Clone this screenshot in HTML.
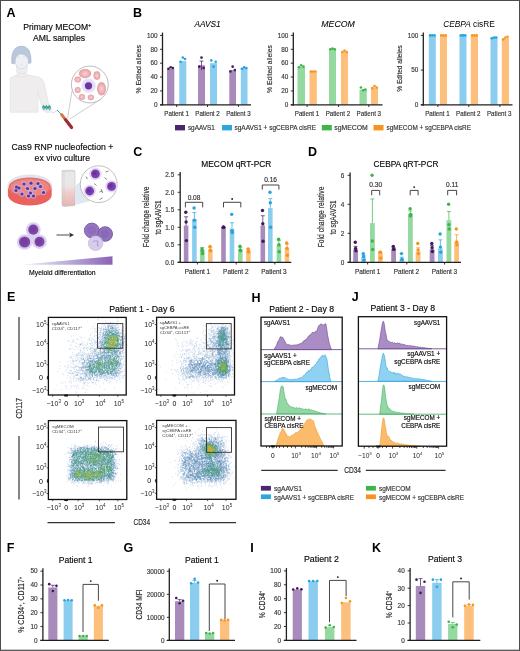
<!DOCTYPE html>
<html><head><meta charset="utf-8"><style>
html,body{margin:0;padding:0;background:#fff;}
body{width:520px;height:651px;overflow:hidden;}
svg{display:block;font-family:"Liberation Sans", sans-serif;will-change:transform;filter:blur(0.3px);}
</style></head><body>
<svg width="520" height="651" viewBox="0 0 520 651">
<rect width="520" height="651" fill="#fff"/>
<text x="6.60" y="16.80" font-size="12.5" font-weight="bold" fill="#000">A</text>
<text x="133.00" y="16.80" font-size="12.5" font-weight="bold" fill="#000">B</text>
<text x="133.30" y="156.40" font-size="12.5" font-weight="bold" fill="#000">C</text>
<text x="307.90" y="156.20" font-size="12.5" font-weight="bold" fill="#000">D</text>
<text x="6.90" y="301.20" font-size="12.5" font-weight="bold" fill="#000">E</text>
<text x="251.50" y="301.50" font-size="12.5" font-weight="bold" fill="#000">H</text>
<text x="351.70" y="301.10" font-size="12.5" font-weight="bold" fill="#000">J</text>
<text x="6.70" y="551.80" font-size="12.5" font-weight="bold" fill="#000">F</text>
<text x="123.60" y="551.70" font-size="12.5" font-weight="bold" fill="#000">G</text>
<text x="250.20" y="551.80" font-size="12.5" font-weight="bold" fill="#000">I</text>
<text x="371.90" y="551.80" font-size="12.5" font-weight="bold" fill="#000">K</text>
<text x="207.60" y="27.00" font-size="8.3" text-anchor="middle" font-style="italic" textLength="26.30" lengthAdjust="spacingAndGlyphs" stroke="#231f20" stroke-width="0.08">AAVS1</text>
<text x="338.10" y="27.00" font-size="8.3" text-anchor="middle" font-style="italic" textLength="33.50" lengthAdjust="spacingAndGlyphs" stroke="#231f20" stroke-width="0.08">MECOM</text>
<text x="443.3" y="27.0" font-size="8.3"><tspan font-style="italic">CEBPA</tspan> cisRE</text>
<rect x="167.00" y="68.71" width="7.30" height="36.09" fill="#a88bbb"/>
<circle cx="168.45" cy="68.71" r="1.30" fill="#3f1b5c"/>
<circle cx="170.65" cy="67.32" r="1.30" fill="#3f1b5c"/>
<circle cx="172.85" cy="68.02" r="1.30" fill="#3f1b5c"/>
<rect x="179.30" y="61.08" width="7.00" height="43.72" fill="#8acdef"/>
<circle cx="180.60" cy="61.77" r="1.30" fill="#27a3dc"/>
<circle cx="182.80" cy="57.61" r="1.30" fill="#27a3dc"/>
<circle cx="185.00" cy="59.00" r="1.30" fill="#27a3dc"/>
<rect x="198.00" y="65.24" width="7.00" height="39.56" fill="#a88bbb"/>
<line x1="201.50" y1="70.10" x2="201.50" y2="61.08" stroke="#3f1b5c" stroke-width="0.7"/>
<line x1="199.50" y1="61.08" x2="203.50" y2="61.08" stroke="#3f1b5c" stroke-width="0.7"/>
<circle cx="199.30" cy="66.63" r="1.30" fill="#3f1b5c"/>
<circle cx="201.50" cy="57.61" r="1.30" fill="#3f1b5c"/>
<circle cx="203.70" cy="68.02" r="1.30" fill="#3f1b5c"/>
<rect x="210.00" y="63.16" width="7.00" height="41.64" fill="#8acdef"/>
<circle cx="211.30" cy="60.38" r="1.30" fill="#27a3dc"/>
<circle cx="213.50" cy="66.63" r="1.30" fill="#27a3dc"/>
<circle cx="215.70" cy="61.77" r="1.30" fill="#27a3dc"/>
<rect x="229.30" y="70.10" width="6.70" height="34.70" fill="#a88bbb"/>
<circle cx="230.45" cy="71.49" r="1.30" fill="#3f1b5c"/>
<circle cx="232.65" cy="66.63" r="1.30" fill="#3f1b5c"/>
<circle cx="234.85" cy="70.10" r="1.30" fill="#3f1b5c"/>
<rect x="240.80" y="68.02" width="6.70" height="36.78" fill="#8acdef"/>
<circle cx="241.95" cy="68.71" r="1.30" fill="#27a3dc"/>
<circle cx="244.15" cy="67.32" r="1.30" fill="#27a3dc"/>
<circle cx="246.35" cy="68.02" r="1.30" fill="#27a3dc"/>
<line x1="162.50" y1="32.60" x2="162.50" y2="105.40" stroke="#231f20" stroke-width="1.3"/>
<line x1="160.00" y1="104.80" x2="251.00" y2="104.80" stroke="#231f20" stroke-width="1.3"/>
<line x1="160.00" y1="104.80" x2="162.50" y2="104.80" stroke="#231f20" stroke-width="0.9"/>
<text x="157.60" y="107.10" font-size="6.4" text-anchor="end" fill="#3a3a3a" stroke="#3a3a3a" stroke-width="0.16">0</text>
<line x1="160.00" y1="90.92" x2="162.50" y2="90.92" stroke="#231f20" stroke-width="0.9"/>
<text x="157.60" y="93.22" font-size="6.4" text-anchor="end" fill="#3a3a3a" stroke="#3a3a3a" stroke-width="0.16">20</text>
<line x1="160.00" y1="77.04" x2="162.50" y2="77.04" stroke="#231f20" stroke-width="0.9"/>
<text x="157.60" y="79.34" font-size="6.4" text-anchor="end" fill="#3a3a3a" stroke="#3a3a3a" stroke-width="0.16">40</text>
<line x1="160.00" y1="63.16" x2="162.50" y2="63.16" stroke="#231f20" stroke-width="0.9"/>
<text x="157.60" y="65.46" font-size="6.4" text-anchor="end" fill="#3a3a3a" stroke="#3a3a3a" stroke-width="0.16">60</text>
<line x1="160.00" y1="49.28" x2="162.50" y2="49.28" stroke="#231f20" stroke-width="0.9"/>
<text x="157.60" y="51.58" font-size="6.4" text-anchor="end" fill="#3a3a3a" stroke="#3a3a3a" stroke-width="0.16">80</text>
<line x1="160.00" y1="35.40" x2="162.50" y2="35.40" stroke="#231f20" stroke-width="0.9"/>
<text x="157.60" y="37.70" font-size="6.4" text-anchor="end" fill="#3a3a3a" stroke="#3a3a3a" stroke-width="0.16">100</text>
<line x1="176.70" y1="104.80" x2="176.70" y2="107.00" stroke="#231f20" stroke-width="0.9"/>
<line x1="207.50" y1="104.80" x2="207.50" y2="107.00" stroke="#231f20" stroke-width="0.9"/>
<line x1="238.40" y1="104.80" x2="238.40" y2="107.00" stroke="#231f20" stroke-width="0.9"/>
<rect x="297.50" y="66.63" width="7.50" height="38.17" fill="#95d8a0"/>
<circle cx="299.05" cy="67.32" r="1.30" fill="#3db54b"/>
<circle cx="301.25" cy="65.24" r="1.30" fill="#3db54b"/>
<circle cx="303.45" cy="66.63" r="1.30" fill="#3db54b"/>
<rect x="309.50" y="71.49" width="7.30" height="33.31" fill="#fcc07c"/>
<circle cx="310.95" cy="71.49" r="1.30" fill="#f7941d"/>
<circle cx="313.15" cy="71.49" r="1.30" fill="#f7941d"/>
<circle cx="315.35" cy="71.49" r="1.30" fill="#f7941d"/>
<rect x="329.00" y="49.28" width="7.00" height="55.52" fill="#95d8a0"/>
<circle cx="330.30" cy="49.28" r="1.30" fill="#3db54b"/>
<circle cx="332.50" cy="48.59" r="1.30" fill="#3db54b"/>
<circle cx="334.70" cy="49.28" r="1.30" fill="#3db54b"/>
<rect x="341.00" y="52.06" width="7.00" height="52.74" fill="#fcc07c"/>
<circle cx="342.30" cy="52.06" r="1.30" fill="#f7941d"/>
<circle cx="344.50" cy="50.67" r="1.30" fill="#f7941d"/>
<circle cx="346.70" cy="52.06" r="1.30" fill="#f7941d"/>
<rect x="359.50" y="89.53" width="7.30" height="15.27" fill="#95d8a0"/>
<circle cx="360.95" cy="87.45" r="1.30" fill="#3db54b"/>
<circle cx="363.15" cy="90.23" r="1.30" fill="#3db54b"/>
<circle cx="365.35" cy="89.53" r="1.30" fill="#3db54b"/>
<rect x="371.00" y="87.45" width="7.00" height="17.35" fill="#fcc07c"/>
<circle cx="372.30" cy="88.14" r="1.30" fill="#f7941d"/>
<circle cx="374.50" cy="86.06" r="1.30" fill="#f7941d"/>
<circle cx="376.70" cy="87.45" r="1.30" fill="#f7941d"/>
<line x1="293.30" y1="32.60" x2="293.30" y2="105.40" stroke="#231f20" stroke-width="1.3"/>
<line x1="290.80" y1="104.80" x2="382.50" y2="104.80" stroke="#231f20" stroke-width="1.3"/>
<line x1="290.80" y1="104.80" x2="293.30" y2="104.80" stroke="#231f20" stroke-width="0.9"/>
<text x="288.40" y="107.10" font-size="6.4" text-anchor="end" fill="#3a3a3a" stroke="#3a3a3a" stroke-width="0.16">0</text>
<line x1="290.80" y1="90.92" x2="293.30" y2="90.92" stroke="#231f20" stroke-width="0.9"/>
<text x="288.40" y="93.22" font-size="6.4" text-anchor="end" fill="#3a3a3a" stroke="#3a3a3a" stroke-width="0.16">20</text>
<line x1="290.80" y1="77.04" x2="293.30" y2="77.04" stroke="#231f20" stroke-width="0.9"/>
<text x="288.40" y="79.34" font-size="6.4" text-anchor="end" fill="#3a3a3a" stroke="#3a3a3a" stroke-width="0.16">40</text>
<line x1="290.80" y1="63.16" x2="293.30" y2="63.16" stroke="#231f20" stroke-width="0.9"/>
<text x="288.40" y="65.46" font-size="6.4" text-anchor="end" fill="#3a3a3a" stroke="#3a3a3a" stroke-width="0.16">60</text>
<line x1="290.80" y1="49.28" x2="293.30" y2="49.28" stroke="#231f20" stroke-width="0.9"/>
<text x="288.40" y="51.58" font-size="6.4" text-anchor="end" fill="#3a3a3a" stroke="#3a3a3a" stroke-width="0.16">80</text>
<line x1="290.80" y1="35.40" x2="293.30" y2="35.40" stroke="#231f20" stroke-width="0.9"/>
<text x="288.40" y="37.70" font-size="6.4" text-anchor="end" fill="#3a3a3a" stroke="#3a3a3a" stroke-width="0.16">100</text>
<line x1="307.10" y1="104.80" x2="307.10" y2="107.00" stroke="#231f20" stroke-width="0.9"/>
<line x1="338.50" y1="104.80" x2="338.50" y2="107.00" stroke="#231f20" stroke-width="0.9"/>
<line x1="368.80" y1="104.80" x2="368.80" y2="107.00" stroke="#231f20" stroke-width="0.9"/>
<rect x="428.80" y="35.40" width="7.00" height="69.40" fill="#8acdef"/>
<circle cx="430.10" cy="35.40" r="1.30" fill="#27a3dc"/>
<circle cx="432.30" cy="35.40" r="1.30" fill="#27a3dc"/>
<circle cx="434.50" cy="35.40" r="1.30" fill="#27a3dc"/>
<rect x="440.00" y="35.40" width="7.00" height="69.40" fill="#fcc07c"/>
<circle cx="441.30" cy="35.40" r="1.30" fill="#f7941d"/>
<circle cx="443.50" cy="35.40" r="1.30" fill="#f7941d"/>
<circle cx="445.70" cy="35.40" r="1.30" fill="#f7941d"/>
<rect x="459.50" y="35.40" width="7.00" height="69.40" fill="#8acdef"/>
<circle cx="460.80" cy="35.40" r="1.30" fill="#27a3dc"/>
<circle cx="463.00" cy="35.40" r="1.30" fill="#27a3dc"/>
<circle cx="465.20" cy="35.40" r="1.30" fill="#27a3dc"/>
<rect x="470.80" y="35.40" width="7.20" height="69.40" fill="#fcc07c"/>
<circle cx="472.20" cy="35.40" r="1.30" fill="#f7941d"/>
<circle cx="474.40" cy="35.40" r="1.30" fill="#f7941d"/>
<circle cx="476.60" cy="35.40" r="1.30" fill="#f7941d"/>
<rect x="490.50" y="37.48" width="7.00" height="67.32" fill="#8acdef"/>
<circle cx="491.80" cy="38.18" r="1.30" fill="#27a3dc"/>
<circle cx="494.00" cy="37.48" r="1.30" fill="#27a3dc"/>
<circle cx="496.20" cy="37.48" r="1.30" fill="#27a3dc"/>
<rect x="501.80" y="38.18" width="7.20" height="66.62" fill="#fcc07c"/>
<circle cx="503.20" cy="39.56" r="1.30" fill="#f7941d"/>
<circle cx="505.40" cy="37.48" r="1.30" fill="#f7941d"/>
<circle cx="507.60" cy="36.79" r="1.30" fill="#f7941d"/>
<line x1="423.30" y1="32.60" x2="423.30" y2="105.40" stroke="#231f20" stroke-width="1.3"/>
<line x1="420.80" y1="104.80" x2="512.50" y2="104.80" stroke="#231f20" stroke-width="1.3"/>
<line x1="420.80" y1="104.80" x2="423.30" y2="104.80" stroke="#231f20" stroke-width="0.9"/>
<text x="418.40" y="107.10" font-size="6.4" text-anchor="end" fill="#3a3a3a" stroke="#3a3a3a" stroke-width="0.16">0</text>
<line x1="420.80" y1="70.10" x2="423.30" y2="70.10" stroke="#231f20" stroke-width="0.9"/>
<text x="418.40" y="72.40" font-size="6.4" text-anchor="end" fill="#3a3a3a" stroke="#3a3a3a" stroke-width="0.16">50</text>
<line x1="420.80" y1="35.40" x2="423.30" y2="35.40" stroke="#231f20" stroke-width="0.9"/>
<text x="418.40" y="37.70" font-size="6.4" text-anchor="end" fill="#3a3a3a" stroke="#3a3a3a" stroke-width="0.16">100</text>
<line x1="437.90" y1="104.80" x2="437.90" y2="107.00" stroke="#231f20" stroke-width="0.9"/>
<line x1="468.80" y1="104.80" x2="468.80" y2="107.00" stroke="#231f20" stroke-width="0.9"/>
<line x1="499.90" y1="104.80" x2="499.90" y2="107.00" stroke="#231f20" stroke-width="0.9"/>
<text x="176.60" y="116.20" font-size="6.6" text-anchor="middle" textLength="24.50" lengthAdjust="spacingAndGlyphs" fill="#333" stroke="#333" stroke-width="0.16">Patient 1</text>
<text x="207.50" y="116.20" font-size="6.6" text-anchor="middle" textLength="24.50" lengthAdjust="spacingAndGlyphs" fill="#333" stroke="#333" stroke-width="0.16">Patient 2</text>
<text x="238.40" y="116.20" font-size="6.6" text-anchor="middle" textLength="24.50" lengthAdjust="spacingAndGlyphs" fill="#333" stroke="#333" stroke-width="0.16">Patient 3</text>
<text x="307.00" y="116.20" font-size="6.6" text-anchor="middle" textLength="24.50" lengthAdjust="spacingAndGlyphs" fill="#333" stroke="#333" stroke-width="0.16">Patient 1</text>
<text x="337.90" y="116.20" font-size="6.6" text-anchor="middle" textLength="24.50" lengthAdjust="spacingAndGlyphs" fill="#333" stroke="#333" stroke-width="0.16">Patient 2</text>
<text x="368.80" y="116.20" font-size="6.6" text-anchor="middle" textLength="24.50" lengthAdjust="spacingAndGlyphs" fill="#333" stroke="#333" stroke-width="0.16">Patient 3</text>
<text x="437.40" y="116.20" font-size="6.6" text-anchor="middle" textLength="24.50" lengthAdjust="spacingAndGlyphs" fill="#333" stroke="#333" stroke-width="0.16">Patient 1</text>
<text x="468.30" y="116.20" font-size="6.6" text-anchor="middle" textLength="24.50" lengthAdjust="spacingAndGlyphs" fill="#333" stroke="#333" stroke-width="0.16">Patient 2</text>
<text x="499.20" y="116.20" font-size="6.6" text-anchor="middle" textLength="24.50" lengthAdjust="spacingAndGlyphs" fill="#333" stroke="#333" stroke-width="0.16">Patient 3</text>
<text x="140.80" y="69.30" font-size="7.6" text-anchor="middle" textLength="48.40" lengthAdjust="spacingAndGlyphs" fill="#2e2e2e" stroke="#2e2e2e" stroke-width="0.16" transform="rotate(-90 140.80 69.30)">% Edited alleles</text>
<text x="271.50" y="69.00" font-size="7.6" text-anchor="middle" textLength="47.90" lengthAdjust="spacingAndGlyphs" fill="#2e2e2e" stroke="#2e2e2e" stroke-width="0.16" transform="rotate(-90 271.50 69.00)">% Edited alleles</text>
<text x="402.10" y="68.40" font-size="7.6" text-anchor="middle" textLength="46.50" lengthAdjust="spacingAndGlyphs" fill="#2e2e2e" stroke="#2e2e2e" stroke-width="0.16" transform="rotate(-90 402.10 68.40)">% Edited alleles</text>
<rect x="175.00" y="125.00" width="10.00" height="5.40" fill="#4b2570"/>
<text x="187.90" y="130.20" font-size="7.0" textLength="27.00" lengthAdjust="spacingAndGlyphs" fill="#333" stroke="#333" stroke-width="0.16">sgAAVS1</text>
<rect x="222.00" y="125.00" width="10.00" height="5.40" fill="#2ba6de"/>
<text x="234.50" y="130.20" font-size="7.0" textLength="81.50" lengthAdjust="spacingAndGlyphs" fill="#333" stroke="#333" stroke-width="0.16">sgAAVS1 + sgCEBPA cisRE</text>
<rect x="321.80" y="125.00" width="10.00" height="5.40" fill="#3db54b"/>
<text x="334.30" y="130.20" font-size="7.0" textLength="33.50" lengthAdjust="spacingAndGlyphs" fill="#333" stroke="#333" stroke-width="0.16">sgMECOM</text>
<rect x="373.50" y="125.00" width="10.00" height="5.40" fill="#f7941d"/>
<text x="386.50" y="130.20" font-size="7.0" textLength="84.50" lengthAdjust="spacingAndGlyphs" fill="#333" stroke="#333" stroke-width="0.16">sgMECOM + sgCEBPA cisRE</text>
<rect x="0.5" y="0.5" width="519" height="649.7" fill="none" stroke="#4b4b4b" stroke-width="1"/>
<rect x="0" y="650.3" width="520" height="0.7" fill="#4b4b4b"/>
<text x="236.30" y="166.60" font-size="8.5" text-anchor="middle" textLength="70.00" lengthAdjust="spacingAndGlyphs" stroke="#231f20" stroke-width="0.16">MECOM qRT-PCR</text>
<rect x="183.80" y="225.55" width="4.60" height="36.75" fill="#a88bbb"/>
<line x1="186.10" y1="225.55" x2="186.10" y2="216.80" stroke="#3f1b5c" stroke-width="0.7"/>
<line x1="184.10" y1="216.80" x2="188.10" y2="216.80" stroke="#3f1b5c" stroke-width="0.7"/>
<circle cx="185.80" cy="212.25" r="1.70" fill="#3f1b5c"/>
<circle cx="186.10" cy="222.05" r="1.70" fill="#3f1b5c"/>
<circle cx="186.40" cy="240.60" r="1.70" fill="#3f1b5c"/>
<rect x="192.10" y="219.25" width="4.60" height="43.05" fill="#8acdef"/>
<line x1="194.40" y1="219.25" x2="194.40" y2="212.60" stroke="#27a3dc" stroke-width="0.7"/>
<line x1="192.40" y1="212.60" x2="196.40" y2="212.60" stroke="#27a3dc" stroke-width="0.7"/>
<circle cx="194.10" cy="208.05" r="1.70" fill="#27a3dc"/>
<circle cx="194.40" cy="220.30" r="1.70" fill="#27a3dc"/>
<circle cx="194.70" cy="227.30" r="1.70" fill="#27a3dc"/>
<rect x="200.00" y="249.70" width="4.60" height="12.60" fill="#95d8a0"/>
<line x1="202.30" y1="249.70" x2="202.30" y2="247.60" stroke="#3db54b" stroke-width="0.7"/>
<line x1="200.30" y1="247.60" x2="204.30" y2="247.60" stroke="#3db54b" stroke-width="0.7"/>
<circle cx="202.00" cy="249.00" r="1.70" fill="#3db54b"/>
<circle cx="202.30" cy="250.75" r="1.70" fill="#3db54b"/>
<circle cx="202.60" cy="253.55" r="1.70" fill="#3db54b"/>
<rect x="208.00" y="249.70" width="4.60" height="12.60" fill="#fcc07c"/>
<line x1="210.30" y1="249.70" x2="210.30" y2="247.25" stroke="#f7941d" stroke-width="0.7"/>
<line x1="208.30" y1="247.25" x2="212.30" y2="247.25" stroke="#f7941d" stroke-width="0.7"/>
<circle cx="210.00" cy="246.55" r="1.70" fill="#f7941d"/>
<circle cx="210.30" cy="250.05" r="1.70" fill="#f7941d"/>
<circle cx="210.60" cy="250.75" r="1.70" fill="#f7941d"/>
<rect x="221.20" y="227.30" width="4.60" height="35.00" fill="#a88bbb"/>
<circle cx="223.20" cy="227.30" r="1.70" fill="#3f1b5c"/>
<circle cx="223.50" cy="227.30" r="1.70" fill="#3f1b5c"/>
<circle cx="223.80" cy="227.30" r="1.70" fill="#3f1b5c"/>
<rect x="229.70" y="228.70" width="4.60" height="33.60" fill="#8acdef"/>
<line x1="232.00" y1="228.70" x2="232.00" y2="222.75" stroke="#27a3dc" stroke-width="0.7"/>
<line x1="230.00" y1="222.75" x2="234.00" y2="222.75" stroke="#27a3dc" stroke-width="0.7"/>
<circle cx="231.70" cy="214.35" r="1.70" fill="#27a3dc"/>
<circle cx="232.00" cy="230.80" r="1.70" fill="#27a3dc"/>
<circle cx="232.30" cy="232.55" r="1.70" fill="#27a3dc"/>
<rect x="238.00" y="249.35" width="4.60" height="12.95" fill="#95d8a0"/>
<line x1="240.30" y1="249.35" x2="240.30" y2="247.25" stroke="#3db54b" stroke-width="0.7"/>
<line x1="238.30" y1="247.25" x2="242.30" y2="247.25" stroke="#3db54b" stroke-width="0.7"/>
<circle cx="240.00" cy="246.20" r="1.70" fill="#3db54b"/>
<circle cx="240.30" cy="250.05" r="1.70" fill="#3db54b"/>
<circle cx="240.60" cy="250.75" r="1.70" fill="#3db54b"/>
<rect x="246.10" y="250.75" width="4.60" height="11.55" fill="#fcc07c"/>
<line x1="248.40" y1="250.75" x2="248.40" y2="249.00" stroke="#f7941d" stroke-width="0.7"/>
<line x1="246.40" y1="249.00" x2="250.40" y2="249.00" stroke="#f7941d" stroke-width="0.7"/>
<circle cx="248.10" cy="249.00" r="1.70" fill="#f7941d"/>
<circle cx="248.40" cy="251.80" r="1.70" fill="#f7941d"/>
<circle cx="248.70" cy="251.80" r="1.70" fill="#f7941d"/>
<rect x="260.50" y="225.55" width="4.60" height="36.75" fill="#a88bbb"/>
<line x1="262.80" y1="225.55" x2="262.80" y2="215.75" stroke="#3f1b5c" stroke-width="0.7"/>
<line x1="260.80" y1="215.75" x2="264.80" y2="215.75" stroke="#3f1b5c" stroke-width="0.7"/>
<circle cx="262.50" cy="210.50" r="1.70" fill="#3f1b5c"/>
<circle cx="262.80" cy="223.80" r="1.70" fill="#3f1b5c"/>
<circle cx="263.10" cy="241.30" r="1.70" fill="#3f1b5c"/>
<rect x="268.00" y="208.05" width="4.60" height="54.25" fill="#8acdef"/>
<line x1="270.30" y1="208.05" x2="270.30" y2="198.60" stroke="#27a3dc" stroke-width="0.7"/>
<line x1="268.30" y1="198.60" x2="272.30" y2="198.60" stroke="#27a3dc" stroke-width="0.7"/>
<circle cx="270.00" cy="192.30" r="1.70" fill="#27a3dc"/>
<circle cx="270.30" cy="202.80" r="1.70" fill="#27a3dc"/>
<circle cx="270.60" cy="227.30" r="1.70" fill="#27a3dc"/>
<rect x="276.60" y="244.80" width="4.60" height="17.50" fill="#95d8a0"/>
<line x1="278.90" y1="244.80" x2="278.90" y2="240.60" stroke="#3db54b" stroke-width="0.7"/>
<line x1="276.90" y1="240.60" x2="280.90" y2="240.60" stroke="#3db54b" stroke-width="0.7"/>
<circle cx="278.60" cy="239.20" r="1.70" fill="#3db54b"/>
<circle cx="278.90" cy="244.80" r="1.70" fill="#3db54b"/>
<circle cx="279.20" cy="251.80" r="1.70" fill="#3db54b"/>
<rect x="284.70" y="248.30" width="4.60" height="14.00" fill="#fcc07c"/>
<line x1="287.00" y1="248.30" x2="287.00" y2="244.10" stroke="#f7941d" stroke-width="0.7"/>
<line x1="285.00" y1="244.10" x2="289.00" y2="244.10" stroke="#f7941d" stroke-width="0.7"/>
<circle cx="286.70" cy="243.05" r="1.70" fill="#f7941d"/>
<circle cx="287.00" cy="248.30" r="1.70" fill="#f7941d"/>
<circle cx="287.30" cy="255.30" r="1.70" fill="#f7941d"/>
<line x1="180.20" y1="172.00" x2="180.20" y2="262.90" stroke="#231f20" stroke-width="1.3"/>
<line x1="177.70" y1="262.30" x2="291.30" y2="262.30" stroke="#231f20" stroke-width="1.3"/>
<line x1="177.70" y1="262.30" x2="180.20" y2="262.30" stroke="#231f20" stroke-width="0.9"/>
<text x="174.20" y="264.60" font-size="6.4" text-anchor="end" fill="#3a3a3a" stroke="#3a3a3a" stroke-width="0.16">0.0</text>
<line x1="177.70" y1="244.80" x2="180.20" y2="244.80" stroke="#231f20" stroke-width="0.9"/>
<text x="174.20" y="247.10" font-size="6.4" text-anchor="end" fill="#3a3a3a" stroke="#3a3a3a" stroke-width="0.16">0.5</text>
<line x1="177.70" y1="227.30" x2="180.20" y2="227.30" stroke="#231f20" stroke-width="0.9"/>
<text x="174.20" y="229.60" font-size="6.4" text-anchor="end" fill="#3a3a3a" stroke="#3a3a3a" stroke-width="0.16">1.0</text>
<line x1="177.70" y1="209.80" x2="180.20" y2="209.80" stroke="#231f20" stroke-width="0.9"/>
<text x="174.20" y="212.10" font-size="6.4" text-anchor="end" fill="#3a3a3a" stroke="#3a3a3a" stroke-width="0.16">1.5</text>
<line x1="177.70" y1="192.30" x2="180.20" y2="192.30" stroke="#231f20" stroke-width="0.9"/>
<text x="174.20" y="194.60" font-size="6.4" text-anchor="end" fill="#3a3a3a" stroke="#3a3a3a" stroke-width="0.16">2.0</text>
<line x1="177.70" y1="174.80" x2="180.20" y2="174.80" stroke="#231f20" stroke-width="0.9"/>
<text x="174.20" y="177.10" font-size="6.4" text-anchor="end" fill="#3a3a3a" stroke="#3a3a3a" stroke-width="0.16">2.5</text>
<line x1="197.40" y1="262.30" x2="197.40" y2="264.50" stroke="#231f20" stroke-width="0.9"/>
<line x1="236.20" y1="262.30" x2="236.20" y2="264.50" stroke="#231f20" stroke-width="0.9"/>
<line x1="274.80" y1="262.30" x2="274.80" y2="264.50" stroke="#231f20" stroke-width="0.9"/>
<polyline points="185.40,207.40 185.40,202.30 202.70,202.30 202.70,207.40" fill="none" stroke="#3d3d3d" stroke-width="0.95"/>
<text x="194.05" y="199.70" font-size="6.6" text-anchor="middle" fill="#333" stroke="#333" stroke-width="0.16">0.08</text>
<polyline points="223.50,207.40 223.50,202.30 240.80,202.30 240.80,207.40" fill="none" stroke="#3d3d3d" stroke-width="0.95"/>
<circle cx="232.15" cy="199.00" r="0.95" fill="#222"/>
<polyline points="262.30,189.60 262.30,185.00 278.90,185.00 278.90,189.60" fill="none" stroke="#3d3d3d" stroke-width="0.95"/>
<text x="270.60" y="182.30" font-size="6.6" text-anchor="middle" fill="#333" stroke="#333" stroke-width="0.16">0.16</text>
<text x="197.50" y="274.00" font-size="6.6" text-anchor="middle" textLength="25.40" lengthAdjust="spacingAndGlyphs" fill="#333" stroke="#333" stroke-width="0.16">Patient 1</text>
<text x="235.80" y="274.00" font-size="6.6" text-anchor="middle" textLength="25.40" lengthAdjust="spacingAndGlyphs" fill="#333" stroke="#333" stroke-width="0.16">Patient 2</text>
<text x="274.00" y="274.00" font-size="6.6" text-anchor="middle" textLength="25.40" lengthAdjust="spacingAndGlyphs" fill="#333" stroke="#333" stroke-width="0.16">Patient 3</text>
<text x="149.30" y="216.80" font-size="8.8" text-anchor="middle" textLength="60.80" lengthAdjust="spacingAndGlyphs" fill="#2a2a2a" stroke="#2a2a2a" stroke-width="0.16" transform="rotate(-90 149.30 216.80)">Fold change relative</text>
<text x="160.90" y="217.50" font-size="8.8" text-anchor="middle" textLength="34.20" lengthAdjust="spacingAndGlyphs" fill="#2a2a2a" stroke="#2a2a2a" stroke-width="0.16" transform="rotate(-90 160.90 217.50)">to sgAAVS1</text>
<text x="406.00" y="166.60" font-size="8.5" text-anchor="middle" textLength="64.80" lengthAdjust="spacingAndGlyphs" stroke="#231f20" stroke-width="0.16">CEBPA qRT-PCR</text>
<rect x="353.20" y="249.54" width="4.80" height="12.76" fill="#a88bbb"/>
<line x1="355.60" y1="249.54" x2="355.60" y2="246.35" stroke="#3f1b5c" stroke-width="0.7"/>
<line x1="353.60" y1="246.35" x2="357.60" y2="246.35" stroke="#3f1b5c" stroke-width="0.7"/>
<circle cx="355.30" cy="242.29" r="1.70" fill="#3f1b5c"/>
<circle cx="355.60" cy="248.53" r="1.70" fill="#3f1b5c"/>
<circle cx="355.90" cy="250.70" r="1.70" fill="#3f1b5c"/>
<rect x="361.20" y="257.23" width="4.80" height="5.07" fill="#8acdef"/>
<line x1="363.60" y1="257.23" x2="363.60" y2="255.05" stroke="#27a3dc" stroke-width="0.7"/>
<line x1="361.60" y1="255.05" x2="365.60" y2="255.05" stroke="#27a3dc" stroke-width="0.7"/>
<circle cx="363.30" cy="253.60" r="1.70" fill="#27a3dc"/>
<circle cx="363.60" cy="256.50" r="1.70" fill="#27a3dc"/>
<circle cx="363.90" cy="260.12" r="1.70" fill="#27a3dc"/>
<rect x="370.00" y="223.15" width="4.80" height="39.15" fill="#95d8a0"/>
<line x1="372.40" y1="223.15" x2="372.40" y2="198.94" stroke="#3db54b" stroke-width="0.7"/>
<line x1="370.40" y1="198.94" x2="374.40" y2="198.94" stroke="#3db54b" stroke-width="0.7"/>
<circle cx="372.10" cy="175.30" r="1.70" fill="#3db54b"/>
<circle cx="372.40" cy="240.99" r="1.70" fill="#3db54b"/>
<circle cx="372.70" cy="249.54" r="1.70" fill="#3db54b"/>
<rect x="378.00" y="252.88" width="4.80" height="9.43" fill="#fcc07c"/>
<line x1="380.40" y1="252.88" x2="380.40" y2="252.15" stroke="#f7941d" stroke-width="0.7"/>
<line x1="378.40" y1="252.15" x2="382.40" y2="252.15" stroke="#f7941d" stroke-width="0.7"/>
<circle cx="380.10" cy="252.15" r="1.70" fill="#f7941d"/>
<circle cx="380.40" cy="252.15" r="1.70" fill="#f7941d"/>
<circle cx="380.70" cy="257.95" r="1.70" fill="#f7941d"/>
<rect x="391.20" y="249.25" width="4.80" height="13.05" fill="#a88bbb"/>
<line x1="393.60" y1="249.25" x2="393.60" y2="247.80" stroke="#3f1b5c" stroke-width="0.7"/>
<line x1="391.60" y1="247.80" x2="395.60" y2="247.80" stroke="#3f1b5c" stroke-width="0.7"/>
<circle cx="393.30" cy="246.35" r="1.70" fill="#3f1b5c"/>
<circle cx="393.60" cy="249.25" r="1.70" fill="#3f1b5c"/>
<circle cx="393.90" cy="249.25" r="1.70" fill="#3f1b5c"/>
<rect x="399.40" y="259.40" width="4.80" height="2.90" fill="#8acdef"/>
<line x1="401.80" y1="259.40" x2="401.80" y2="257.23" stroke="#27a3dc" stroke-width="0.7"/>
<line x1="399.80" y1="257.23" x2="403.80" y2="257.23" stroke="#27a3dc" stroke-width="0.7"/>
<circle cx="401.50" cy="253.60" r="1.70" fill="#27a3dc"/>
<circle cx="401.80" cy="259.40" r="1.70" fill="#27a3dc"/>
<circle cx="402.10" cy="259.40" r="1.70" fill="#27a3dc"/>
<rect x="408.00" y="213.73" width="4.80" height="48.57" fill="#95d8a0"/>
<line x1="410.40" y1="213.73" x2="410.40" y2="210.83" stroke="#3db54b" stroke-width="0.7"/>
<line x1="408.40" y1="210.83" x2="412.40" y2="210.83" stroke="#3db54b" stroke-width="0.7"/>
<circle cx="410.10" cy="208.65" r="1.70" fill="#3db54b"/>
<circle cx="410.40" cy="215.90" r="1.70" fill="#3db54b"/>
<circle cx="410.70" cy="214.45" r="1.70" fill="#3db54b"/>
<rect x="415.70" y="251.43" width="4.80" height="10.88" fill="#fcc07c"/>
<line x1="418.10" y1="251.43" x2="418.10" y2="247.80" stroke="#f7941d" stroke-width="0.7"/>
<line x1="416.10" y1="247.80" x2="420.10" y2="247.80" stroke="#f7941d" stroke-width="0.7"/>
<circle cx="417.80" cy="243.45" r="1.70" fill="#f7941d"/>
<circle cx="418.10" cy="249.98" r="1.70" fill="#f7941d"/>
<circle cx="418.40" cy="253.60" r="1.70" fill="#f7941d"/>
<rect x="429.70" y="249.25" width="4.80" height="13.05" fill="#a88bbb"/>
<line x1="432.10" y1="249.25" x2="432.10" y2="245.62" stroke="#3f1b5c" stroke-width="0.7"/>
<line x1="430.10" y1="245.62" x2="434.10" y2="245.62" stroke="#3f1b5c" stroke-width="0.7"/>
<circle cx="431.80" cy="243.45" r="1.70" fill="#3f1b5c"/>
<circle cx="432.10" cy="247.80" r="1.70" fill="#3f1b5c"/>
<circle cx="432.40" cy="251.43" r="1.70" fill="#3f1b5c"/>
<rect x="438.00" y="248.53" width="4.80" height="13.78" fill="#8acdef"/>
<line x1="440.40" y1="248.53" x2="440.40" y2="239.83" stroke="#27a3dc" stroke-width="0.7"/>
<line x1="438.40" y1="239.83" x2="442.40" y2="239.83" stroke="#27a3dc" stroke-width="0.7"/>
<circle cx="440.10" cy="234.03" r="1.70" fill="#27a3dc"/>
<circle cx="440.40" cy="247.08" r="1.70" fill="#27a3dc"/>
<circle cx="440.70" cy="252.15" r="1.70" fill="#27a3dc"/>
<rect x="446.50" y="220.25" width="4.80" height="42.05" fill="#95d8a0"/>
<line x1="448.90" y1="220.25" x2="448.90" y2="211.55" stroke="#3db54b" stroke-width="0.7"/>
<line x1="446.90" y1="211.55" x2="450.90" y2="211.55" stroke="#3db54b" stroke-width="0.7"/>
<circle cx="448.60" cy="204.30" r="1.70" fill="#3db54b"/>
<circle cx="448.90" cy="224.60" r="1.70" fill="#3db54b"/>
<circle cx="449.20" cy="228.95" r="1.70" fill="#3db54b"/>
<rect x="454.20" y="242.00" width="4.80" height="20.30" fill="#fcc07c"/>
<line x1="456.60" y1="242.00" x2="456.60" y2="234.75" stroke="#f7941d" stroke-width="0.7"/>
<line x1="454.60" y1="234.75" x2="458.60" y2="234.75" stroke="#f7941d" stroke-width="0.7"/>
<circle cx="456.30" cy="228.95" r="1.70" fill="#f7941d"/>
<circle cx="456.60" cy="242.00" r="1.70" fill="#f7941d"/>
<circle cx="456.90" cy="244.90" r="1.70" fill="#f7941d"/>
<line x1="350.10" y1="172.50" x2="350.10" y2="262.90" stroke="#231f20" stroke-width="1.3"/>
<line x1="347.60" y1="262.30" x2="461.00" y2="262.30" stroke="#231f20" stroke-width="1.3"/>
<line x1="347.60" y1="262.30" x2="350.10" y2="262.30" stroke="#231f20" stroke-width="0.9"/>
<text x="344.30" y="264.60" font-size="6.4" text-anchor="end" fill="#3a3a3a" stroke="#3a3a3a" stroke-width="0.16">0</text>
<line x1="347.60" y1="233.30" x2="350.10" y2="233.30" stroke="#231f20" stroke-width="0.9"/>
<text x="344.30" y="235.60" font-size="6.4" text-anchor="end" fill="#3a3a3a" stroke="#3a3a3a" stroke-width="0.16">2</text>
<line x1="347.60" y1="204.30" x2="350.10" y2="204.30" stroke="#231f20" stroke-width="0.9"/>
<text x="344.30" y="206.60" font-size="6.4" text-anchor="end" fill="#3a3a3a" stroke="#3a3a3a" stroke-width="0.16">4</text>
<line x1="347.60" y1="175.30" x2="350.10" y2="175.30" stroke="#231f20" stroke-width="0.9"/>
<text x="344.30" y="177.60" font-size="6.4" text-anchor="end" fill="#3a3a3a" stroke="#3a3a3a" stroke-width="0.16">6</text>
<line x1="367.60" y1="262.30" x2="367.60" y2="264.50" stroke="#231f20" stroke-width="0.9"/>
<line x1="406.80" y1="262.30" x2="406.80" y2="264.50" stroke="#231f20" stroke-width="0.9"/>
<line x1="444.60" y1="262.30" x2="444.60" y2="264.50" stroke="#231f20" stroke-width="0.9"/>
<polyline points="371.70,195.30 371.70,190.40 379.70,190.40 379.70,195.30" fill="none" stroke="#3d3d3d" stroke-width="0.95"/>
<text x="375.70" y="186.90" font-size="6.6" text-anchor="middle" fill="#333" stroke="#333" stroke-width="0.16">0.30</text>
<polyline points="410.20,195.30 410.20,190.40 418.10,190.40 418.10,195.30" fill="none" stroke="#3d3d3d" stroke-width="0.95"/>
<circle cx="414.15" cy="187.10" r="0.95" fill="#222"/>
<polyline points="447.70,195.30 447.70,190.40 456.60,190.40 456.60,195.30" fill="none" stroke="#3d3d3d" stroke-width="0.95"/>
<text x="452.15" y="186.90" font-size="6.6" text-anchor="middle" fill="#333" stroke="#333" stroke-width="0.16">0.11</text>
<text x="367.60" y="274.30" font-size="6.6" text-anchor="middle" textLength="25.40" lengthAdjust="spacingAndGlyphs" fill="#333" stroke="#333" stroke-width="0.16">Patient 1</text>
<text x="406.50" y="274.30" font-size="6.6" text-anchor="middle" textLength="25.40" lengthAdjust="spacingAndGlyphs" fill="#333" stroke="#333" stroke-width="0.16">Patient 2</text>
<text x="444.50" y="274.30" font-size="6.6" text-anchor="middle" textLength="25.40" lengthAdjust="spacingAndGlyphs" fill="#333" stroke="#333" stroke-width="0.16">Patient 3</text>
<text x="324.30" y="216.90" font-size="8.8" text-anchor="middle" textLength="60.80" lengthAdjust="spacingAndGlyphs" fill="#2a2a2a" stroke="#2a2a2a" stroke-width="0.16" transform="rotate(-90 324.30 216.90)">Fold change relative</text>
<text x="335.80" y="217.50" font-size="8.8" text-anchor="middle" textLength="34.00" lengthAdjust="spacingAndGlyphs" fill="#2a2a2a" stroke="#2a2a2a" stroke-width="0.16" transform="rotate(-90 335.80 217.50)">to sgAAVS1</text>
<path transform="translate(48.4 317.4) scale(.1)" d="M685 16h8m-207 4h8m4 5h8m63 8h8m109 1h8m3 4h8m-191 16h8m20-1h8m17-1h8m1 1h8m-1 0h8m10 2h8m7 1h8m-6-4h8m-7 4h8m5-7h8m9 1h8m24-3h8m43 11h8m-279 4h8m65 10h8m10 4h8m-7-13h8m94 2h8m13 2h8m-7 7h8m2-12h8m-8 12h8m19-1h8m19-13h8m-304 34h8m38 5h8m6 0h8m14-5h8m-3 5h8m7-7h8m4-11h8m116 2h8m3 6h8m37-3h8m-4 11h8m-319 19h8m19-4h8m-5 5h8m9-10h8m8 11h8m2-7h8m3 0h8m-2 3h8m-2-3h8m193-5h8m13 0h8m-287 23h8m-4 9h8m7-5h8m-7 1h8m227-4h8m-7-2h8m9 4h8m-4-2h8m-322 22h8m13-12h8m1 14h8m8-5h8m17 2h8m228 6h8m-4-12h8m-338 27h8m37 6h8m21-16h8m-3 4h8m2 13h8m236-9h8m6-1h8m-544 19h8m16-3h8m55 4h8m12 10h8m71 0h8m-1-18h8m29 12h8m-4-6h8m12-5h8m0 7h8m6 1h8m252 1h8m-487 20h8m30-4h8m33-1h8m34 9h8m0 4h8m13-12h8m22 12h8m288-18h8m-5 18h8m-585 15h8m7 4h8m-6-1h8m26-2h8m2-13h8m26-1h8m14 2h8m82 6h8m3-9h8m2 9h8m5 6h8m4-13h8m-1-2h8m6 12h8m14-8h8m-257 26h8m9-9h8m-6 1h8m64 17h8m6-17h8m14 10h8m19 3h8m34-12h8m0 12h8m7-9h8m-1 2h8m-3 9h8m291-10h8m-548 26h8m43-12h8m21 7h8m1-1h8m-6 8h8m-3 0h8m-7-5h8m-6 1h8m-4-2h8m-2-3h8m-7-5h8m0 17h8m2-1h8m25-10h8m-4 3h8m7-8h8m3 3h8m-3-1h8m-3-3h8m-3 18h8m5-11h8m2 6h8m1-11h8m-249 24h8m42 3h8m1 4h8m15 1h8m0-2h8m36 6h8m6-18h8m0 5h8m14 8h8m15-10h8m8-4h8m316 0h8m-565 39h8m0-1h8m-2-5h8m8-5h8m49 6h8m29-10h8m12 11h8m-8-4h8m1-10h8m-3 6h8m8 8h8m-5-14h8m-5 16h8m-5-14h8m7 3h8m8-4h8m-2 4h8m-172 15h8m45 3h8m-5 4h8m-5 2h8m24-7h8m31 8h8m8-10h8m-176 31h8m54-1h8m4 7h8m1-16h8m-8 10h8m8 5h8m-6-9h8m2-3h8m-1 10h8m387 3h8m3-8h8m-527 20h8m24 5h8m-6-8h8m-2 11h8m-1-11h8m0-3h8m-5 1h8m-7-3h8m36 3h8m10 2h8m-1-3h8m2 2h8m357 5h8m-532 19h8m-5 9h8m27-15h8m-5 4h8m9-6h8m-2 6h8m-2-6h8m442 15h8m-4-7h8m-4-1h8m-3 8h8m-551 8h8m-1-4h8m-3 0h8m9 6h8m16 8h8m7-13h8m1 7h8m1-1h8m5-7h8m424 10h8m-537 20h8m18 2h8m-5-9h8m-7 13h8m-2-7h8m3 7h8m1 0h8m0-6h8m-8-1h8m4-5h8m6 12h8m-8-12h8m-4 14h8m426-18h8m5 15h8m-649 8h8m70-3h8m34 6h8m-8 1h8m7-7h8m21-1h8m20 4h8m-8 12h8m432-10h8m-560 28h8m16-8h8m20-5h8m-6 10h8m4 7h8m11-4h8m6-13h8m447 7h8m-8 5h8m-647 8h8m44 12h8m-3-5h8m18 8h8m-4-13h8m18 11h8m0 2h8m23-2h8m-3-3h8m-7-2h8m3 6h8m-2-10h8m-6 0h8m460-3h8m-654 33h8m74-6h8m1-9h8m31 3h8m3 1h8m-6 3h8m3-4h8m-1 1h8m-106 33h8m0-10h8m23 7h8m1-3h8m-3-3h8m-3 8h8m21-15h8m496-1h8m-7 18h8m-684 4h8m98 12h8m-1-3h8m7 7h8m-7 0h8m2-3h8m5-3h8m-2 2h8m9-12h8m453 6h8m4-3h8m10-5h8m-618 23h8m-6 5h8m56-8h8m11 8h8m4-7h8m-8-1h8m-1 0h8m501 18h8m-574 2h8m14 10h8m29-4h8m-5 11h8m-3 0h8m-3-15h8m432 1h8m-4 13h8m7-14h8m13 3h8m-7 3h8m-5 10h8m6-17h8m-581 20h8m24 5h8m-2 6h8m12-2h8m-7 9h8m19-8h8m-1-6h8m2 4h8m371-7h8m19 5h8m4 11h8m-2-1h8m10-16h8m5 12h8m-541 14h8m31 12h8m7-3h8m3-9h8m9 11h8m-4-16h8m143 3h8m-6 7h8m3-5h8m6 2h8m-7-1h8m-5-4h8m-6 2h8m-8-1h8m5 5h8m-4 3h8m-1-1h8m42-9h8m-3 4h8m10 2h8m-8 7h8m-3-6h8m8 1h8m12 8h8m25-17h8m11 1h8m5 7h8m-568 26h8m10-3h8m15-6h8m31-5h8m9 9h8m0-10h8m76 7h8m26 10h8m-3 0h8m-4-8h8m-3 4h8m3-6h8m3 5h8m18-6h8m19 4h8m0 1h8m-4 1h8m9 4h8m-2-9h8m66 11h8m49-2h8m-2-12h8m62 1h8m36 0h8m-649 33h8m134-16h8m55 11h8m61 1h8m-5-12h8m15 5h8m8-8h8m30 2h8m30 11h8m-310 13h8m-7 4h8m48 2h8m-3-6h8m13-1h8m5 1h8m-1 9h8m14-11h8m38 5h8m34-7h8m17 9h8m91-4h8m-338 23h8m36 4h8m48-10h8m14 6h8m33 2h8m-7-8h8m11 5h8m290-6h8m-608 23h8m58-3h8m140 12h8m98-13h8m172-2h8m-294 31h8m82-1h8m-1 2h8" stroke="rgb(108, 150, 200)" stroke-width="8" stroke-opacity="0.45" fill="none"/>
<path transform="translate(48.4 317.4) scale(.1)" d="M583 59h8m8 0h8m-18 16h8m0-1h8m-4 4h8m-5-10h8m4-7h8m-6 7h8m6 7h8m-73 12h8m6 4h8m-1 6h8m-4-6h8m-7-7h8m-2 12h8m-8-5h8m-5 0h8m37-11h8m-1 8h8m-4-7h8m-2 1h8m-4 10h8m6 7h8m6-2h8m-155 12h8m-6 7h8m129-11h8m-183 25h8m-1-4h8m-5 9h8m-3-13h8m1 5h8m159-3h8m-8-1h8m-3 0h8m-204 23h8m-5 8h8m-6-6h8m4 5h8m-8 5h8m6-4h8m155-6h8m6 10h8m-8-2h8m-6-6h8m3 0h8m-235 17h8m3 4h8m-7 8h8m-7-11h8m12 2h8m-8 4h8m174-13h8m-219 31h8m-7 7h8m234-16h8m-8 6h8m-268 20h8m-4-9h8m-8 11h8m3-9h8m6 3h8m213 6h8m-6 8h8m-2-1h8m-4-13h8m-7 2h8m-262 13h8m-7 19h8m-4-16h8m0 9h8m-6-8h8m216-4h8m6 19h8m-295 1h8m-6 12h8m-5 1h8m-4-10h8m2 12h8m-6-13h8m-3 7h8m236 8h8m-7-4h8m-8 4h8m-7 0h8m-5-16h8m-5 18h8m-8-15h8m-8 3h8m-280 25h8m12-2h8m-2-9h8m-6 1h8m228 5h8m-7-5h8m-7 1h8m-8 11h8m-4 5h8m-5-9h8m-322 25h8m14-3h8m14 7h8m-4-15h8m1 5h8m-6 1h8m-3-6h8m-7 5h8m-2 4h8m233-6h8m-342 31h8m-3-4h8m-3 1h8m-1-4h8m-1-5h8m3 3h8m3 9h8m-5-5h8m-7 3h8m2 1h8m-3 0h8m-4-5h8m14-3h8m-8 1h8m214 4h8m4 2h8m0 1h8m-7-12h8m-6 1h8m-3 12h8m-331 14h8m-7-3h8m4 10h8m-6-15h8m4 9h8m-7-13h8m-5 11h8m-5 1h8m-5 7h8m-6-14h8m-5-5h8m-6 2h8m-5 11h8m240-10h8m2 13h8m-2 0h8m-7-7h8m-3 2h8m-359 27h8m13-16h8m0 15h8m0-9h8m-3 5h8m1-11h8m-5 5h8m-6 7h8m-3 3h8m-6-17h8m-3 3h8m-7-3h8m11 8h8m-7-1h8m2 1h8m217 10h8m-5-15h8m0 4h8m-7-5h8m-3 4h8m-3 3h8m-435 30h8m2-8h8m2 6h8m-4 1h8m7-8h8m24 4h8m1-4h8m-1 7h8m-2 1h8m-5-11h8m-1-6h8m8 6h8m-7-4h8m-8 13h8m7 0h8m-4-14h8m-1 5h8m264-7h8m-440 23h8m16 2h8m-5 1h8m-3 13h8m2-18h8m-1 10h8m12-6h8m4-2h8m-4 12h8m-4-9h8m-1-1h8m-2 10h8m-5-7h8m-6 1h8m-1-9h8m-1 7h8m-8-2h8m-2 1h8m-1-4h8m0 13h8m-4 0h8m1-13h8m-7 3h8m2-1h8m250 5h8m-4 0h8m-7-7h8m-5 10h8m-421 16h8m-1 5h8m-6 3h8m-4 2h8m-1-13h8m-3 5h8m-7 6h8m-7-3h8m-7 5h8m9-9h8m-2-8h8m3 2h8m-8-1h8m-2 17h8m-7-4h8m6-10h8m-3-4h8m-1 2h8m-6 4h8m19-6h8m-8 1h8m274 12h8m-5 4h8m-6-6h8m-420 22h8m-6-11h8m10 3h8m-2-3h8m3 2h8m-7 11h8m-8 2h8m-7-5h8m-8 4h8m-4-12h8m-2 1h8m7-2h8m-68 25h8m-1 8h8m-1 0h8m-6-7h8m-3 1h8m-8 7h8m-3-2h8m-3-13h8m-41 23h8m5-3h8m-5 10h8m-7-3h8m-4-9h8m-5 7h8m-8 6h8m370-14h8m-5 14h8m-8-9h8m-5 0h8m-442 30h8m-6-1h8m8 3h8m9 0h8m11-14h8m369 16h8m-6-6h8m0-10h8m-6 15h8m-466 21h8m17-12h8m-7 11h8m-3-16h8m-7-1h8m-4 7h8m2-7h8m-7 4h8m-7 11h8m-7-1h8m-7-1h8m7-2h8m353-4h8m-6 1h8m-3-2h8m-3 1h8m-6 2h8m-5 1h8m-456 19h8m3 3h8m1-5h8m-5-1h8m5 12h8m-6-10h8m-4 2h8m-1-5h8m-1-5h8m-7 5h8m-3 10h8m-6 0h8m-7-4h8m-2 1h8m-8 1h8m349-1h8m-2-4h8m0-9h8m7 5h8m-480 21h8m0-1h8m-4 8h8m2-4h8m-2 3h8m-5-6h8m1 9h8m-6-1h8m9 5h8m12-14h8m0 14h8m-5-13h8m345 12h8m-4-14h8m-2 15h8m-8-14h8m-8 11h8m-1-15h8m2 2h8m-473 32h8m7 1h8m-5-1h8m-7-5h8m-5 9h8m-6-7h8m4-8h8m6 7h8m8-7h8m-7-1h8m-8-3h8m-5 12h8m16-8h8m-5 3h8m-3 11h8m315 1h8m-1-12h8m-7-3h8m1 4h8m-439 13h8m-3-1h8m21 6h8m-3 3h8m26-5h8m-3 12h8m-2-7h8m-1 7h8m-6-4h8m-1-3h8m0 3h8m-8 6h8m0-5h8m-6-10h8m77 12h8m-7-8h8m-3 1h8m-8 6h8m-3 0h8m5-6h8m-5 7h8m-3-10h8m1 6h8m-7-2h8m20 7h8m-6-11h8m1-2h8m-8 1h8m-8 14h8m-7-8h8m9 6h8m-6-3h8m-7 1h8m-8 5h8m6-13h8m0 10h8m-5-10h8m0 10h8m-4 3h8m8-6h8m12-3h8m-7-5h8m-4 0h8m-6 14h8m-4-5h8m5-8h8m-7 4h8m-3 0h8m-6 2h8m4-9h8m-410 31h8m-1-2h8m2-9h8m-7-2h8m-6 12h8m-2-6h8m-8-3h8m-5-4h8m-6 17h8m-8-15h8m-6-2h8m-7 7h8m-6 6h8m-2 5h8m-2-7h8m-5-5h8m-2 7h8m-8 2h8m-8 1h8m5-6h8m-4-7h8m-7 13h8m17-6h8m-7-9h8m-7 17h8m-1-8h8m-6 4h8m-8-8h8m-6 1h8m-6 12h8m-7-8h8m0-7h8m-6 4h8m1 11h8m4-7h8m-5-3h8m26-7h8m-3 9h8m18 0h8m-5-1h8m-6-8h8m4 1h8m1 3h8m8 13h8m2-9h8m0 4h8m2-1h8m3-3h8m-7-1h8m4-4h8m-6 13h8m7-11h8m-5 12h8m-7-16h8m0-3h8m-6 12h8m-4 0h8m6-6h8m-363 15h8m5 14h8m-5-7h8m-8 1h8m6 7h8m-5-9h8m-1 0h8m-7 4h8m0-8h8m-4 12h8m7-5h8m0-7h8m-1 4h8m-6-3h8m5-4h8m9 4h8m-2 1h8m-2 14h8m13-19h8" stroke="rgb(96, 142, 192)" stroke-width="8" stroke-opacity="0.50" fill="none"/>
<path transform="translate(48.4 317.4) scale(.1)" d="M604 82h8m-8 3h8m0 4h8m0 3h8m-7-2h8m-6-6h8m-7 5h8m-5-2h8m-1-2h8m-7-1h8m-7 15h8m-6-2h8m-5 2h8m12 0h8m3-1h8m-130 21h8m-2 0h8m1-15h8m-7 1h8m-2 10h8m-1 3h8m5-14h8m-8 9h8m-7-8h8m-7 5h8m-5-9h8m-6 14h8m6-6h8m-5 3h8m-6-6h8m-6 8h8m-7-12h8m-4 2h8m-8 7h8m-6-3h8m-4 0h8m-6 4h8m-7 2h8m-4-11h8m-8 1h8m-6 4h8m-7 6h8m-6-2h8m-6-10h8m-5 4h8m-5 5h8m-2-4h8m-1 10h8m-6 0h8m-4-7h8m-7 6h8m1-7h8m-141 11h8m-7 8h8m-1 9h8m2-15h8m-5 3h8m-6-5h8m-5 8h8m-6-2h8m-8 4h8m-7 0h8m81 3h8m-8 1h8m-2-14h8m-5 11h8m-8-5h8m-8 2h8m-1 3h8m-7-4h8m-6 3h8m-5 0h8m0 7h8m-7-17h8m-159 24h8m-8 7h8m-1-7h8m2-2h8m-7 5h8m112 7h8m-7-4h8m-3-5h8m-4 7h8m-6-11h8m-7 13h8m-7-8h8m-8 6h8m4 7h8m-180 17h8m1-15h8m-7 0h8m-6 13h8m-6-12h8m-7 6h8m0-2h8m-7 7h8m-5-1h8m131-7h8m-1 7h8m4 4h8m-203 22h8m0-7h8m-4 3h8m-7-3h8m-6-11h8m172 13h8m-8 6h8m-4-8h8m-5 0h8m-8 8h8m-7-5h8m0-1h8m-8 0h8m-219 25h8m1-10h8m-8 7h8m-7-1h8m-5-7h8m179-7h8m-6 18h8m-5-9h8m-7-9h8m-8 4h8m-3 6h8m-233 29h8m1-3h8m-5-11h8m8 8h8m-8-6h8m-5 0h8m170 4h8m-8-6h8m-5-1h8m-6 5h8m-7-9h8m-7 9h8m-230 28h8m-6-2h8m-6-14h8m-5 5h8m-7 5h8m-8-7h8m1 3h8m-8 7h8m197 0h8m-4-9h8m-8 2h8m-5 4h8m-6 2h8m-233 22h8m-4-1h8m-4-14h8m-5 4h8m-8-4h8m190 10h8m-3-10h8m-6 15h8m-6 4h8m-7 0h8m-5-12h8m-235 19h8m0 9h8m-6-15h8m2 19h8m7 0h8m-7-6h8m171-9h8m-7-2h8m-4 15h8m-6-11h8m-230 31h8m-1-5h8m-6-2h8m-8 9h8m-7-3h8m-8 3h8m-7-1h8m-5-15h8m-8 0h8m-7 0h8m-2 6h8m-7-5h8m-3 7h8m-6 7h8m-5-6h8m160 1h8m-5 1h8m1-6h8m-6-5h8m1 1h8m-1-2h8m-7 3h8m-240 27h8m0 6h8m-7-1h8m-6-11h8m-8-1h8m5 13h8m4 1h8m-7-13h8m159-5h8m-7 18h8m-7-11h8m-248 26h8m16 1h8m-3-6h8m-4 5h8m-1-14h8m-7 14h8m-5 5h8m-4-9h8m-7-4h8m-3 8h8m0-2h8m-3 3h8m-8-5h8m-7 9h8m-6-7h8m-7-10h8m151 16h8m-7-11h8m-4 11h8m-8-2h8m-6-2h8m-8 3h8m-6-10h8m-6 1h8m-6 11h8m-7-15h8m-255 16h8m-8 18h8m-6-18h8m-6 16h8m-7-6h8m1 0h8m-5 3h8m-7 5h8m-3-13h8m-6 3h8m-6 8h8m-6-3h8m-7-10h8m10 0h8m-1-2h8m-6 3h8m-3 0h8m161 5h8m-3 6h8m3 1h8m-6-6h8m-8-5h8m-277 26h8m2-2h8m11-8h8m-7 15h8m-6-15h8m-7 0h8m-8 15h8m-3-12h8m-4 4h8m207-5h8m-8 13h8m4-3h8m-337 22h8m-4 4h8m-3-9h8m3 4h8m-5-1h8m-8-2h8m-6 0h8m-2-2h8m-5 10h8m-2-9h8m-5 5h8m-7-3h8m8-4h8m-5 5h8m-2-3h8m-2 5h8m-3-8h8m225 4h8m-2-11h8m-6 5h8m-2 11h8m-344 17h8m-8 0h8m1-10h8m-1 7h8m-7-2h8m-7 11h8m-2 0h8m33-19h8m-2 6h8m-2-1h8m-5-2h8m241 3h8m-8 11h8m-5-16h8m-5 9h8m-8 2h8m-371 26h8m-4-4h8m-7-7h8m-4 4h8m0-6h8m0 10h8m-4 1h8m-7-7h8m-5 9h8m7-14h8m-1-4h8m286 13h8m-7 1h8m-6-4h8m-8 8h8m4-7h8m-7-4h8m-364 25h8m1 6h8m-6-14h8m-4 5h8m-3 7h8m-8-7h8m-1-3h8m-8-6h8m305 5h8m-8-3h8m-3 17h8m-8-8h8m-7 7h8m-7-8h8m-4 3h8m-6-5h8m-6-7h8m-7 4h8m-391 23h8m0 4h8m-4-3h8m-8 6h8m-1 4h8m-5-17h8m-8 12h8m-1 5h8m-5-8h8m-6 7h8m-7-15h8m9-2h8m307 17h8m-7-8h8m0-5h8m-5 1h8m-388 18h8m-7 0h8m-2-1h8m-7-1h8m-1 0h8m1 7h8m-4-7h8m-5 6h8m309 5h8m-3-9h8m-6 13h8m0-6h8m-343 26h8m-7 1h8m-7-17h8m-2 6h8m-5 9h8m-6-9h8m-7-1h8m-8 2h8m-6 1h8m-7-4h8m-5 4h8m-6-1h8m-8 8h8m291-3h8m2-3h8m-4-7h8m-8 7h8m-5 2h8m-8-5h8m-350 23h8m4-1h8m-7 8h8m-4-9h8m2 1h8m-6 2h8m292 2h8m-7-4h8m-8 5h8m-5-8h8m-4 8h8m-5 4h8m-351 2h8m-4 2h8m4 3h8m-8 14h8m-5-5h8m-8-11h8m-7 7h8m-5 7h8m-7-12h8m-2 9h8m8-10h8m-5 13h8m-1-3h8m-7-1h8m-7-2h8m4 7h8m41-1h8m-4-4h8m-7 5h8m-6-15h8m-8 6h8m-6 2h8m-5 5h8m-5-13h8m-8 5h8m3 9h8m-3-5h8m35 4h8m3 1h8m-5-12h8m0 11h8m-7-10h8m2 10h8m-1-6h8m-5-4h8m-4 4h8m-7-5h8m-8 1h8m-5 5h8m-3-3h8m-8-3h8m2-1h8m-5 14h8m-6-10h8m-1 4h8m-6 2h8m-7-5h8m-5 7h8m-3 1h8m-7-13h8m-5 5h8m-6 10h8m-3-7h8m-6 3h8m-7 3h8m-7-15h8m2 0h8m-6 4h8m-5 2h8m-6-4h8m-7 2h8m-3 12h8m-6 0h8m-6-10h8m-7-3h8m-314 14h8m0 0h8m19 1h8m-8 10h8m2 2h8m-1 4h8m2-4h8m-7-4h8m-7 0h8m8 8h8m-6-13h8m1 15h8m10-18h8m11 1h8m16 15h8m-1-10h8m3 9h8m15-16h8m6 0h8m44 0h8m6 2h8m17-1h8m-263 20h8m27-1h8" stroke="rgb(84, 135, 183)" stroke-width="8" stroke-opacity="0.55" fill="none"/>
<path transform="translate(48.4 317.4) scale(.1)" d="M637 117h8m-60 6h8m-4 13h8m-5-11h8m-4 4h8m-8-3h8m-6 2h8m-7-1h8m-7 10h8m-5-1h8m-7-5h8m-7-11h8m-4 6h8m-7 9h8m-1-7h8m1 7h8m-4-11h8m-7 3h8m-8 9h8m-4-4h8m2-7h8m-6 7h8m-5-4h8m-7-2h8m-3 4h8m-7 7h8m14 1h8m-122 12h8m-1 4h8m-7-8h8m-7-4h8m-8 8h8m-5-2h8m-5 6h8m-7-10h8m-6 0h8m-2 11h8m-7-12h8m-8-1h8m-3 2h8m-3 8h8m-7-10h8m33-1h8m-2 5h8m0-3h8m-5 6h8m-4 1h8m-4-10h8m-8 7h8m-7 5h8m-4-1h8m-7 0h8m1 5h8m5 1h8m-154 21h8m2-2h8m-5 2h8m-2-8h8m-7-9h8m-6 7h8m-7-8h8m-2 10h8m98 4h8m-5-14h8m-5 5h8m-5-3h8m2 17h8m-164 6h8m-3 14h8m-5-17h8m-4 17h8m-8-1h8m-5-11h8m-7 2h8m130 6h8m-7-11h8m-7 7h8m-5-11h8m-7 13h8m-7 0h8m0-2h8m-173 22h8m-6-11h8m-8 17h8m-8-18h8m-6 18h8m-7-14h8m-7-4h8m-8 2h8m144 13h8m-6 0h8m-7-12h8m-178 33h8m0-10h8m3-3h8m132 9h8m3-13h8m-5 6h8m-7 6h8m-195 13h8m-5 2h8m-7-1h8m-7 4h8m-6 7h8m-8-4h8m-6-7h8m-5 6h8m-8-10h8m151 7h8m3 5h8m-3 2h8m-6 0h8m-7-15h8m-196 30h8m-5 0h8m-8-5h8m-7 0h8m-8 8h8m-2 5h8m-7-5h8m0-2h8m143-12h8m-6 10h8m-8-10h8m-8 10h8m-4-2h8m-8-7h8m-6 17h8m-7-8h8m-6-4h8m-5 6h8m-4-4h8m-8 3h8m-200 15h8m-6-5h8m-7 6h8m-8 0h8m-8-7h8m-4 8h8m-2 0h8m-2-7h8m-7 15h8m-7-12h8m-4 5h8m-3 5h8m-7 2h8m-7-11h8m-7 13h8m-7-5h8m-5-1h8m110 4h8m6-1h8m-3-8h8m-6 12h8m2-9h8m-7-8h8m-6 7h8m-8-3h8m-6 7h8m-174 26h8m-5-5h8m-8 1h8m-7-12h8m-5 6h8m-6-2h8m122 12h8m-8-8h8m-5-2h8m-6-2h8m-6 5h8m6-10h8m-6 5h8m-5-2h8m-7-5h8m-8 2h8m-181 23h8m-1 0h8m-6 2h8m-8 0h8m-6 7h8m-6 1h8m-6-5h8m-5-9h8m3 11h8m-3 6h8m77-4h8m-3-2h8m-6 5h8m-1 2h8m-4-1h8m-5-4h8m-3-1h8m-7 0h8m-4-6h8m-6 5h8m-7 2h8m-8-7h8m-7 4h8m-7 6h8m-163 14h8m-4-5h8m-4 1h8m-7-3h8m-6 7h8m-8-2h8m-6-8h8m-6 0h8m-4 8h8m-4 5h8m-6 0h8m-7-3h8m-6 2h8m-5 5h8m-3-4h8m-5-4h8m-3 2h8m-3 4h8m-7 1h8m-8-7h8m-4 9h8m-5-9h8m6 0h8m-5 5h8m-5-2h8m-5-1h8m-6 2h8m-3-2h8m-7 2h8m-6 2h8m9-6h8m-6 9h8m-5 0h8m-4-4h8m-8-3h8m-7-8h8m-8 9h8m-5-12h8m-6 10h8m-6-9h8m-8 11h8m-6-1h8m-8-7h8m-3 3h8m-6-2h8m-7 12h8m-5-16h8m-6 5h8m-7 3h8m-7-7h8m-184 30h8m-6-3h8m-3-1h8m8 8h8m2 1h8m-6 1h8m-5-11h8m-5 5h8m-5 6h8m-5-1h8m-8-14h8m-8 15h8m-5-13h8m-6-6h8m-5 0h8m-8 17h8m4-1h8m-7 2h8m-7-17h8m-6 12h8m-4 2h8m-5 0h8m-2 1h8m-6-16h8m-7 16h8m-2 2h8m-7-11h8m0 12h8m-3-1h8m-6-2h8m-6-13h8m-3 6h8m-5-1h8m-6-2h8m-3-1h8m-8 7h8m-8-6h8m-7 13h8m-7-7h8m-7-7h8m-6 11h8m-5 1h8m-4-15h8m-8 16h8m-6-10h8m-6 1h8m-2 6h8m-5-15h8m-2 13h8m-8 0h8m-7-7h8m-6 3h8m-5-9h8m-4 14h8m-5-1h8m-7-3h8m-6-8h8m0 14h8m-8-11h8m-212 29h8m-7-3h8m-2 2h8m5 6h8m-2-17h8m-7 16h8m-2 0h8m-5-11h8m-6 12h8m-6-4h8m-7-13h8m-8 9h8m-5 4h8m-7-10h8m-7 1h8m-8 6h8m-6 5h8m-8 2h8m-7-1h8m-7-17h8m-4 7h8m-8-6h8m-4 2h8m-4 12h8m1 0h8m-6-8h8m-8 10h8m-6-6h8m-5 5h8m-2 2h8m-7-19h8m-7 14h8m-4-6h8m-8 1h8m-8 9h8m-6-10h8m-1 9h8m-7-4h8m-5-5h8m-5-8h8m-7 19h8m-6-14h8m-4 6h8m-7-8h8m-8 5h8m-5 8h8m-7-11h8m-7-4h8m-6 2h8m-5 5h8m-3 2h8m-6 2h8m-6 7h8m-8 0h8m-7-4h8m-8-14h8m-6 2h8m-1 6h8m-5-2h8m-6 6h8m-4 2h8m-8-1h8m-5-3h8m9-7h8m-5 7h8m-7 1h8m-5-10h8m-7 14h8m-5-5h8m-6-6h8m-7 7h8m-4 5h8m-5-6h8m-7-8h8m-6 16h8m-6-12h8m-6-2h8m-8 5h8m-6-4h8m-7-5h8m-8 12h8m-5 3h8m-3-7h8m-7 8h8m-8-6h8m-8-5h8m-228 26h8m-6-2h8m-8 0h8m-1-5h8m-5 1h8m-6 8h8m-8-5h8m-4 9h8m-8-10h8m-7-8h8m-8 2h8m-2 16h8m-6-11h8m-6 3h8m-7 8h8m-7-14h8m-7-1h8m-6 7h8m-7-10h8m-5 2h8m-6 14h8m-7-10h8m-6 3h8m-6 3h8m-4 5h8m-6-5h8m-7 4h8m-8-2h8m-2-6h8m-3-8h8m-1 6h8m-5 11h8m-8-3h8m-5-8h8m-4 3h8m-6 8h8m-8 2h8m-7-18h8m-7 8h8m-4 3h8m-8-11h8m-8 6h8m-1 12h8m-8-19h8m-8 4h8m-6-1h8m-7 15h8m-6-4h8m-5 3h8m-5-7h8m-6 0h8m-8-2h8m-3 7h8m-7-15h8m-3 11h8m-6 7h8m-4-18h8m-3 0h8m-6 7h8m1-6h8m-6-1h8m18 7h8m-7-2h8m-4-3h8m-5-2h8m-6 2h8m-4 4h8m9 1h8m-7-1h8m-7-1h8m2-5h8m-2 15h8m-7-12h8m-295 29h8m-7 1h8m-4 2h8m-4 3h8m-4-9h8m-2 6h8m-8 3h8m-5 0h8m-7-7h8m-4 8h8m-7-11h8m-6 6h8m-4-5h8m1 4h8m-4 4h8m-4 0h8m6 2h8m-7-4h8m-5 0h8m-6 1h8m-7-1h8m0-15h8m-2 4h8m-4-1h8m9 2h8m-5-3h8m-7-1h8m-2 12h8m-8-4h8m-5 8h8m-7-13h8m-6 1h8m-5-2h8m-8 8h8m8-11h8m-8 8h8m-2-3h8m-8 13h8m-6-5h8m-6 2h8m-7-9h8m-6 10h8m-6-1h8m-5-2h8m-6-3h8m-2 5h8m0-12h8m-1 4h8m-6-4h8m81 10h8m-7-4h8m-7 5h8m-1-8h8m-7-2h8m-7 0h8m-7 15h8m-310 17h8m-4-3h8m-6-3h8m-7 2h8m-1-11h8m-4 1h8m-6 14h8m-6-16h8m-6 0h8m-5 11h8m-5-7h8m-8 10h8m-3 0h8m-6-14h8m-6 0h8m-4 4h8m-5 9h8m-7-8h8m-8-2h8m-6 8h8m2-10h8m-2 5h8m-6-3h8m-6-2h8m-6 4h8m-7-3h8m-6 3h8m6-1h8m46-2h8m-8-2h8m2 4h8m4 1h8m10-4h8m-2 1h8m91 1h8m-1-3h8m-7 4h8m-1-3h8m-313 25h8m5 8h8m-8-11h8m-8 0h8m-8 11h8m-2-14h8m-5 2h8m1-2h8m9 4h8m-8-3h8m-4-1h8m232 12h8m-7-4h8m-7-1h8m-8 0h8m-3 2h8m0-3h8m-337 25h8m-4 2h8m-8-3h8m2 8h8m5-14h8m-1-4h8m251 7h8m-6-2h8m-2 2h8m-4 0h8m-5 2h8m-8 4h8m-4-10h8m-5 5h8m-2-2h8m-5 10h8m-4-12h8m-6-1h8m-8 6h8m-337 16h8m-1-5h8m-5 16h8m-4-13h8m269 1h8m-6 10h8m-5-13h8m-7 8h8m-5-6h8m-7 6h8m-7 7h8m-7-9h8m-3 10h8m-7-3h8m-2-14h8m-308 21h8m-5 14h8m-4-4h8m-5-4h8m-8 7h8m-5-8h8m-2 9h8m-8-2h8m235-5h8m-7-1h8m-7-1h8m-5 3h8m-7 3h8m-7 1h8m-4-9h8m-8 12h8m-3-15h8m-7 8h8m-2 6h8m-6-5h8m-7-3h8m-288 26h8m-1 6h8m-5-4h8m-8-9h8m-6-3h8m-7 1h8m-5 9h8m-7 2h8m-4-7h8m-8-1h8m-3-2h8m-6-2h8m-8 7h8m-7 3h8m17-1h8m-3 1h8m-5-1h8m-7 6h8m-8-2h8m-8-5h8m-5-1h8m-7-1h8m-8 10h8m-7-14h8m-8 8h8m-1-7h8m-7 2h8m-5-4h8m-5 4h8m6 1h8m-3-5h8m-4 11h8m-5-7h8m-7 1h8m-7-5h8m-7 15h8m32-15h8m-7 10h8m-7-5h8m-8-2h8m-4 3h8m-3-4h8m-7 3h8m-5-3h8m-5 12h8m-6-4h8m-5 2h8m-2-6h8m-8 1h8m-5 2h8m-3-7h8m-8 6h8m-4-7h8m-8 6h8m-8-2h8m-7 0h8m-7-5h8m-3 9h8m-6 5h8m-6-1h8m-6-7h8m-7-3h8m-7 10h8m-1-3h8m-2 5h8m-5-3h8m-6-5h8m-7-1h8m-6 9h8m-8-14h8m-7 12h8m-6 0h8m-6-13h8m-8 13h8m-7-10h8m-2-2h8m-5 11h8m-7-11h8m-4 5h8m-2-7h8m-5 13h8m-7 2h8m-4-7h8m-7-8h8m2-2h8m-7 12h8m-8 3h8m-7-3h8m-1-6h8m-7-3h8m-7 15h8m-8-2h8m-7-10h8m-295 16h8m16-1h8m-3-1h8m2 18h8m-5-6h8m-8-2h8m-6 1h8m6-1h8m-5-8h8m-4-2h8m-8 3h8m-4 4h8m-5 8h8m-7-5h8m20-11h8m5 10h8m-5 7h8m-1-5h8m-4-5h8m-8 4h8m-6-2h8m-7-1h8m-6 9h8m-8-4h8m-7-6h8m-4 7h8m-6-7h8m-8 11h8m-4-6h8m-2-7h8m-1-4h8m-3-1h8m-6 2h8m3-1h8m9 0h8m-4 0h8m22 0h8m-7-1h8m-2 0h8m13 1h8m9 0h8m-238 20h8m-5 0h8m19 0h8m-5 0h8" stroke="rgb(76, 142, 165)" stroke-width="8" stroke-opacity="0.60" fill="none"/>
<path transform="translate(48.4 317.4) scale(.1)" d="M614 139h8m-3-2h8m-5 1h8m-43 21h8m8-2h8m-6-4h8m-5 1h8m-7-13h8m-7 15h8m-5-2h8m-7-5h8m-4 0h8m-8-1h8m-7 1h8m-7 1h8m-7 7h8m-5-9h8m-7 6h8m-7-7h8m-5 1h8m-7 6h8m0 0h8m-7-14h8m-8 2h8m-7 13h8m20 2h8m-1 1h8m-6-2h8m-118 20h8m-5 0h8m6-7h8m-5-6h8m-8 4h8m-8 9h8m-8-12h8m-6 13h8m-6-11h8m-8 7h8m-4-1h8m-6 1h8m-8-4h8m-6-6h8m-3-2h8m-5 13h8m-7-9h8m-4 1h8m2 3h8m-8-9h8m-4 4h8m-7 1h8m-7 7h8m1-2h8m-7 0h8m-7 3h8m-7-7h8m-8 3h8m-8-6h8m-8 0h8m-8 8h8m-7-4h8m-6 3h8m-7-7h8m-8 0h8m-5 1h8m-7-2h8m-8-1h8m-6 11h8m-7-3h8m-6-8h8m-8 7h8m-7 5h8m-5-4h8m-5 5h8m-6-14h8m-8 8h8m-7 6h8m-8-3h8m-5-2h8m-2 2h8m-7 0h8m-7-11h8m-7 10h8m-1 7h8m0 2h8m-7-2h8m-7-1h8m-6 0h8m-134 23h8m-6-5h8m-6 5h8m-5-19h8m-7 0h8m-8 1h8m-8 1h8m-3 7h8m-7-6h8m-5 2h8m-7 1h8m-7 7h8m-1-7h8m-6-5h8m-7 5h8m-5 0h8m-8-2h8m73 8h8m-7 1h8m-7-12h8m-2 11h8m-6-11h8m-3 2h8m-5-1h8m-143 33h8m-6-6h8m-6-2h8m-7 1h8m-5 8h8m-8-4h8m-6-12h8m-6 5h8m-8 11h8m-6-14h8m-4 10h8m-41 23h8m-1 4h8m-6-5h8m-4 4h8m-5-15h8m-5 4h8m-8 5h8m-5-11h8m-2 4h8m-7 1h8m-35 31h8m-6-5h8m-7 5h8m-7-6h8m-6 3h8m-6 4h8m-6 1h8m-7-17h8m-7 11h8m-21 16h8m-8-2h8m-7 4h8m-4 0h8m-5-8h8m-4 4h8m3 5h8m-5 6h8m98-5h8m-6 1h8m-4-1h8m-6 0h8m-3 5h8m-3-5h8m-8 4h8m-144 12h8m-8-1h8m-7 1h8m-1 8h8m-3 0h8m-8 2h8m-6-18h8m-8 1h8m-7 4h8m-8 8h8m86-2h8m-5 4h8m-7-1h8m-8-3h8m-7-1h8m1-7h8m-7 7h8m-7-6h8m-8 2h8m-8-6h8m0-1h8m-141 20h8m-6 11h8m-4-7h8m-8 0h8m-5 13h8m-8-7h8m-7 3h8m-6-9h8m-6-4h8m-7 2h8m-7-1h8m-7 6h8m54 4h8m-3 3h8m-7 2h8m-5 3h8m-6-2h8m-8-2h8m-5-2h8m-7 0h8m-6-2h8m-7-7h8m-5 11h8m1-15h8m-8 9h8m-5-6h8m-6 6h8m-7 1h8m-121 20h8m-2-10h8m-4 3h8m-4 5h8m1 10h8m0-7h8m2 5h8m1-4h8m-5-1h8m-8 1h8m-3 2h8m-5 0h8m-4 3h8m-6 1h8m-5-4h8m-6 2h8m-3 1h8m-6-1h8m-5-9h8m-7 7h8m-8 5h8m-6-18h8m-6 12h8m-6-1h8m-6 5h8m-6-1h8m-7-16h8m-8 9h8m9-6h8m-6-2h8m-8 8h8m-101 19h8m-5 0h8m-4-6h8m-6 7h8m-8-1h8m-7-7h8m-3 5h8m-7-4h8m-1 7h8m-7-5h8m10 0h8m-1 3h8m0 1h8m1-8h8m-6 6h8m-57 63h8m-7 2h8m1-2h8m-6-1h8m-7 11h8m-2-6h8m-7 4h8m4 2h8m-6-9h8m-7 8h8m-2 1h8m-4-10h8m-6 5h8m-8-5h8m-5 1h8m-8 8h8m-4-2h8m-2-3h8m-6 3h8m0-3h8m-6 0h8m-197 25h8m-7-1h8m-7 0h8m-6-7h8m-2 0h8m-8 0h8m-6-1h8m-7 10h8m-8-8h8m-3-3h8m-1 5h8m-8 1h8m67-1h8m-6 0h8m-5 6h8m-4-6h8m-7 0h8m-7 0h8m-2 0h8m-8-12h8m-7 2h8m-5-1h8m-8 12h8m-4-5h8m-8-8h8m-7 4h8m-6 7h8m-8 2h8m1-9h8m-7 0h8m-4 13h8m-6-16h8m1 9h8m-7-11h8m-6 3h8m-3-1h8m-3 4h8m-4-6h8m-6 2h8m-7 12h8m-8-7h8m-7 11h8m-5-4h8m-7-5h8m0 4h8m-7-7h8m-6 1h8m-228 27h8m-3-2h8m-4 2h8m-5-3h8m-7-3h8m-7 9h8m-5-8h8m-1 4h8m-4 2h8m-7-13h8m-5 4h8m-4-1h8m-5-3h8m5-2h8m-4 1h8m13 18h8m-7-12h8m-6 4h8m-8-4h8m-3 7h8m5 4h8m-5-5h8m-7 4h8m-6-5h8m-7-3h8m-7 5h8m-7 0h8m-3-4h8m-7 5h8m-6-7h8m-5 4h8m-7 2h8m-1-1h8m-8 5h8m-3-18h8m-6 10h8m-8 8h8m-6 1h8m-8-10h8m-7-3h8m-8 10h8m-6 2h8m-8-8h8m-5-3h8m-6 7h8m-8-14h8m-5 0h8m0 1h8m-7 2h8m6 0h8m-8-1h8m-7-1h8m-4 4h8m24-3h8m-2 3h8m-6-5h8m-7 5h8m-7-2h8m-8 0h8m-6-2h8m-7 5h8m-5-1h8m-4 8h8m-7-4h8m-8-1h8m-8 6h8m-3-7h8m-6 4h8m-7-4h8m-7 7h8m-5 2h8m-296 21h8m-8-11h8m-8 13h8m-6-8h8m-7 1h8m-4-5h8m-2 4h8m-3 2h8m-4-7h8m-3 3h8m-7 9h8m-2-6h8m-7-4h8m-4 8h8m-8-5h8m-7 0h8m-6-3h8m-8-4h8m-4 5h8m-5 2h8m-7-6h8m-7 3h8m0-5h8m-7 12h8m-1-13h8m-7-1h8m-8 17h8m-6-8h8m-8-8h8m-6 17h8m-7-19h8m-7 7h8m-7 10h8m42-13h8m-8-3h8m-1-1h8m-3 3h8m-7 3h8m-7 6h8m0-8h8m-7 11h8m-8 3h8m-8-16h8m-5 5h8m-7 11h8m-7-9h8m-5-1h8m-6 8h8m-6-10h8m-8-2h8m-5 0h8m-6 10h8m-6 4h8m-8-10h8m-3 8h8m-6-4h8m-5-7h8m-4-4h8m-6 12h8m-7 3h8m-7-10h8m-7 11h8m-6 2h8m-2-12h8m-3 11h8m-8-12h8m-8 5h8m-7 1h8m-4 0h8m-5 1h8m-7-6h8m-5 0h8m16 11h8m-5 1h8m-7-6h8m-8-3h8m6 3h8m-8 5h8m-7-9h8m0 4h8m-7 1h8m-5 0h8m-7-4h8m-8-3h8m-6 6h8m-6 0h8m-6-8h8m-4-5h8m3 5h8m-316 25h8m-6 7h8m-6-6h8m-3 2h8m-7-3h8m-6 2h8m-8 2h8m-4-5h8m-7 7h8m-6-6h8m-8-2h8m-7 11h8m-8-10h8m-5 7h8m-5-3h8m-7-8h8m-8 2h8m-6-6h8m-7 3h8m-8 3h8m-8 9h8m-6-14h8m-7 1h8m-8 9h8m-7 6h8m-6 0h8m-3-14h8m-4-3h8m-5 8h8m-4 0h8m-6 9h8m-7-15h8m-4 7h8m-4 7h8m-6-13h8m-5-1h8m-8 10h8m-8 1h8m-6 0h8m-8 4h8m-6-17h8m-7 2h8m-7 6h8m-3 8h8m-2-14h8m-6 14h8m-8-6h8m-7 2h8m-6-8h8m-8 14h8m-4-18h8m-6 11h8m-7 7h8m34-2h8m-6-6h8m-2-3h8m-7 2h8m-6 3h8m-7 1h8m-1-4h8m-7-6h8m-7 1h8m-4 3h8m-8 7h8m-8-13h8m-5 1h8m-8 2h8m-7 10h8m-7-7h8m-8 2h8m-8 2h8m-8-11h8m-6 8h8m-4 10h8m-1-15h8m-6 11h8m-8 2h8m-6-12h8m-7-3h8m-8 15h8m-4 0h8m-8 2h8m-7 0h8m-8-6h8m-5 0h8m-7-12h8m-6 3h8m-5 9h8m-1-5h8m-8 6h8m-8-13h8m-6 3h8m-7 9h8m-7 4h8m-8-17h8m-7 2h8m-4 4h8m-6 9h8m-8-10h8m-4 1h8m-1 13h8m-4-12h8m-7-1h8m-7 4h8m0 7h8m-7-9h8m-6 2h8m-7 2h8m-8 5h8m-7-2h8m-6 4h8m-7-12h8m-7 2h8m-7 7h8m-3-12h8m-4-1h8m-7-2h8m-8 10h8m-3 0h8m-8 6h8m0-17h8m-7 0h8m2 5h8m-8-1h8m-5 0h8m-296 18h8m-7-1h8m-8 16h8m-7 1h8m-7 0h8m-1 0h8m-6-10h8m-5 0h8m-6 3h8m-7-11h8m-8 4h8m-6 4h8m-7 8h8m-5-1h8m-4 4h8m-8-3h8m-7 3h8m-5-9h8m-6 0h8m-8 5h8m-7-9h8m-6 6h8m-8 1h8m-7-13h8m-6 8h8m-3 8h8m-6-8h8m-8 0h8m-6 6h8m-7-5h8m-6-9h8m-6 14h8m-8-8h8m-7-2h8m-6 4h8m-4 9h8m-7-16h8m-8 2h8m-5-2h8m-5 17h8m-5-18h8m-7 7h8m-3 3h8m-8-5h8m-6 13h8m-8-10h8m-3 0h8m-7-4h8m-5 3h8m-5-3h8m-6 6h8m-7 8h8m-8-3h8m12 3h8m-7-5h8m-7-2h8m-5-2h8m-7 8h8m-6-2h8m-4 0h8m-5 2h8m-6-3h8m-7 0h8m-4-14h8m-5 18h8m-8-13h8m-7 12h8m-7-17h8m-5 8h8m-5-8h8m-7 7h8m-7 8h8m-7-4h8m-3-8h8m-7-1h8m0 5h8m-8-4h8m-8-1h8m-7 17h8m-7-6h8m-7-7h8m-7-4h8m-4 17h8m-4-14h8m-7-5h8m-8 15h8m-5 4h8m-8-12h8m-2 2h8m-6 5h8m-7 3h8m-8-9h8m-6 5h8m-4 0h8m-6 5h8m-6-9h8m-1 7h8m-7 0h8m-8-12h8m-7-2h8m-7 5h8m-7 11h8m-7-11h8m-6-2h8m-8 0h8m-7 3h8m-8-6h8m-7 1h8m-7 1h8m-7 12h8m1 2h8m-7-10h8m-5 10h8m-2-15h8m-8 4h8m-6 2h8m-5 3h8m-8-1h8m-6 3h8m-8 1h8m-6-9h8m-2-3h8m-5 8h8m-1 3h8m-7-6h8m-7-5h8m-7 13h8m-6-8h8m-7 4h8m-278 9h8m9 1h8m-1 1h8m-8-3h8m-8 13h8m-7-1h8m-8-12h8m-6 19h8m-3-5h8m-8-6h8m-8 5h8m-4-1h8m-7-7h8m-7 8h8m-7 5h8m-6-14h8m-8 15h8m-7-2h8m-5-14h8m-7 4h8m-8-4h8m-8 3h8m-7 5h8m-7-2h8m-7-3h8m0 8h8m-7 4h8m-5-17h8m0 15h8m-7 2h8m-7-8h8m-7-3h8m-6-4h8m-4 10h8m-5 3h8m-7-13h8m-3 2h8m-6-4h8m-8 15h8m-7-3h8m-8-8h8m-7-3h8m-6 11h8m1-8h8m-2 14h8m-7-2h8m-8-13h8m-6 10h8m-6-8h8m-7 6h8m-5-3h8m-7 10h8m-6-3h8m-8-1h8m-7-10h8m-6 14h8m-8-5h8m-3-8h8m-8-4h8m-8 11h8m-5-4h8m-4 9h8m-7-2h8m-7-11h8m-5-4h8m-7 13h8m-6-12h8m-5 17h8m-8-14h8m-7 7h8m-5 0h8m-6-9h8m-5 7h8m-7 4h8m-4 0h8m-2 5h8m-7-1h8m-7-6h8m-6 5h8m-2-7h8m-6-4h8m-7-1h8m-4 8h8m-4 1h8m-5 5h8m-6-10h8m-8 1h8m-1-5h8m-6 12h8m-7-5h8m-6-1h8m-4 2h8m-7 1h8m0-14h8m-5 13h8m-6-9h8m-6 11h8m-6 1h8m-8-14h8m-1 4h8m-7-5h8m-4 18h8m-5-10h8m-3-5h8m-8-2h8m-6 14h8m-8-1h8m-7-4h8m0-8h8m-7 0h8m-6-1h8m-6-2h8m-3 2h8m-253 20h8m-3-1h8m0 2h8m-8-2h8m-7-1h8m-3 7h8m-7 12h8m-4-13h8m-8 10h8m-8-11h8m-6 11h8m-7-11h8m-7 9h8m-4-6h8m-6-2h8m-8 5h8m-2-8h8m6-1h8m-2-2h8m-5 3h8m-3 0h8m11-3h8m-5 1h8m-6 1h8m-8-2h8m-6 1h8m-4 10h8m-6-8h8m-6 2h8m-6 7h8m-7 2h8m-8-1h8m-2-5h8m-4-1h8m-7 7h8m-7-6h8m-5 3h8m-8-1h8m-6 4h8m-1-5h8m-7 3h8m-7 7h8m-6-12h8m-8-5h8m-7 1h8m24-2h8m-6 2h8m3-1h8m-6 0h8m14-2h8m-6 1h8m-8 1h8m-1-2h8m-7 1h8m-1 0h8m-5 0h8m-4-1h8m-210 22h8m72 0h8m-6 0h8m-5 0h8m7 0h8m-6 0h8m-5-1h8" stroke="rgb(71, 149, 146)" stroke-width="8" stroke-opacity="0.65" fill="none"/>
<path transform="translate(48.4 317.4) scale(.1)" d="M613 179h8m0-1h8m-1 0h8m-6-3h8m2 0h8m-7 2h8m6 1h8m9 1h8m-7-3h8m-5 3h8m-99 20h8m6-4h8m-3-8h8m-8 7h8m-7-6h8m-4 1h8m-7-3h8m-8-4h8m-7 0h8m-4-2h8m-6 15h8m-8 3h8m-7-9h8m-7-4h8m-7 12h8m-4-13h8m-7-2h8m-7 9h8m-1-10h8m-8 5h8m-5-2h8m-4 1h8m-5 0h8m-8 8h8m-7-12h8m-6-1h8m-5 14h8m-5-1h8m-7-9h8m-5 7h8m-2-8h8m-7 1h8m-7 6h8m-7-1h8m-8-9h8m-5 5h8m1 1h8m-7 5h8m-8-8h8m1 15h8m-2 1h8m-116 8h8m-8 0h8m-7 3h8m-7-8h8m-6 12h8m-3-5h8m-8-7h8m-7 12h8m-8 2h8m-7-6h8m-6 5h8m-4-10h8m-3 6h8m-7-2h8m-7 0h8m-6-8h8m-7 0h8m-6 4h8m-5 4h8m-8-5h8m-5 3h8m-8 2h8m54 6h8m-6-9h8m-6-6h8m-6 3h8m-8 2h8m-7 8h8m-8 3h8m-8 3h8m-7-9h8m-5 8h8m-8-6h8m-7-10h8m-6 17h8m-5-10h8m-135 28h8m-8 2h8m1-4h8m-6 3h8m-5 1h8m-8-11h8m-6 4h8m-6 3h8m-6-10h8m-7-4h8m-8 10h8m-7-8h8m-7 5h8m-7-4h8m-6-1h8m-5 1h8m-7 14h8m-8-15h8m71-3h8m-6 17h8m-8-16h8m-7 4h8m-7 9h8m-7 0h8m-7-9h8m-7 1h8m-8 5h8m-7 3h8m-7-5h8m-8 2h8m-5 3h8m-7-12h8m-7 16h8m-8-12h8m-7 7h8m-7-4h8m-8-1h8m-5 5h8m-143 8h8m-6 11h8m-8-3h8m-6 3h8m-6-2h8m-7 1h8m-6-9h8m-6 7h8m-6-7h8m-6 1h8m-7 12h8m-7-3h8m-7-2h8m-8 0h8m-5-3h8m3-7h8m-8 6h8m-7 1h8m-7 5h8m-7-7h8m75-5h8m-8 0h8m-4 2h8m-7 15h8m-7-4h8m-8-6h8m-6 5h8m-5-6h8m-7 13h8m-7-17h8m-139 24h8m-3-3h8m-6 0h8m-8-2h8m-6 2h8m-5 8h8m-5-9h8m-1 15h8m2-5h8m59 7h8m-7 0h8m-8 0h8m-7-3h8m-6 2h8m-6 0h8m-6 1h8m-3-5h8m-8 5h8m-4-8h8m-6-6h8m-8 1h8m-5 5h8m-6-6h8m-6-4h8m-8 0h8m-114 29h8m-6 2h8m-4-8h8m-6 10h8m-7-8h8m-7-3h8m-7-3h8m-6 16h8m-7-11h8m-7 9h8m37 5h8m-6-6h8m5 5h8m-7-4h8m-6-12h8m-4 2h8m-7 0h8m-8-1h8m-4-3h8m-8 8h8m-7-8h8m-4 6h8m-6 1h8m-6-1h8m-104 17h8m-6 4h8m-5 2h8m-7 4h8m-7-5h8m-7-4h8m-8-2h8m-7 16h8m-7-11h8m-7-1h8m-7 4h8m-4 5h8m-7 0h8m-6 0h8m-8 0h8m-6-1h8m-6 3h8m-7 0h8m-2-2h8m-6-1h8m-4 1h8m-7-3h8m-8 6h8m-7-1h8m3-3h8m-6 4h8m-8-4h8m-7 4h8m-6 0h8m-2-18h8m0 7h8m-7-1h8m-4-6h8m-4 5h8m-85 18h8m-7 5h8m-5-1h8m-1-1h8m-8-4h8m-7 6h8m-8-7h8m-4 7h8m-7 0h8m-2-2h8m-7-1h8m-6-2h8m-5 1h8m0 2h8m-6-1h8m-6 3h8m-7-4h8m9 108h8m-8-3h8m-8 2h8m-8 0h8m-7 6h8m-8 2h8m-5-8h8m-7-2h8m-4 7h8m-7-6h8m-7 2h8m-173 27h8m-7-1h8m-7-11h8m-8 7h8m-6-4h8m-7 9h8m-1-8h8m-4 8h8m-7-10h8m-7 7h8m-5-6h8m-5-2h8m-6 0h8m-8 2h8m-6 9h8m-5-3h8m-6-2h8m-6-3h8m-8 1h8m72 2h8m-8-1h8m-1-4h8m-7 7h8m-6 1h8m-5-10h8m-7 9h8m-6 3h8m-7-8h8m-6-2h8m-8 10h8m-7-9h8m-5 8h8m-8-2h8m-7 2h8m-7-5h8m-5 1h8m-6-2h8m-4 2h8m-7 3h8m-6 2h8m-7-10h8m-7 4h8m-8-1h8m-5 5h8m-7-4h8m-3 1h8m-7 5h8m-8-16h8m-6 2h8m-5-3h8m-8 12h8m-6-9h8m-2 13h8m-6 1h8m-8-2h8m-7-6h8m-2 7h8m-4-11h8m-8 10h8m-197 14h8m-7 0h8m-7-9h8m-8 13h8m-8-6h8m-5-3h8m-8-5h8m-7 14h8m-6 1h8m-8 0h8m-6-12h8m-8 8h8m-8-7h8m-7 12h8m-7-14h8m-6 2h8m-7 12h8m-8-9h8m-4-2h8m-7 8h8m-8-6h8m-7 1h8m-7-4h8m-7 12h8m-4-10h8m-8 2h8m-7-4h8m-8 2h8m-7 1h8m-8 4h8m-8 6h8m-6-5h8m-8-2h8m-7 6h8m-7 2h8m-7 0h8m-4-13h8m-7 9h8m-5-9h8m-5 10h8m-6-5h8m-6 0h8m62-11h8m-1 2h8m-7-2h8m-4 3h8m-5 12h8m-7-4h8m-7 8h8m-7-15h8m-6 9h8m-7-1h8m-6 0h8m-8-5h8m-6-3h8m-8 1h8m-7-5h8m-7 13h8m-7-4h8m-7 5h8m-7-13h8m-8 17h8m-7-16h8m5 1h8m-5-2h8m-7 3h8m4-3h8m-8 4h8m3-1h8m-201 34h8m-7-13h8m-5 10h8m-6 1h8m-7-3h8m-5-7h8m-8 4h8m-7 1h8m-1 5h8m-7-15h8m-8 8h8m-7-8h8m-7 3h8m-8 3h8m-6 11h8m-7-3h8m-5-3h8m-7 5h8m-5-2h8m-6-13h8m-4 2h8m5-4h8m-2 0h8m-64 22h8m-7 9h8m-7-4h8m-7 0h8m-6 12h8m-7-17h8m-4 11h8m-8-10h8m-8 5h8m-5 2h8m-7-7h8m-7-1h8m-8 12h8m-5 3h8m-19 5h8m-8-2h8m-7 3h8" stroke="rgb(90, 159, 115)" stroke-width="8" stroke-opacity="0.70" fill="none"/>
<path transform="translate(48.4 317.4) scale(.1)" d="M624 197h8m-8 2h8m10-4h8m-7 4h8m-8-3h8m-7-1h8m-7 2h8m-5-2h8m0 2h8m-7 0h8m5-3h8m-5 2h8m-3 3h8m-8-5h8m-7 2h8m-7 2h8m-84 19h8m-5 2h8m-7 0h8m-7-1h8m-7-2h8m-4 3h8m-7-2h8m1-16h8m-8 13h8m-7-14h8m-6 1h8m-7 9h8m-5 3h8m-8-12h8m-8 4h8m-8-1h8m-7 15h8m-6-15h8m-6-4h8m-4 19h8m-6-3h8m-7-9h8m-5 7h8m-8-11h8m-6 15h8m-4-6h8m-7 0h8m-8 0h8m-8-10h8m-8 12h8m-8-4h8m-2-7h8m-5 7h8m-7-3h8m-7-4h8m-8 16h8m-4-17h8m-7 16h8m-7-14h8m-7 7h8m-8-9h8m-6 14h8m-7 3h8m-7-15h8m-6 13h8m-6-17h8m-6 10h8m-82 15h8m-7-5h8m-7 10h8m-6 9h8m-8-17h8m-8 16h8m-4 1h8m-7-13h8m-6 3h8m-7 2h8m-7 2h8m-7-9h8m-7 12h8m-8-1h8m-7-10h8m-6 7h8m-6-4h8m-7-8h8m-7 1h8m-8 1h8m-6 5h8m-7 2h8m-6 2h8m-5-4h8m-7 5h8m-6-10h8m-7-2h8m-4 8h8m-7 1h8m-7 2h8m-7 1h8m-7-8h8m-8 1h8m-6-3h8m-8-1h8m-5 17h8m-8-17h8m-7 18h8m-6-10h8m-7 10h8m-6-8h8m-8-7h8m-7 5h8m-6-8h8m-7 1h8m-8 15h8m-5-11h8m-6-3h8m-6 5h8m-7-1h8m-8 8h8m-8 3h8m-7-4h8m-7-4h8m-7 8h8m-6-11h8m-6 6h8m-7-3h8m-8 6h8m-8-9h8m-103 25h8m-7 2h8m-8-1h8m-8 1h8m-3 4h8m-7-5h8m-8 5h8m-8-3h8m4 2h8m-8-7h8m-7 5h8m-7-4h8m-6-7h8m-7 15h8m-8-19h8m-7 8h8m-6 11h8m-8-4h8m-1 1h8m-6 0h8m-8 2h8m-7-6h8m-3 2h8m-7 0h8m-8 0h8m2 4h8m-3-3h8m-8-4h8m-7-1h8m-7 1h8m-8 5h8m-7-5h8m-7-3h8m-7 7h8m-7-13h8m-7 13h8m-8-14h8m-5 1h8m-7 6h8m-8-7h8m-7 8h8m-6 1h8m-5-5h8m-6 10h8m-4-4h8m-4 8h8m-8-10h8m-7 6h8m0-13h8m-8 0h8m-6 17h8m-101 2h8m-8 3h8m-7-1h8m-5 2h8m-8-1h8m-6 6h8m-4-8h8m-8 7h8m-7-8h8m-6 5h8m-7-4h8m-6 9h8m-6 1h8m-8-5h8m-8-6h8m-7 6h8m-8 12h8m-7-18h8m-8-1h8m-6 11h8m-8-8h8m-5 11h8m-6 1h8m-7-3h8m-6-4h8m-7 1h8m-5 1h8m-7 4h8m-8-13h8m-5 11h8m-7 2h8m-6 2h8m-7 3h8m-7-6h8m-8-2h8m-6 2h8m-6 0h8m-8 2h8m-7-11h8m-8-1h8m-8 12h8m-6-13h8m-6 13h8m-7 1h8m-8-16h8m-4 5h8m-6 12h8m-7-17h8m-7 2h8m-6 6h8m-8-1h8m-7 12h8m-8-5h8m-7 0h8m-7-4h8m-8-4h8m-8 11h8m-7-2h8m-7 0h8m-7-3h8m-8-10h8m0-2h8m-5 8h8m-7 2h8m-7 1h8m-4-6h8m-5-3h8m-7-1h8m-83 37h8m-6-14h8m-6 11h8m-4 2h8m-8 1h8m-8-3h8m-7-4h8m-7-6h8m-6 2h8m-6-4h8m-7 15h8m-8-9h8m-7 4h8m-8 6h8m-8-8h8m-7-1h8m-7 2h8m-7 2h8m-8 4h8m-5-2h8m-4-11h8m-7-4h8m-8 17h8m-2-12h8m-5 11h8m-7-10h8m-7 3h8m-8 6h8m-8-15h8m-4 7h8m-6 2h8m-7-9h8m-6 2h8m-5-1h8m-7 6h8m-6-3h8m-8 1h8m-58 22h8m-8 0h8m-4 2h8m-6-8h8m-7 5h8m-8-6h8m-6 9h8m-7-9h8m-4-1h8m-3 0h8m-5 6h8m-8 3h8m-7-7h8m-5 4h8m-4 2h8m-7-2h8m-7 0h8m-5-2h8" stroke="rgb(133, 172, 84)" stroke-width="8" stroke-opacity="0.75" fill="none"/>
<path transform="translate(48.4 317.4) scale(.1)" d="M628 236h8m-4-2h8m-6 3h8m-5 1h8m-5-1h8m-7 1h8m-26 8h8m-8-1h8m-5 4h8m-8-5h8m-3 0h8m-8 6h8m-7-7h8m-8 3h8m-4 3h8m-8 2h8m-7-6h8m-6-4h8m-7 11h8m-8-2h8" stroke="rgb(199, 173, 53)" stroke-width="8" stroke-opacity="0.80" fill="none"/>
<path transform="translate(156.6 317.3) scale(.1)" d="M539 52h8m-28 17h8m13 6h8m20-13h8m23 3h8m23 3h8m11 3h8m4 1h8m-2 4h8m10-5h8m34-4h8m-2 2h8m-272 13h8m10 2h8m-5 2h8m-5 6h8m44-7h8m-1 6h8m-1 2h8m10-10h8m-3-2h8m14 3h8m-2 3h8m1 10h8m13-1h8m66-8h8m6-1h8m-197 25h8m-3-1h8m3-7h8m-5-2h8m16-2h8m1 5h8m1 4h8m-6 7h8m-8-2h8m131-9h8m-286 32h8m17 1h8m16-12h8m3 9h8m-6-10h8m-3 0h8m3 7h8m-7 1h8m0-5h8m-8 8h8m0 3h8m-5-19h8m-4 10h8m-7 5h8m-4-15h8m0 14h8m142 1h8m9-5h8m-290 12h8m50 14h8m10-4h8m-4-7h8m-1 5h8m-8-4h8m1 1h8m161 0h8m-7 3h8m-431 17h8m144 0h8m9 11h8m27-16h8m0 1h8m1 12h8m-5-6h8m5 0h8m-8 9h8m-4-5h8m166-3h8m-3-8h8m-8 10h8m-7-6h8m-252 17h8m-7 4h8m3 3h8m-3-2h8m7-1h8m7 0h8m0-1h8m201 3h8m-569 28h8m203-6h8m-2-2h8m38 8h8m8-12h8m13-5h8m-5 11h8m-2-10h8m12 11h8m1-4h8m-8 5h8m-8 4h8m-335 15h8m76 3h8m42-5h8m-1-9h8m-1 17h8m6 1h8m0-9h8m58-7h8m40 3h8m-5-3h8m-4-1h8m-1 12h8m7 0h8m2-6h8m215 10h8m10-7h8m-7-8h8m-556 31h8m22 3h8m9-12h8m26 7h8m0-9h8m19 8h8m0-8h8m4 13h8m26 1h8m2-13h8m-2-1h8m42 1h8m-6 5h8m12 8h8m-1-5h8m-1-4h8m0 5h8m0-3h8m2-6h8m224 0h8m-552 20h8m48 5h8m32-9h8m11 9h8m6-5h8m-1 1h8m-4 1h8m8 4h8m8 3h8m5-11h8m2 6h8m22 4h8m2 1h8m24-11h8m-6 1h8m2 15h8m4-15h8m-6 3h8m-5 1h8m2 4h8m231-11h8m-6 12h8m-4-9h8m-549 33h8m-7-14h8m21 16h8m6-13h8m2 8h8m16-12h8m4 6h8m32-5h8m9 4h8m9 0h8m-8 8h8m-6-2h8m8-10h8m-5 4h8m-6 4h8m23 3h8m10-9h8m11 11h8m5 3h8m-7 1h8m9-11h8m-6 1h8m-7-9h8m-7 11h8m-253 27h8m35 0h8m52 0h8m0-13h8m-5 5h8m-5-1h8m12-9h8m7 19h8m2-15h8m-7 8h8m3 6h8m6-10h8m1 11h8m-3-7h8m0 6h8m-1-10h8m6 9h8m2-3h8m11 0h8m219-13h8m-521 28h8m15 0h8m2 4h8m12-5h8m-4 7h8m2-2h8m2 6h8m-4-7h8m-7-10h8m-1-2h8m-7 7h8m1-1h8m0-1h8m9 10h8m13-4h8m-4-10h8m1 15h8m22-16h8m3 10h8m22 9h8m-5-2h8m-1-1h8m-4 0h8m-2-4h8m9-9h8m-6 7h8m3 5h8m9-2h8m208-8h8m-6 14h8m4-13h8m-571 21h8m47-5h8m41 2h8m-3 13h8m12-1h8m3-11h8m2 3h8m4 9h8m8-12h8m-1 12h8m-3-11h8m23 0h8m-6 2h8m-2 9h8m-7-14h8m2 7h8m-1 7h8m2-7h8m10-10h8m3 0h8m-5 7h8m6-4h8m-5-2h8m-6 18h8m-4-8h8m-5-3h8m3-4h8m-6 12h8m234-4h8m-561 19h8m16-4h8m16 8h8m-8-9h8m5 4h8m-4-4h8m-5-1h8m4 6h8m17-6h8m3 12h8m33-7h8m-7-4h8m0 2h8m-5 10h8m5-1h8m6-8h8m-2 6h8m-7-6h8m-7 0h8m6-7h8m-7 12h8m-1-3h8m-5-9h8m6 6h8m-2-4h8m-3 11h8m16-12h8m-3-1h8m1 5h8m243 1h8m-580 13h8m47 4h8m-2 14h8m1-3h8m0-10h8m26-1h8m20 13h8m-7-5h8m27-7h8m-3-5h8m1 10h8m0 1h8m-6-3h8m8 5h8m-8 1h8m2 2h8m38-14h8m288 9h8m-586 9h8m43 2h8m16-2h8m18 14h8m-6 0h8m-3-6h8m5-6h8m-6 10h8m-2 5h8m-3-14h8m-7 7h8m0-6h8m-6-1h8m9 0h8m0-4h8m16 5h8m-5-4h8m20 6h8m20-2h8m-279 31h8m36-8h8m26 11h8m-3-2h8m25-6h8m-5-1h8m-7 5h8m7 1h8m-7-6h8m-7 5h8m-2-7h8m446 4h8m-3 6h8m-565 16h8m8-8h8m23 9h8m0 0h8m3-15h8m-3 10h8m6 6h8m0-6h8m-7-3h8m0-4h8m-152 30h8m79 0h8m-5 1h8m1-9h8m5 3h8m8 8h8m-7 3h8m-4-4h8m455-1h8m-8-5h8m-723 27h8m190-1h8m5-9h8m-1 9h8m4-4h8m-7 1h8m466-6h8m-517 23h8m-5 7h8m-5-5h8m-6-9h8m-105 21h8m-7 1h8m23 4h8m-2-8h8m2 16h8m4-2h8m-2-11h8m25 16h8m-6-15h8m-8 6h8m-7-1h8m-8-4h8m-157 18h8m89 8h8m12-5h8m17-5h8m-3 11h8m-98 10h8m55 12h8m3-14h8m15 14h8m-6 2h8m-7-10h8m10 6h8m-7-1h8m478-2h8m-6-6h8m-549 36h8m4-15h8m15 4h8m-4 8h8m-2 3h8m-2-18h8m6 11h8m-8-8h8m429 11h8m-5 3h8m-1-15h8m6 16h8m-1-6h8m-675 26h8m121-1h8m46-1h8m-8-1h8m10-4h8m-6-9h8m0 11h8m-8-5h8m-6-4h8m5 3h8m3 1h8m-5-1h8m-5-2h8m3 6h8m22 6h8m0-5h8m-6 2h8m9-7h8m-4 11h8m-5-2h8m-4-7h8m8-4h8m-2 9h8m-5 3h8m4-9h8m16 7h8m-7-10h8m-8 0h8m9 1h8m-1 0h8m-6 1h8m13 9h8m7-12h8m-4 12h8m-8-13h8m-2-1h8m5 11h8m-8-8h8m4 13h8m6-16h8m-7 8h8m-364 9h8m15 5h8m4 0h8m9 9h8m-5-8h8m52-3h8m3 11h8m8-2h8m20-1h8m3 3h8m3-5h8m37 5h8m-7-3h8m15 8h8m-5-5h8m-7-10h8m14 13h8m17-2h8m-6-10h8m2 4h8m52 5h8m-4-12h8m8 7h8m7-6h8m-7 3h8m10-4h8m-4 7h8m54-9h8m-513 35h8m7-15h8m48 10h8m24-6h8m18-2h8m14-2h8m31 3h8m-4 4h8m35 7h8m-2-5h8m0 1h8m32-9h8m53-1h8m24 13h8m18-13h8m7 8h8m0-3h8m16 5h8m17-8h8m2 12h8m-501 7h8m28 7h8m37 5h8m-5 6h8m3-7h8m18-6h8m67 4h8m58-7h8m44 1h8m26 6h8m9-6h8m95 5h8m-407 28h8m120-9h8m93-5h8m8 4h8m1 6h8m109 5h8m-482 12h8m79-7h8m21 7h8m35-6h8m53 12h8m-66 39h8m79-4h8m47-8h8m-125 18h8" stroke="rgb(108, 150, 200)" stroke-width="8" stroke-opacity="0.45" fill="none"/>
<path transform="translate(156.6 317.3) scale(.1)" d="M634 98h8m6-8h8m-4-1h8m-1-1h8m15 6h8m-7-1h8m-7-7h8m4 9h8m-101 22h8m-5-2h8m0-3h8m-7-9h8m-1 0h8m11 11h8m-7-4h8m36 5h8m-6-10h8m-8 5h8m-6 1h8m-4-1h8m-5-1h8m-5 2h8m-3-8h8m-8 9h8m-8 4h8m-7 3h8m-6-13h8m-2 1h8m-123 21h8m1-2h8m-3 9h8m-6-8h8m-7-1h8m-2 0h8m73 4h8m-8 0h8m4-4h8m-156 30h8m-6 1h8m-7-12h8m-2 14h8m0-3h8m-4-15h8m0 1h8m-5-1h8m94 18h8m-6-8h8m-6-3h8m-4-7h8m-1 16h8m-4-6h8m-7-3h8m-167 31h8m-3-6h8m-6 1h8m-3-14h8m-5 16h8m5-11h8m-4-5h8m-4 8h8m-7-4h8m95 10h8m-5-10h8m0 0h8m-3 1h8m-174 32h8m-6 0h8m0 0h8m-5-7h8m-3 3h8m-6 6h8m-7-2h8m-4-6h8m-7 4h8m-8-7h8m-4 1h8m131-4h8m-6 12h8m-1-2h8m-5 4h8m-8-8h8m-212 24h8m-6-4h8m-7 1h8m-7 5h8m4-4h8m4-3h8m-5 0h8m-7-4h8m-7 3h8m-1-3h8m-6-6h8m0 11h8m-4-10h8m-7 12h8m129-5h8m-2-2h8m-2-5h8m-208 31h8m-6-1h8m-6 2h8m-6-10h8m-5 16h8m-5-12h8m3 11h8m-2-1h8m-5-9h8m-6-8h8m2 8h8m-8-8h8m-2 9h8m133 3h8m4-4h8m-234 26h8m9-7h8m-2-7h8m-2 3h8m-4 15h8m-5-10h8m-7-4h8m-6 10h8m-8 1h8m-6-12h8m-8 4h8m-5 1h8m-2 0h8m-5 11h8m-4-6h8m-8-7h8m0 4h8m-4-6h8m144 9h8m-232 20h8m-4 6h8m-7-1h8m-1-1h8m-1-2h8m-1-8h8m-4 1h8m-8 2h8m7 3h8m-5 5h8m0-2h8m-8-14h8m-7 1h8m-3 15h8m-7-3h8m-7-13h8m-6 13h8m-3-15h8m-8 3h8m-7 13h8m-5-2h8m-6 5h8m134-2h8m-8-14h8m0 0h8m-234 23h8m-7 5h8m-6-9h8m-4 4h8m-4 12h8m0 0h8m-4-4h8m-3 3h8m8-9h8m-3 6h8m-3-7h8m-8 2h8m-8 4h8m-4 6h8m-2-14h8m-4 3h8m-6-5h8m-5 11h8m132-7h8m0-7h8m-2 17h8m-221 10h8m-5-3h8m-5 8h8m-3 3h8m-7-6h8m-6 6h8m-6-10h8m0 5h8m-5-8h8m-6 5h8m-7 3h8m-4 8h8m0-7h8m-4 7h8m-7-6h8m-1-5h8m-1-2h8m-6 10h8m-1 4h8m3-6h8m90 5h8m-2-7h8m0 6h8m-3 0h8m-7-14h8m2 8h8m-6 6h8m-3-14h8m-8-1h8m-207 35h8m-6-2h8m-7-10h8m3 1h8m-7 7h8m-6-9h8m2 11h8m4-1h8m-6-5h8m-1-3h8m-3 8h8m3-13h8m94 11h8m-8 7h8m-2-3h8m-2-14h8m5 12h8m-207 7h8m-6-1h8m0 5h8m6 8h8m-8-7h8m-5-4h8m-7 9h8m-5-1h8m-8 0h8m5-6h8m-5-2h8m-4 5h8m12 4h8m-7-10h8m100 14h8m-6-14h8m-5 5h8m0 11h8m-7-10h8m-8-2h8m-5 4h8m-251 21h8m2 1h8m-2 2h8m23-11h8m-7 16h8m6-3h8m-7-8h8m-7 4h8m-5-4h8m-6-5h8m-6 14h8m-8-11h8m-5 4h8m-8 0h8m-6-1h8m-2 11h8m8-10h8m-2 9h8m-7-9h8m-7 1h8m104-8h8m-7 4h8m-8 0h8m-7 1h8m-7 3h8m-4-3h8m0 12h8m-7-19h8m-6 12h8m-5-3h8m-257 19h8m-8-4h8m-5 13h8m0-14h8m-6 8h8m-6-9h8m-2 15h8m-8-7h8m-1-9h8m-7 6h8m7-7h8m-5 3h8m-4 7h8m-3 5h8m-7-1h8m-2 2h8m2 0h8m-5-7h8m-5-8h8m-7 0h8m-3 10h8m-6-7h8m-7 9h8m3 5h8m-4-11h8m-4 9h8m-4-7h8m-5 6h8m-1-15h8m-6 6h8m-5 0h8m94 12h8m-7-1h8m-6-10h8m-7 4h8m-7-11h8m0 17h8m-5-10h8m-6-7h8m-7 5h8m-5 14h8m1-14h8m-424 25h8m-7 9h8m-8-5h8m17 1h8m24-4h8m-6 7h8m-2-10h8m-4 4h8m10 6h8m0-10h8m-4 6h8m0 4h8m-5-6h8m-3 0h8m0-1h8m-3 4h8m-6-1h8m-7-7h8m-6-3h8m-7 5h8m-7 7h8m-7-11h8m-6 7h8m-2 6h8m-5-15h8m-5 10h8m-4 1h8m-7-7h8m-6 12h8m-1 0h8m-2-6h8m-4-12h8m-1 1h8m-3 1h8m-3 3h8m-6-5h8m-7 1h8m-5 11h8m-5-5h8m-5-3h8m-1 3h8m8-3h8m2 14h8m-5-12h8m0 8h8m-8-10h8m-2 9h8m-7-11h8m3 12h8m1-14h8m108 2h8m4 15h8m-6-13h8m2 0h8m-424 33h8m-2-1h8m-4-3h8m-5 1h8m-6-6h8m-6 4h8m-5-6h8m-5 4h8m-8 0h8m-3-2h8m-6 8h8m-8 2h8m-8-11h8m-5 4h8m-8-8h8m-1 1h8m4 11h8m-8-7h8m1 7h8m-4-6h8m-2 3h8m-6 2h8m-7-7h8m-4-7h8m-5 11h8m-1 6h8m-3-2h8m0-4h8m-1 0h8m-7-3h8m6-3h8m-1 0h8m-4-1h8m-4 0h8m-2-5h8m-8 2h8m0 2h8m3 12h8m-1-5h8m-3 4h8m-3-3h8m-7-1h8m-6 6h8m-7-3h8m-1 4h8m0-14h8m4-4h8m-7 16h8m0 0h8m-8-2h8m-6-1h8m-6-5h8m-6-3h8m-1 13h8m-6-8h8m-5 3h8m-4-4h8m12-6h8m-5 9h8m-7 2h8m-7 4h8m130-12h8m1 11h8m-7-15h8m-419 26h8m-3 0h8m-6-1h8m-5 12h8m-4-18h8m-2-1h8m-7 5h8m-1 0h8m-1-1h8m-4 6h8m-7 2h8m-7 5h8m-5-17h8m-4 14h8m-2-3h8m-6-5h8m19-2h8m-4-2h8m-6-2h8m56 1h8m-7 4h8m-5-3h8m-6 2h8m16-1h8m4-2h8m5 3h8m-4 2h8m2-6h8m29 2h8m141 10h8m-6 5h8m-7 1h8m-7-13h8m-439 25h8m5 0h8m-8 7h8m-5-3h8m-8 5h8m-6-8h8m-6 4h8m-6-12h8m-8 6h8m-4-2h8m-6-5h8m-7 14h8m34-15h8m4 2h8m332 11h8m-5-4h8m0 5h8m-444 20h8m-8-5h8m6 1h8m-6 8h8m-1-18h8m-7 14h8m-7-2h8m-6-1h8m-4 2h8m-8-5h8m386-6h8m1-1h8m0 9h8m-3 1h8m2 4h8m-507 16h8m-4-7h8m-7 7h8m5 4h8m-3-6h8m-7-5h8m-7 10h8m-2-13h8m-7 12h8m-7-8h8m-5 2h8m2 4h8m-7 7h8m-7-18h8m-4 13h8m-7 3h8m1-7h8m-4 5h8m-6-14h8m-6 3h8m409-4h8m1 6h8m-6-6h8m-7 3h8m-512 23h8m2 1h8m-7 4h8m-7-2h8m-7 7h8m9-10h8m0 10h8m-6-9h8m-1 10h8m-6-8h8m-3-3h8m-5 6h8m-6 7h8m-2-12h8m-2 7h8m-8-7h8m418-5h8m-5 2h8m-5 12h8m-6-10h8m-8-3h8m-512 36h8m-5-8h8m-2-5h8m-7 13h8m2-12h8m-4 8h8m-3-15h8m-2 16h8m-7-13h8m-4 10h8m-6 2h8m-5 0h8m-2 1h8m-5-3h8m-5 5h8m-7-18h8m-7 12h8m-3 0h8m-5-12h8m-7 0h8m1 10h8m-6 7h8m-6-8h8m-4-5h8m2 11h8m-5-7h8m-5 0h8m-8-2h8m5 8h8m2-3h8m-7 4h8m0-4h8m-3 5h8m-7-5h8m-6-3h8m1 4h8m-6 7h8m308-4h8m-5-5h8m-6-5h8m-466 18h8m5 2h8m10 10h8m-6-7h8m-2 11h8m-5-1h8m-2-10h8m2-1h8m-7-3h8m-8 4h8m-7-1h8m3 7h8m-3-3h8m-5 1h8m-8 5h8m4-12h8m2-3h8m4 7h8m-4 1h8m-1-10h8m-3 10h8m-2-3h8m2 7h8m-6-6h8m-6-3h8m-7 7h8m-5-6h8m-4 2h8m-2 3h8m-7-7h8m-5 7h8m-4 8h8m-5-1h8m-1-9h8m0-2h8m-6 11h8m-3-8h8m-7-3h8m-6 1h8m-2 8h8m-6-6h8m-7 5h8m-7-7h8m-6-4h8m-8 7h8m-7-4h8m-8 1h8m-5 4h8m-1-4h8m-5 10h8m-5-5h8m-8 5h8m3-10h8m-5 11h8m-2-3h8m-5-1h8m-8-4h8m-7 8h8m-6-5h8m-6-2h8m16-6h8m-4 13h8m-7-12h8m-7 7h8m-7-1h8m-6 0h8m-7 1h8m-3 2h8m-8-12h8m149-3h8m-4 2h8m-8 12h8m-2-7h8m-2 0h8m-459 12h8m1 17h8m-3-4h8m-5 0h8m10 1h8m1 4h8m-7-6h8m-8-1h8m-7 0h8m-4-5h8m-7 11h8m-3-8h8m-7-6h8m-2 9h8m-7 2h8m-6 5h8m-7-10h8m-6-7h8m-8 4h8m-7 12h8m-4-1h8m-6 2h8m-5-6h8m-7 4h8m-8-14h8m-6 12h8m-7-12h8m-4 9h8m4-12h8m-5 12h8m-3 6h8m-6 0h8m-3-18h8m-7 14h8m-3-12h8m-6 9h8m-4 4h8m-1-14h8m-6 8h8m-6-3h8m-3 7h8m-1-8h8m-6-5h8m5 3h8m-7 16h8m-1 0h8m-7-13h8m1 12h8m-6 1h8m4-13h8m-6 5h8m-7 4h8m-5-5h8m-5-8h8m3 4h8m0 12h8m-5-1h8m-3-12h8m-6 3h8m-7-1h8m0 0h8m-3-2h8m-5-1h8m-7 6h8m-8-7h8m-5 14h8m-4-13h8m1 10h8m-6-4h8m13 7h8m-7-4h8m-2-4h8m-7 3h8m-2-5h8m-8 10h8m5-8h8m76 9h8m-7-1h8m-6-7h8m-7-7h8m-8 13h8m-5 3h8m-5-14h8m-5-2h8m3 8h8m-6-5h8m-7 0h8m-7 2h8m-406 12h8m-7 0h8m-8 2h8m0-2h8m43 2h8m11-2h8m103 0h8m30 0h8m30 7h8m-7 2h8m-2-4h8m-3-1h8m-8 4h8m12 8h8m-6-11h8m2 14h8m-8-15h8m2 0h8m1 3h8m-2 2h8m-7-6h8m-5 0h8m-2 2h8m-2 7h8m-7-5h8m5 7h8m2-4h8m-4-3h8m-5-7h8m-112 20h8" stroke="rgb(96, 142, 192)" stroke-width="8" stroke-opacity="0.50" fill="none"/>
<path transform="translate(156.6 317.3) scale(.1)" d="M643 106h8m-6 0h8m-7 7h8m-8 2h8m-7-1h8m-6-13h8m-7 2h8m-4 13h8m-6-14h8m-7 2h8m-8 3h8m-7 3h8m-8-7h8m-4 11h8m-8-3h8m-5-10h8m-6 2h8m-6 13h8m-8-9h8m-5-3h8m-5-4h8m-8 1h8m3 16h8m-78 21h8m3-16h8m-8 13h8m-2-2h8m-8-9h8m-5 4h8m-7 6h8m-7-7h8m-6-1h8m34 3h8m-5-3h8m-8-6h8m-7 2h8m-4-2h8m0 10h8m-7-3h8m-100 32h8m-6-18h8m-5 15h8m-6-1h8m-7-4h8m-5-2h8m-5-3h8m53-3h8m-1 3h8m-7-6h8m-3 7h8m-6 5h8m-116 24h8m9-14h8m-4 0h8m-8-1h8m-4 9h8m-7-7h8m-3 1h8m-8 6h8m-6 0h8m-7-5h8m-8-2h8m71 12h8m-123 16h8m0-3h8m99-2h8m-7 9h8m-2-5h8m-8 7h8m-7 1h8m-6-11h8m-4 10h8m-8-3h8m-6 2h8m-132 6h8m-1 1h8m-7 13h8m93 2h8m-7-15h8m4-3h8m-4 13h8m-141 18h8m-6-6h8m-3 8h8m-8 5h8m-1-2h8m-6-6h8m91-6h8m-7-4h8m-8 10h8m-4 7h8m-7 1h8m4-18h8m-141 33h8m-6 0h8m-7 1h8m-4-12h8m-3 11h8m-8-8h8m-6 14h8m-8-13h8m92 1h8m-4-4h8m-3 5h8m-4 1h8m-5-7h8m-5 0h8m-7 13h8m-143 12h8m-8-3h8m-4 13h8m-2-13h8m-7 3h8m-7-7h8m-3 18h8m72-6h8m-3 1h8m-5 4h8m-6 1h8m-7-3h8m-5 3h8m-6-5h8m-6 2h8m-7 0h8m-8-10h8m-7 2h8m-7-5h8m-7 11h8m-5-6h8m-4 6h8m-7-4h8m-7 2h8m-8-6h8m-6 4h8m-8-3h8m-5 7h8m-8 4h8m-138 20h8m-7 0h8m-6-3h8m-6-3h8m-7 1h8m-8-3h8m-6-3h8m-3-6h8m-6 2h8m-4 17h8m-1-5h8m-7 4h8m43 0h8m-6-1h8m-6 1h8m-6-4h8m-7-2h8m-2 4h8m-4-8h8m-7 0h8m-4-3h8m-6 10h8m-3 4h8m-4-1h8m-5-12h8m-7-2h8m-2 11h8m-3-10h8m-5 12h8m-7-16h8m-133 27h8m1-6h8m-7 17h8m-4-14h8m-7 12h8m-2-6h8m-2 5h8m-7 2h8m2 0h8m-6-4h8m5 1h8m-8-3h8m-3 0h8m-2-1h8m-8 6h8m6-1h8m-5-1h8m-7 1h8m-7-15h8m-8 1h8m-6 16h8m-8-14h8m-4 11h8m-5-10h8m-6 4h8m-8 10h8m-5 0h8m-8 0h8m-8-6h8m-3-10h8m-7 14h8m-6-7h8m-7 2h8m-7-8h8m-7-1h8m-3 3h8m-4-1h8m-4-4h8m-119 27h8m-7 3h8m-2 4h8m-7-2h8m-8-8h8m-7-2h8m-7 7h8m-4-4h8m-6 9h8m-5-11h8m-8 0h8m-7 11h8m-7 4h8m-7-7h8m-6-11h8m-3 12h8m-8-2h8m-7-5h8m-8 0h8m-8 5h8m-3 8h8m-4-17h8m-8-1h8m-3 9h8m-7-3h8m-7 7h8m-7-6h8m-7-3h8m-3-5h8m-8 11h8m3 8h8m-7-8h8m2 3h8m-3 4h8m-7-16h8m-7 5h8m-7 4h8m-7 6h8m-4-16h8m-7 5h8m-3-1h8m-7 8h8m-102 15h8m-6-5h8m-8 13h8m-3-6h8m-7 4h8m-7-12h8m-7 4h8m-5 3h8m-7 1h8m-7-1h8m-5 1h8m-7 3h8m-7-4h8m-7-4h8m-2 13h8m-7-8h8m-8-6h8m-6 8h8m0 4h8m-5-15h8m-6 0h8m-8-1h8m-4 12h8m-8 2h8m-5-10h8m-7-3h8m-3 1h8m-4 9h8m-6-6h8m-7 7h8m-6-3h8m-6-8h8m-8 8h8m-7 6h8m-7-6h8m-6 9h8m-7-13h8m1-1h8m-6 12h8m-8-3h8m-6 1h8m-7-13h8m-6 9h8m-8 0h8m-5-9h8m-4-1h8m-104 30h8m-5-1h8m-7-3h8m-4-5h8m-7 5h8m-7 8h8m-6 0h8m-7-14h8m-3 7h8m-8 7h8m-8 1h8m-7-9h8m-8 6h8m-8-9h8m-4-2h8m-8 7h8m-7 11h8m-4-18h8m-7-1h8m-8 12h8m-8 7h8m-2-17h8m-6 6h8m-8-3h8m-4 0h8m-7 4h8m-4-5h8m-7 8h8m-8-5h8m-7 3h8m-2 5h8m-7 0h8m-6-3h8m-7-8h8m-8-4h8m-5 7h8m-3 1h8m-5-6h8m-7 7h8m-7-2h8m-5-3h8m-8 1h8m-4-2h8m-6 15h8m-7-17h8m-3 6h8m-8 12h8m-3-3h8m-4 0h8m-96 15h8m-2-6h8m-4 14h8m1-19h8m-7 14h8m-8-13h8m-6 14h8m-8 3h8m-8-9h8m-7-7h8m-6 13h8m-8-8h8m-6 7h8m-7-3h8m-6 4h8m0-13h8m0 6h8m-4-8h8m-7 11h8m1-6h8m-1 14h8m-7-18h8m-8 9h8m-7 3h8m-4-7h8m-7 2h8m-6-2h8m-8 10h8m-2 0h8m-7 1h8m-5-9h8m-5 8h8m-117 19h8m-7 3h8m6-18h8m-6 16h8m-7-6h8m-7-7h8m-4 14h8m-4-15h8m5 1h8m-2 2h8m-4-1h8m-7 2h8m16-1h8m-4-3h8m-6 1h8m-7 0h8m-1 1h8m-6 2h8m-5-3h8m-7 2h8m-6 2h8m-7-1h8m6 9h8m1-7h8m-291 25h8m-5 2h8m0-2h8m-8-1h8m-7-4h8m5 5h8m-8 5h8m-6-10h8m126-4h8m-7 3h8m-6 7h8m-6-11h8m-6 4h8m-2 10h8m2-11h8m-7-5h8m-4 3h8m-7-3h8m-6 0h8m72 8h8m-7-7h8m-2 6h8m-5 9h8m-7-12h8m-8 4h8m-8 9h8m-4 1h8m-6-9h8m-390 17h8m-7 7h8m-2-6h8m-8 5h8m55 2h8m-8-8h8m-6 2h8m-8 10h8m-4-9h8m-7 7h8m13-16h8m-7 3h8m-8 9h8m-8-7h8m-6 12h8m-5-6h8m-7-8h8m-6 11h8m-7-9h8m-4 13h8m-8-5h8m-5 5h8m-1-19h8m-7 9h8m-5-1h8m-4 10h8m4-10h8m-4 4h8m3 5h8m-8-6h8m-7-1h8m-6 5h8m-6-3h8m-5-2h8m-4-2h8m-2 3h8m-8-3h8m-1 3h8m-2 4h8m9 3h8m-6-10h8m-5 10h8m-7-2h8m-2-9h8m-7 9h8m-3-5h8m-6-3h8m13 3h8m-6-3h8m2-8h8m-6 0h8m-7 6h8m-5-2h8m95-2h8m-5 0h8m-6-1h8m-8 1h8m-6-1h8m-2 5h8m-8-2h8m-392 34h8m-5-4h8m-6-6h8m-5 5h8m-5-9h8m-8 2h8m-8 10h8m-4 1h8m-6-6h8m-8 4h8m-2-2h8m-6 5h8m-2-10h8m-6 0h8m-2 3h8m-4-5h8m-8 4h8m-5 4h8m-8-1h8m-8-6h8m-2 7h8m-5-7h8m-8 10h8m-5-12h8m-6 0h8m-5 4h8m-8 10h8m-6-3h8m-7-2h8m-6-13h8m-3 12h8m-8 6h8m-5-19h8m-6 8h8m-7-6h8m-7 11h8m-2 2h8m-8-7h8m-7-5h8m-6 5h8m-6 3h8m-7-8h8m-8 2h8m-8 4h8m-7-8h8m-7 16h8m-5-1h8m-8-1h8m-6-6h8m-7-4h8m-5 14h8m-7-15h8m-7 7h8m-8-8h8m-6 9h8m-6-11h8m-5 3h8m-1-4h8m0 11h8m-7 4h8m-6 4h8m-7-1h8m-4-15h8m-7 16h8m-7-11h8m-8-4h8m-6 1h8m-4 12h8m-8 2h8m-3-13h8m-4-1h8m-8 1h8m-7 10h8m-7-6h8m-7-6h8m-5 4h8m-5 10h8m7-17h8m-5 17h8m-5-13h8m-5 14h8m-5-17h8m-2 11h8m-8-5h8m-3-5h8m-3 0h8m-7 11h8m-8-3h8m-7-8h8m-6 13h8m-6-5h8m-6 0h8m-5 0h8m-7 5h8m-7 1h8m-7-16h8m-8 16h8m-6-10h8m-5 11h8m-3-18h8m-7 2h8m-2 7h8m-7 3h8m-5-10h8m-7 5h8m-8-2h8m-7 5h8m-6 0h8m-8-10h8m-7 5h8m-6 8h8m-8 0h8m-4-11h8m-8 10h8m-8-4h8m-7 2h8m-7 6h8m-258 17h8m3-11h8m-5 12h8m-2-7h8m-7-7h8m-8 1h8m-5 13h8m-7-11h8m3 6h8m-7 0h8m-5 10h8m-6 0h8m-8-18h8m-8 6h8m-5-4h8m-6 9h8m-3 7h8m-8-10h8m-5 2h8m-8 0h8m-7 0h8m-7 3h8m-4 5h8m-7-8h8m-6-11h8m-2 2h8m-6 1h8m-5 4h8m-5-6h8m-7 5h8m-8 1h8m-1 10h8m-7 2h8m-7-1h8m-8-8h8m-6 9h8m-7-16h8m-3 10h8m-6-5h8m0 10h8m-7-5h8m-6-1h8m-7-2h8m-6 7h8m-4 2h8m-7-11h8m-7-1h8m-7 7h8m-4 3h8m-8-16h8m-8 16h8m-8-13h8m-7 3h8m-8 0h8m-7 6h8m-5-10h8m-6 13h8m-3-11h8m-8 4h8m-7-2h8m-5 4h8m-7 1h8m-6-6h8m-5 12h8m-7-14h8m-7 9h8m-8-13h8m-8 2h8m-5 17h8m-1-4h8m-4 2h8m-1-8h8m-7-3h8m-7-4h8m-8 11h8m-8-7h8m-8-1h8m-8 12h8m-7 2h8m-7-15h8m-7 10h8m-4-8h8m-8 2h8m-7-6h8m-3 0h8m-7-1h8m-5 4h8m-5 6h8m-4-10h8m-8 10h8m-3 8h8m-7-10h8m-7-8h8m-7 13h8m0-9h8m-6-4h8m-6 14h8m0-10h8m-5 2h8m-6 0h8m-4 10h8m-7-1h8m-6-11h8m1-4h8m-7 15h8m-4-7h8m-7 7h8m135-7h8m-7 3h8m-7 7h8m-2-3h8m-408 15h8m-7-4h8m-7 12h8m-5-19h8m-4 10h8m-1-3h8m-6-5h8m-7-1h8m-5 17h8m-7-18h8m-7 10h8m-5-4h8m-7 2h8m-7 7h8m-8-11h8m-5 14h8m-6-15h8m-7 12h8m-7 2h8m-7-15h8m-7 11h8m-5 6h8m-7-8h8m-7-1h8m-7-1h8m-8 2h8m-5-4h8m-6-3h8m-6 10h8m1-10h8m-2 4h8m-7 10h8m-7-18h8m-7 7h8m-8 6h8m-8-11h8m-4 8h8m-5 2h8m-4 6h8m-8-7h8m-7 6h8m-5-10h8m3-7h8m-6 8h8m-7 9h8m0-7h8m-7-3h8m-8 7h8m-5-11h8m-6 12h8m-4 0h8m-6-10h8m-6 5h8m-5-5h8m-6 12h8m-7-13h8m-8-2h8m-7 7h8m-2 7h8m-6-11h8m-4 9h8m-2-10h8m-8-3h8m-8 12h8m-4 1h8m-8-5h8m-7 3h8m-8 0h8m-6-8h8m-8 10h8m-7-6h8m-6-3h8m-4 6h8m-7 5h8m-8-13h8m-5 0h8m-3 3h8m-7 5h8m-6-5h8m-7 11h8m-7-17h8m-8 12h8m-2 5h8m-7-1h8m-7-13h8m-7 0h8m-8 1h8m-5 15h8m-7-5h8m-5-5h8m-7-9h8m-7 15h8m-6-10h8m-7 14h8m-6-14h8m-8-5h8m-7 2h8m-7-1h8m1 2h8m-6-3h8m-6 16h8m-6 2h8m-7-11h8m-8 11h8m-6-12h8m-8 10h8m-7-15h8m-2 18h8m-1-12h8m-6 6h8m-6-7h8m-4 8h8m-1-7h8m-7 6h8m-6-9h8m131 15h8m-8 0h8m-4-16h8m-5 12h8m-7-9h8m-6 13h8m-6-2h8m-4-9h8m-411 28h8m-6 1h8m-7-16h8m-7 13h8m-5-9h8m-4 12h8m-6-14h8m-8 8h8m-7-4h8m-8 5h8m-4-2h8m-8-6h8m-7 9h8m-6-9h8m-6 11h8m-8 1h8m-4 3h8m-7-5h8m-3-4h8m-6 1h8m-6-7h8m-5 13h8m-3-10h8m-7-1h8m-6 2h8m-2 5h8m-8-6h8m-7 7h8m-2-1h8m-7-11h8m-7 4h8m-7 5h8m-1-7h8m-8 3h8m-2-1h8m-7-3h8m-8 16h8m-4-16h8m-7 16h8m-3-13h8m-5 6h8m1-10h8m-7-1h8m-6-1h8m-7 12h8m-8-9h8m-5 8h8m-7 1h8m-6 0h8m-8-8h8m-6-4h8m0 10h8m-8 3h8m0-10h8m-5 5h8m-7 10h8m-5-7h8m-6 4h8m-4-8h8m-7-1h8m2-2h8m-8 15h8m-7-11h8m-8-5h8m-6 16h8m-7-4h8m-7-9h8m-7 6h8m-6-4h8m-4-6h8m-7 16h8m-7 0h8m-4-14h8m-5 12h8m-8-11h8m-8 13h8m-5-16h8m-7 4h8m-7 10h8m-8-6h8m-6 1h8m-7 7h8m-5-3h8m-5-15h8m-8 12h8m-4 1h8m-7-8h8m-8 12h8m-1-13h8m-5 4h8m-7 10h8m-6-6h8m-7-12h8m-6 9h8m-7-7h8m-2 1h8m-7 2h8m-4 7h8m-8 1h8m-5 0h8m-3-8h8m-8 10h8m-5-15h8m-8 16h8m-8-2h8m-5-14h8m-6 15h8m-5-14h8m-7 6h8m-6 6h8m-6-12h8m-7 14h8m-6-12h8m-7 13h8m-8-7h8m134 9h8m-7-16h8m-7 12h8m-6-9h8m-7 11h8m-4-5h8m-7-5h8m-4 10h8m-407 6h8m-5-1h8m-3 2h8m15-2h8m6 0h8m-2 2h8m12 8h8m-6 2h8m-6-7h8m-5-3h8m-8 12h8m-2-2h8m-5-13h8m-8 5h8m-7 12h8m-6-5h8m-7 7h8m-7 0h8m-7-11h8m-8 9h8m-7-13h8m-7 6h8m-8-10h8m-6 6h8m-6-6h8m-8 1h8m-7 18h8m-6-12h8m-7 9h8m-1-12h8m-7-2h8m-6 7h8m0-8h8m-7 16h8m-4-8h8m-8 9h8m-3-13h8m-4 4h8m-5 0h8m-7-8h8m-5 9h8m-3 8h8m-3-12h8m-6 13h8m-2-2h8m-4-9h8m-7 11h8m-7-3h8m-6-14h8m-1 17h8m-6-12h8m-7-6h8m-6 3h8m-7 0h8m-6 8h8m-7 1h8m-3-9h8m-8 0h8m-3-3h8m-2 10h8m-7-11h8m-6 7h8m-6-6h8m1 14h8m-7-6h8m-2 1h8m-4 5h8m-7 0h8m-2-8h8m-8 6h8m-6-11h8m-8 13h8m-3 3h8m-7-1h8m-4 2h8m-7-18h8m132 1h8m-4 1h8m-312 17h8m44 3h8m2-3h8m-2 3h8m5 0h8m2-1h8m-7 0h8m13 0h8m7 0h8m-5-1h8m-7 1h8m0-1h8m-6 11h8m-8 5h8m-3-8h8m-6-1h8m-8 1h8m-6 2h8m-5-3h8m1 2h8m-6-7h8m-7 11h8m4-10h8m-8 9h8m-6-2h8m-3 8h8m-6-11h8m-8 5h8m-7-8h8m-8 4h8m-5 3h8m-6-7h8m-7 13h8m-3 0h8m-8-5h8m-8-9h8m75 1h8m0 10h8m-8-4h8m-7-7h8m-3 12h8m-158 4h8m27 1h8m-1 0h8m-6 15h8m-8-14h8m-1 17h8m-8-4h8m-7-4h8m-1 4h8m-8 2h8m-1-13h8m-7 3h8m-5 0h8m-8 6h8m-7-2h8m-6-1h8m-7 8h8m-2-8h8m-7 1h8m2-6h8m-4 2h8m7 10h8m-7-13h8m27-2h8m-104 19h8m11-1h8m8 0h8m-2 0h8m3 2h8m-7-1h8" stroke="rgb(84, 135, 183)" stroke-width="8" stroke-opacity="0.55" fill="none"/>
<path transform="translate(156.6 317.3) scale(.1)" d="M667 117h8m-1 1h8m-56 21h8m-8 0h8m-7 0h8m-6-2h8m-1 1h8m-2 0h8m-4-17h8m-7 5h8m-7-6h8m-8 12h8m-4 0h8m-4-8h8m-7 5h8m-7 7h8m-3-10h8m-5 10h8m-7-11h8m-7 14h8m-8 0h8m-7-5h8m-7 0h8m-8-2h8m-7-7h8m-7-4h8m-7-1h8m-7 6h8m-5 7h8m-7 3h8m-6 0h8m-60 11h8m-8 6h8m-8-13h8m-3 11h8m-7 2h8m-8 0h8m-7-7h8m-6 0h8m-7 7h8m-8-1h8m-8 3h8m-4-5h8m13 0h8m-7 3h8m-6-11h8m-8 3h8m-8 6h8m-5-11h8m-7 12h8m-8 1h8m-5-9h8m-6 4h8m-7 0h8m-6-2h8m-6 7h8m1 5h8m-3 1h8m-8 0h8m-96 18h8m-5 1h8m1-2h8m60 0h8m-8 2h8m-7-15h8m-7 16h8m-2-11h8m-5-2h8m-98 33h8m-8-5h8m-4 0h8m-5-1h8m-7-12h8m-7 10h8m-6 1h8m-7-4h8m-7 11h8m-7-12h8m-7-1h8m-8 8h8m52 1h8m-6-3h8m-7-8h8m-8 3h8m-3 10h8m-7-10h8m-5 0h8m-7 1h8m-7-1h8m-7 4h8m-4 3h8m-101 13h8m-7 4h8m-7 7h8m-7-12h8m-4-5h8m-8 1h8m-7 0h8m-8 0h8m-7 3h8m-5 11h8m-6-8h8m54 1h8m-7 7h8m-8-7h8m-7 2h8m-6 3h8m-8-5h8m-8-7h8m-8 13h8m-7-15h8m-8 18h8m-7-18h8m-7 7h8m-8 4h8m-5-4h8m-5 8h8m-8 3h8m-5-2h8m-8-1h8m-8-2h8m-104 25h8m-5 1h8m-3-14h8m-7 13h8m-6-11h8m-5 6h8m-7 3h8m-7-9h8m-7-1h8m-7 7h8m0 3h8m-1-2h8m-6 1h8m36 3h8m-6-5h8m-6-11h8m-7 6h8m-7 10h8m-6-11h8m-6-4h8m-6 14h8m-8-9h8m-6-4h8m-6-3h8m-102 26h8m-2 12h8m-5-6h8m-3-4h8m-7-4h8m-7-5h8m-8 5h8m-8 11h8m-6-13h8m-8 13h8m-5-4h8m-7-11h8m-8 6h8m-8 7h8m-6 3h8m-8-1h8m-3-9h8m-8 7h8m-8 4h8m-7-17h8m-7 3h8m-7 5h8m-6 6h8m1 2h8m-5-4h8m-4 6h8m-4-1h8m-5-1h8m-6 2h8m-4-6h8m-2 1h8m-8-1h8m-1 4h8m-6-6h8m-5 3h8m-7 2h8m-6-11h8m-7 9h8m-7 0h8m-8-10h8m-7 4h8m-6 10h8m-8-15h8m-6 6h8m-8-6h8m-8 12h8m-5-2h8m-101 7h8m-3 2h8m-7-2h8m-6 16h8m-7-6h8m-5 5h8m-7-1h8m-7-6h8m-8 10h8m-8-11h8m-7 1h8m-8 10h8m-7-10h8m-7-1h8m-8 7h8m-6-2h8m-8 2h8m-5 4h8m-7-5h8m-8-2h8m-7-10h8m-8 16h8m-5-1h8m-7 0h8m-8 0h8m-7-13h8m-7 7h8m-7-5h8m-8 11h8m-8-1h8m-7 2h8m-4-3h8m-4-12h8m-6 14h8m-3-3h8m-8-4h8m-7 5h8m-5-4h8m-7-8h8m-7 6h8m-7 11h8m-6-2h8m-7-6h8m-7-10h8m-5 14h8m-7 1h8m-7-2h8m-5 2h8m-6-7h8m-3-1h8m-1-8h8m-7 3h8m-3-1h8m-3 3h8m-7 1h8m-7 2h8m-6-2h8m-99 20h8m-3 4h8m-7-4h8m-6-5h8m-6 2h8m-4-2h8m-7 7h8m-7 6h8m-7-11h8m-6 5h8m-3 9h8m-6-7h8m-8-9h8m-7 12h8m-8 4h8m-6-3h8m-3 5h8m-7-14h8m-7 3h8m-7 6h8m-8-13h8m-7 13h8m-5-5h8m-7-7h8m-5 3h8m-8-1h8m-7-2h8m-6-2h8m-5 2h8m-7 3h8m-2-1h8m-6 2h8m-7-5h8m-54 25h8m2-2h8m-7 1h8m-6 4h8m-6-9h8m-5 1h8m-8 3h8m-5 0h8m-3-4h8m-2 2h8m-7-2h8m-5 3h8m-18 90h8m-7 4h8m-4 2h8m-4-6h8m-43 15h8m-5 10h8m-7-3h8m-7-7h8m-6 8h8m-5-3h8m-8 1h8m-4 5h8m-7-7h8m-8-2h8m-5 1h8m-8 2h8m-6-1h8m-7-2h8m-7 8h8m-6-7h8m-6-3h8m-7 5h8m-7 5h8m-5-12h8m-8 11h8m-7-9h8m-6-6h8m-8 8h8m-7 8h8m-3-3h8m-7 2h8m-5-1h8m1-8h8m-6 5h8m-3-3h8m-5 0h8m-5 1h8m0 0h8m-7 2h8m-102 25h8m-7-9h8m-7 6h8m-8 1h8m-6 2h8m-7-5h8m-8-5h8m-6 6h8m-8-5h8m-4 5h8m-8 4h8m-8-2h8m-5-1h8m5-14h8m5 6h8m-8-3h8m-5-2h8m-4-1h8m4 6h8m-8-1h8m1-3h8m1 8h8m-8-3h8m-7 2h8m-8-1h8m-6 10h8m-7-18h8m-6 0h8m-7 9h8m-7-2h8m-7-8h8m-8 1h8m-7 9h8m-7-9h8m-7 11h8m-5 2h8m-121 23h8m3-4h8m7-12h8m-3 5h8m64-4h8m-8-1h8m-3 2h8m-7 0h8m3 15h8m2-2h8m-7-1h8m-140 21h8m-8-14h8m-7 5h8m-6 9h8m-7-4h8m-7-11h8m-8 13h8m-3-10h8m-5 11h8m-8-10h8m100 11h8m-6-7h8m-6 2h8m-6-11h8m-134 38h8m-6-8h8m-6 6h8m-7-13h8m-8-1h8m-8 7h8m-1 1h8m-7 1h8m-7 2h8m-6-7h8m-7 4h8m-7-5h8m91-1h8m-6 13h8m-7-9h8m-8-1h8m-7 9h8m-5-12h8m-7 8h8m-8-10h8m-8 0h8m-7 6h8m-7-5h8m-8 2h8m-2 13h8m-6-7h8m-140 10h8m-8 16h8m-6-10h8m-7-7h8m-7 19h8m-5-1h8m-8-1h8m-4-17h8m-7 14h8m-7-6h8m93-7h8m-6 5h8m-8 1h8m-8 1h8m-6 2h8m-6-9h8m-7 15h8m2-14h8m-142 29h8m-6-9h8m-4 11h8m-6-11h8m-6 12h8m-4-14h8m-8 4h8m-8 8h8m-7-2h8m95-9h8m-7 5h8m-6-3h8m-7 13h8m-5-9h8m-8 11h8m-6-8h8m-7 3h8m-7-6h8m-7 5h8m-5-3h8m-140 28h8m-6-9h8m-8 7h8m-8-12h8m-7 12h8m-7-5h8m-6-4h8m-4 0h8m-7 6h8m-5-5h8m-8-3h8m-7 8h8m-7-5h8m-7 7h8m-8-14h8m-5 18h8m-7-12h8m-7-1h8m-6 4h8m-5 5h8m-6-8h8m-5 8h8m76-11h8m-8 0h8m2 5h8m-7 2h8m-7-5h8m-5 3h8m-5-4h8m-139 19h8m-5-1h8m24 3h8m-3-1h8m-8 2h8m0 3h8m-7 0h8m-1 7h8m-7-4h8m-8 4h8m-7-12h8m-7 2h8m-8 9h8m-6-6h8m-6 2h8m-8 8h8m-7-15h8m-7 3h8m-8 11h8m-8-6h8m-7-3h8m-5 10h8m-7-14h8m-7 13h8m-7 1h8m-6-10h8m-7 5h8m-8 1h8m-5-10h8m-7 12h8m-8 2h8m-6-13h8m-7 12h8m-6-10h8m-7 10h8m-4-3h8m-7 0h8m-3-3h8m-5 3h8m-6-12h8m-6 10h8m-8 1h8m-7 4h8m-2-13h8m-3-2h8m-74 19h8m-8-2h8m-1 3h8m1-3h8m-4 0h8m3 1h8m-7 0h8" stroke="rgb(76, 142, 165)" stroke-width="8" stroke-opacity="0.60" fill="none"/>
<path transform="translate(156.6 317.3) scale(.1)" d="M646 139h8m-6-3h8m1 1h8m-7 0h8m-37 21h8m-5 0h8m-8-2h8m0-1h8m-4-4h8m-8-6h8m-8 12h8m-6-7h8m-7 8h8m-6-10h8m-7-5h8m-5 4h8m-4 12h8m-8-3h8m-7-7h8m-7 8h8m-7 2h8m1-1h8m-3-1h8m-7 1h8m-57 19h8m-8-11h8m-3 4h8m-7 0h8m-5 8h8m-7-14h8m-8 13h8m-2-3h8m-6-10h8m-6 4h8m-8-3h8m-7 4h8m-7-1h8m-7 8h8m-7-9h8m-7 4h8m-7 4h8m-7 1h8m-6-2h8m-6 3h8m-5-12h8m-8 12h8m-7-1h8m-8 3h8m-7-12h8m-7 8h8m-6-8h8m-6-4h8m-8-2h8m-7 10h8m-8-6h8m-7 0h8m-8 10h8m-6-2h8m-7-8h8m-7 6h8m-8-9h8m-7 17h8m-7-12h8m-6-7h8m-7 12h8m-7-2h8m-7 0h8m-7 4h8m-65 10h8m-8 5h8m-4 10h8m-5-13h8m-8-6h8m-6 11h8m-8-8h8m-6 7h8m-8 4h8m-5-2h8m-7 1h8m-7-8h8m-7-1h8m-8 0h8m-8 15h8m-5-6h8m-7-9h8m-6 1h8m-7 13h8m-7 0h8m-8-7h8m-7 7h8m-6-4h8m-6-9h8m-8 8h8m-7-10h8m-8 3h8m-8-2h8m-5 1h8m-6 7h8m-7 2h8m-4-8h8m-8 11h8m-8-2h8m-7 2h8m-8-14h8m-4-2h8m-7 13h8m-6-12h8m-8 0h8m-8 9h8m-7-10h8m-7 0h8m-6 13h8m-7 4h8m-7-10h8m-61 29h8m-7-14h8m-7 0h8m-8 6h8m-7 2h8m-5 5h8m-8-6h8m-7-6h8m-8-4h8m-6 5h8m-7 7h8m-8 2h8m-6-10h8m-8-3h8m-4 8h8m-7 6h8m-8-11h8m-7 13h8m-7-6h8m-7 4h8m-8-9h8m-7 11h8m-8-3h8m-5-1h8m-8-9h8m-6 2h8m-7 0h8m-7 8h8m-6-10h8m-8 3h8m-5-7h8m-7 6h8m-8-2h8m-7-2h8m-7 5h8m-8 5h8m-5 0h8m-7 0h8m-6 7h8m-6-1h8m-8 1h8m-7-3h8m-8-5h8m-8 0h8m-5 4h8m-8-3h8m-6-3h8m-8-3h8m-8 8h8m-2-14h8m-65 20h8m-6 5h8m-4-2h8m-7 3h8m-3 3h8m-7-7h8m-8-1h8m-7 1h8m-8 1h8m-8 6h8m-7-2h8m-7 1h8m-6 6h8m-4 4h8m-6-5h8m-8 2h8m-7-1h8m-8-3h8m-8-11h8m-7 8h8m-8 4h8m-7 6h8m-8-1h8m-6-13h8m-4-2h8m-7 4h8m-7-4h8m-7 1h8m-7 12h8m-7-11h8m-7 13h8m-6-3h8m-7-12h8m-7 13h8m-7-9h8m-7-4h8m-8 12h8m-8-13h8m-7 17h8m-7-9h8m-7-8h8m-7 0h8m-7 1h8m-6 3h8m-6 0h8m-7-4h8m-8 12h8m-42 11h8m-7 8h8m-4-5h8m-4 0h8m-6-6h8m-8 4h8m-5 2h8m-6-5h8m-5 3h8m-6 2h8m-6 5h8m-7-10h8m-54 186h8m-7 0h8m-6 9h8m-6-3h8m-7-2h8m-7-1h8m-6 0h8m-3 2h8m-6 3h8m-7 3h8m-6-7h8m-8-4h8m-6 6h8m-4-5h8m-7 6h8m4 0h8m-8-4h8m-3-2h8m-8 2h8m-2 1h8m-7 1h8m-1-1h8m-7-1h8m-8-1h8m-85 20h8m-5 0h8m-5-2h8m-8 7h8m-7 4h8m-5-4h8m-8 3h8m-5 1h8m-7-7h8m-8 4h8m-6-5h8m-8 1h8m-8 6h8m-8-6h8m-7 4h8m-7-3h8m-7-9h8m5-4h8m-5 3h8m-5-1h8m-4 3h8m-6 0h8m-7-1h8m5 1h8m-1-3h8m-6 3h8m-7-1h8m-7-3h8m-6-1h8m-7 2h8m-3 7h8m-5 0h8m-6 0h8m-7 8h8m-8 2h8m-5-10h8m-8 2h8m-8 8h8m-8-2h8m-5-6h8m-5 6h8m-7 0h8m-6-6h8m-8 1h8m-104 23h8m-7-12h8m-7 7h8m-8-5h8m-7 13h8m-8 0h8m-8-16h8m-8-1h8m-3 16h8m-7 2h8m-7-10h8m-7 1h8m-8-2h8m-5-5h8m-8-1h8m-6 2h8m-6 1h8m55-2h8m-7 3h8m-3-4h8m-5 2h8m-6-2h8m-5 3h8m-100 26h8m-4-5h8m-6-5h8m-7 8h8m-7 6h8m-8 3h8m-8-17h8m-6 17h8m-7 0h8m-8-2h8m-5-7h8m-21 26h8m-7 2h8m-6-2h8m-8 0h8m-7 4h8m-7-1h8m-8-17h8m-5 6h8m-6 8h8m-7-10h8m-8 4h8m-7-8h8m-7 15h8m-8-9h8m-25 27h8m-6-2h8m-8-8h8m-6 0h8m-5 1h8m-5 6h8m-7-11h8m-7 0h8m-7 2h8m-6 2h8m-8 9h8m-7-1h8m-8-12h8m-7 0h8m-6 5h8m-23 16h8m-1 0h8m-5-1h8m-4 3h8m-6 7h8m-7 3h8m-6 3h8m-7 2h8m-7-8h8m-5 9h8m-8-15h8m-8 14h8m-7-12h8m-5 7h8m-8-6h8m-6 1h8m-7 7h8m-7-10h8m-2 0h8m-6 5h8m-8-3h8m-6-1h8m-5 7h8m-8 2h8m-6-6h8m-7-5h8m-6 9h8m-5-7h8m-7 3h8m-8 0h8m13 1h8m-8 8h8m-7-8h8m-7 8h8m-7-13h8m-7 14h8m-8-4h8m-7-4h8m-7-2h8m-8 3h8m-8 5h8m-6-7h8m-8 6h8m-7-7h8m-8 6h8m-6-2h8m-2 5h8m-8-8h8m-7-1h8m-8 6h8m-8-8h8m-84 14h8m-2 2h8m-7-3h8m-7 0h8m-5 3h8m10-3h8m-5 3h8m17-2h8m-3 1h8m-7-1h8m-6 2h8" stroke="rgb(71, 149, 146)" stroke-width="8" stroke-opacity="0.65" fill="none"/>
<path transform="translate(156.6 317.3) scale(.1)" d="M624 452h8m1 2h8m-5-7h8m-7 3h8m-7 4h8m-7-2h8m-5 3h8m-6-5h8m-3 8h8m-7-4h8m-8-3h8m-5-1h8m-8-2h8m-8 9h8m-7-8h8m-8-1h8m-7 7h8m-5-4h8m-7 8h8m-6-12h8m-7 1h8m-6 7h8m-5 1h8m-7-5h8m-8-4h8m-5 8h8m-7-3h8m-8 7h8m-8-2h8m-5-1h8m-5-7h8m-8-1h8m-6-1h8m-7 11h8m-65 7h8m-8-3h8m-7 6h8m-6 11h8m-7-19h8m-7 4h8m-8-3h8m-7 1h8m-6 11h8m-8-5h8m-8 10h8m-7-4h8m-7 1h8m-2-2h8m-7 0h8m-5-13h8m-6 5h8m-7-3h8m-8-2h8m2 2h8m-4 1h8m-2 3h8m-8-3h8m-1-3h8m-7 4h8m-6-2h8m-6 3h8m-8 0h8m-7-1h8m-6 9h8m-5 4h8m-6-7h8m-8 0h8m-7 9h8m-6-1h8m-6-5h8m-7-6h8m-7 0h8m-8 12h8m-8-12h8m-7 8h8m-8 3h8m-7-8h8m-5 7h8m-78 16h8m-8 6h8m-4-13h8m-8 6h8m-7 6h8m-8-8h8m-5 6h8m-5-3h8m-7-6h8m-8 9h8m-7-5h8m-8-1h8m32 9h8m-7-12h8m-8 10h8m-8 2h8m-7-19h8m-8 13h8m-6-10h8m-8 4h8m-6 11h8m-8 0h8m-5-6h8m-7 6h8m-8-3h8m-7-6h8m-8-3h8m-7-2h8m-6 3h8m-8-6h8m-7 9h8m-7 1h8m-8-7h8m-8-1h8m-7 8h8m-8 5h8m-83 4h8m-7 1h8m-8 7h8m-8-8h8m-7 3h8m-5 7h8m-6-5h8m-7 8h8m-7 1h8m-6-7h8m-7-2h8m-8 1h8m-8 6h8m-7 3h8m-7 4h8m-8-14h8m-8 8h8m-6-5h8m-7-2h8m-8-3h8m-7 16h8m-7-16h8m31 0h8m-6 16h8m-7-3h8m-7-1h8m-7-5h8m-7 2h8m-7-2h8m-6-4h8m-6-6h8m-8 17h8m-7 1h8m-8-18h8m-7 11h8m-7 0h8m-7-6h8m-7 4h8m-8-6h8m-7 1h8m-7 0h8m-84 25h8m-6 0h8m-8-9h8m-6 0h8m-7 11h8m-5 7h8m-8 0h8m-5-15h8m-7 13h8m-7-3h8m-8-1h8m-7-9h8m-7 9h8m-8-9h8m-7 1h8m-8 11h8m-8-7h8m-8 0h8m-6-1h8m-6 8h8m-3 1h8m-6-2h8m-8-3h8m-6 7h8m-8-4h8m-6-1h8m-8 0h8m-8-1h8m-6-6h8m-6 0h8m-6 13h8m-8-4h8m-6-11h8m-8 2h8m-7 6h8m-8 7h8m-6-12h8m-7 7h8m-4-6h8m-6-3h8m-8 9h8m-7 4h8m-8 1h8m-4-12h8m-8 7h8m-6-5h8m-8-4h8m-6 13h8m-6-9h8m-8-3h8m-8-5h8m-6 14h8m-8-1h8m-6-11h8m-8 2h8m-8-4h8m-8 17h8m-7-6h8m-7-3h8m-6 3h8m-8-1h8m-8 6h8m-6-17h8m-8 11h8m-8 7h8m-6-1h8m-6-2h8m-7-7h8m-8 1h8m-7-8h8m-84 19h8m-7 3h8m9-2h8m-8 2h8m6-3h8m-8 2h8m-3-2h8m-6 9h8m-8 5h8m-7-6h8m-6 9h8m-8-13h8m-8-3h8m-6 3h8m-6-4h8m-8 0h8m-7 7h8m-7 10h8m-7-16h8m-8 2h8m-8 15h8m-6-3h8m-8-14h8m-4-1h8m-7 1h8m-8 17h8m3-14h8m-7-2h8m-8-2h8m-7 1h8m-22 20h8" stroke="rgb(90, 159, 115)" stroke-width="8" stroke-opacity="0.70" fill="none"/>
<path transform="translate(156.6 317.3) scale(.1)" d="M643 474h8m-8 2h8m-7-9h8m-8 4h8m-8 8h8m-6-5h8m-7-3h8m-8-2h8m-7 6h8m-7 0h8m-7 1h8m-7-8h8m-8 5h8m-7-5h8m-7 7h8m-8-8h8m-7 9h8m-8-2h8m-6 0h8m-7 3h8m-8-8h8m-8 1h8m-7 2h8m-8-3h8m-6 5h8m-6 0h8m-7-4h8m-7 3h8m-7 2h8m-5 2h8m-8-8h8m-8 6h8m-5-6h8m-5 1h8m-7 5h8m-6-5h8m-6 6h8m-6 3h8m-46 2h8m-7 10h8m-8 5h8m-7 3h8m-7-18h8m-7 12h8m-7-9h8m-7-2h8m-8 17h8m-8 0h8m-7-14h8m-8 7h8m-8-11h8m-7 6h8m-5 12h8m-6-5h8m-8 1h8m-8-5h8m-7-2h8m-7-8h8m-8 5h8m-7 13h8m-8-10h8m-8 8h8m-7-8h8m-8-3h8m-7 1h8m-8 7h8m-7 2h8m-7-6h8m-7-6h8m-4 16h8m-8-8h8m-8 3h8m-7 0h8m-7-9h8m-8 12h8m-7-9h8m-6-2h8m-6-4h8m-8 14h8m-8-5h8m-7-4h8m-7-5h8m-8 7h8m-6-1h8m-7 7h8m-7-6h8m-46 14h8m-8 16h8m-7-9h8m-8-9h8m-5 12h8m-4-11h8m-7 2h8m-6-4h8m-7 9h8m-7 8h8m-8-15h8m-8 5h8m-7 10h8m-7-9h8m-7-8h8m-8 2h8m-8 13h8m-5 2h8m-8 1h8m-7-12h8m-6 3h8m-6 0h8m-8-6h8m-7 1h8m-7 4h8m-5-4h8m-8 0h8m-7 11h8m-7-1h8m-8 5h8m-8 0h8m-7-13h8m-7 9h8m-7 1h8m-7-15h8m-8 5h8m-6-3h8m-8 2h8m-8 14h8m-7-17h8m-46 19h8m-4 2h8m-8 1h8m-7-1h8m-7-1h8m-7 2h8m-7-2h8m-2 2h8m-5-3h8m-7 2h8m-4-3h8m-7 0h8m-6 4h8m0-1h8m-6 1h8m-7-1h8" stroke="rgb(133, 172, 84)" stroke-width="8" stroke-opacity="0.75" fill="none"/>
<path transform="translate(48.4 420.6) scale(.1)" d="M466 214h8m-8-9h8m75 10h8m54-6h8m-355 26h8m217-2h8m22 4h8m-5-8h8m9 6h8m21-12h8m-2 14h8m23 2h8m-387 6h8m17-3h8m1 13h8m3-3h8m21 2h8m85-1h8m21-6h8m-2-2h8m21 7h8m5 0h8m57-2h8m52 3h8m-6-3h8m-8-3h8m-2 6h8m12-11h8m-4 6h8m4-5h8m18 12h8m12-4h8m-498 17h8m10 10h8m4-3h8m14 1h8m-3 0h8m370-3h8m9 1h8m28 2h8m-21 18h8m-2-5h8m-489 28h8m-8-9h8m-42 30h8m13-8h8m1-5h8m480 9h8m37-2h8m-526 35h8m-7 2h8m472-4h8m-486 20h8m491 3h8m-4 9h8m-531 15h8m494-9h8m-3 8h8m-518 24h8m501-6h8m3 7h8m-522 23h8m-8-8h8m490-6h8m14-1h8m-34 22h8m-6 13h8m15 0h8m-529 17h8m-7-12h8m492-2h8m-7 12h8m-510 22h8m-7-9h8m488 13h8m21 18h8m-547 15h8m2-2h8m472 9h8m-491 23h8m3 10h8m-1 3h8m-27 11h8m37 8h8m1 1h8m-3-1h8m324 3h8m65-15h8m-8 7h8m18-9h8m14 2h8m12 0h8m-494 21h8m10 0h8m106 11h8m41-3h8m6 2h8m-3 4h8m118-15h8m22 1h8m0 6h8m-8 2h8m0-7h8m52-5h8m-418 20h8m15 14h8m4 1h8m90 2h8m3-1h8m-2-15h8m138 8h8m71 8h8" stroke="rgb(108, 150, 200)" stroke-width="8" stroke-opacity="0.45" fill="none"/>
<path transform="translate(48.4 420.6) scale(.1)" d="M287 258h8m57-17h8m12 15h8m-8 0h8m-4-1h8m0-6h8m-1-7h8m167 15h8m46 2h8m-398 18h8m-8-1h8m23-15h8m-7 6h8m-6-5h8m-1 14h8m14-6h8m0 2h8m-3-9h8m-6 8h8m208 1h8m-8 3h8m-7-10h8m-5-1h8m-1 0h8m-6-2h8m5 0h8m-5 9h8m-7-3h8m-4-4h8m-5-1h8m-3 12h8m-6-1h8m-5-6h8m-8 3h8m0-1h8m-7-1h8m-8 5h8m21-5h8m48 10h8m-454 20h8m-8-16h8m-5-3h8m-2 16h8m-7-6h8m2 4h8m6-14h8m351 16h8m-4-4h8m0 0h8m-3-5h8m-8 5h8m-5 0h8m-6 3h8m5-12h8m5 11h8m-445 8h8m4 7h8m407 0h8m-4 3h8m-3-12h8m-461 20h8m-4 7h8m451 9h8m-462 12h8m451-8h8m3 0h8m-487 57h8m454-9h8m-4 10h8m-2-11h8m-478 14h8m455 4h8m-478 31h8m2-15h8m451 0h8m-5 12h8m0-3h8m-487 25h8m-7-3h8m-2 7h8m-4-11h8m-8 9h8m448 0h8m-4-13h8m-466 25h8m-8-9h8m447 12h8m-2-12h8m-4 3h8m-8 10h8m-3 6h8m-494 17h8m0-11h8m-5 12h8m451 1h8m-1-15h8m-475 20h8m-1 10h8m-21 23h8m-6-3h8m-7-6h8m-2-1h8m449 7h8m-7 4h8m-7-4h8m-8-8h8m-5 5h8m-1 8h8m-489 14h8m-4-12h8m436 13h8m-4 3h8m-7 3h8m-7-5h8m10-11h8m-482 27h8m-2 1h8m-7-3h8m-2-2h8m428 13h8m-6-7h8m-5-10h8m-3 2h8m-4 0h8m-7 10h8m-473 7h8m-4 1h8m1 1h8m-8 0h8m-5-3h8m-7 3h8m-3 10h8m-7 2h8m8 3h8m11-4h8m288 1h8m2 1h8m9 3h8m19-5h8m6-1h8m-5 0h8m-6-1h8m-3 0h8m-2 3h8m-2-1h8m-4 0h8m-3-3h8m-1-5h8m-414 20h8m5 7h8m9-1h8m57 1h8m-4 5h8m13 1h8m13-6h8m0-1h8m21 5h8m10-5h8m9 2h8m12 4h8m14-4h8m13 2h8m15-5h8m-3-7h8m-4-2h8m14 0h8m-7 5h8m0-4h8m-8 2h8m-1 1h8m-6-6h8m-4 8h8m25-7h8m-384 22h8m29 3h8m-1-6h8m27 6h8m-3 4h8m2-9h8m28 7h8m-6-6h8m-1 3h8m3 1h8m-5-2h8m0 5h8m6 2h8m-8-3h8m27 1h8m5-9h8m10 3h8m-2-1h8m2-1h8m-1 4h8" stroke="rgb(96, 142, 192)" stroke-width="8" stroke-opacity="0.50" fill="none"/>
<path transform="translate(48.4 420.6) scale(.1)" d="M352 259h8m94-1h8m-2 0h8m-169 19h8m-3 0h8m3-5h8m-7 0h8m-4-5h8m-6 5h8m-8-3h8m-7 0h8m-5 5h8m0-3h8m-8-5h8m-1 5h8m-6-2h8m-2-2h8m-6 2h8m-6-2h8m-6-3h8m0 12h8m-7-11h8m-2 9h8m3 0h8m-7-8h8m-5 1h8m-8 5h8m-7-7h8m8 9h8m-5-14h8m6 12h8m-4 3h8m-4-3h8m-5-7h8m-4-2h8m-7 6h8m-4 2h8m-4-8h8m-6-1h8m-6 3h8m-3 8h8m-4 1h8m-7-2h8m-3-2h8m3-3h8m-5 2h8m-4 5h8m0-11h8m-2 13h8m-4-7h8m-5-9h8m-4 6h8m-5-2h8m21 13h8m5 1h8m1 1h8m-310 16h8m-3-8h8m-6-1h8m-7 10h8m-3-4h8m6-12h8m-7 15h8m-7-8h8m-6-2h8m-7 1h8m-8-6h8m3 7h8m-5-2h8m-5 8h8m-6-1h8m-4 3h8m210-10h8m-8 4h8m2 6h8m-6-2h8m-3-6h8m-7 6h8m-7 1h8m8 2h8m-7-3h8m4-9h8m-5-3h8m-8 2h8m-8 12h8m-3-8h8m-6 1h8m-6-6h8m-6 3h8m-5 2h8m-8 1h8m-6-6h8m-7-2h8m-7 6h8m29 11h8m-1 2h8m-422 17h8m1-14h8m-1 5h8m-8-7h8m-5 4h8m-4 8h8m-8-4h8m367-2h8m-5 0h8m-6 4h8m-1-8h8m6 16h8m-441 6h8m-8 4h8m-3-3h8m-1 14h8m-8-18h8m417 2h8m-2 4h8m-6 1h8m-7 3h8m-8 6h8m-446 21h8m-6 1h8m-6 0h8m407-2h8m-7-11h8m-7 8h8m-4-12h8m0-2h8m-6 2h8m-449 31h8m-2 0h8m-4-8h8m409-1h8m-7 6h8m-4-2h8m-446 22h8m-5-2h8m-2 1h8m-7 3h8m413 4h8m-8 3h8m0-10h8m-8 3h8m-6-9h8m-441 29h8m-7-6h8m-6 9h8m-7-1h8m-8-8h8m-7 1h8m-2 11h8m407-6h8m-8 5h8m-8-3h8m5-8h8m-447 19h8m-7 13h8m-3-14h8m-7-4h8m-6 8h8m407-3h8m-6 1h8m-5-4h8m-8 13h8m-5-7h8m-8-2h8m-7-5h8m-7 15h8m-5-16h8m-447 22h8m-7 8h8m-6-6h8m-6 3h8m-6 2h8m-4 5h8m412-7h8m-5 3h8m-3-3h8m-7 11h8m-6-17h8m-451 24h8m-8 1h8m-6 7h8m-3-8h8m-7 4h8m-8 2h8m-6 2h8m408-1h8m-7-11h8m-7 7h8m-8 8h8m-4-6h8m-2-10h8m-6 6h8m-6 5h8m-6 8h8m-457 11h8m0 9h8m-8-5h8m-8-2h8m-1-12h8m-6 13h8m-8 4h8m409 1h8m-7-14h8m6-3h8m-457 19h8m-7 9h8m-1 0h8m-6 3h8m-5-12h8m410 5h8m0-3h8m-4-2h8m-19 30h8m-5-3h8m-7 0h8m-7-1h8m-1-1h8m-3-2h8m-7 4h8m-456 27h8m-8 0h8m-3 4h8m2-4h8m411-11h8m-444 23h8m-8-1h8m-4-3h8m-5 11h8m-5-9h8m-5 8h8m-6 2h8m-5-3h8m0 8h8m364 0h8m-7-5h8m-6 2h8m-2 2h8m-7-4h8m15 2h8m-418 15h8m-7 1h8m-6-7h8m-8 5h8m-4 0h8m-7-10h8m-7 6h8m7 12h8m-3-6h8m3 6h8m-3-5h8m-5 4h8m-6-5h8m-4 5h8m-5-2h8m1-2h8m-4 0h8m-6 3h8m-6-2h8m-3 5h8m3-4h8m-7-1h8m-5 0h8m-6 5h8m-5-2h8m-8-2h8m7 1h8m-4 2h8m-6-3h8m-2 2h8m-3-1h8m-4 0h8m73-3h8m-5 3h8m-3-1h8m-5 0h8m5 2h8m-6-5h8m-7 4h8m-6 1h8m16-3h8m3 1h8m1-1h8m-5 5h8m-4-3h8m3 1h8m-4-1h8m57-10h8m0 4h8m-6-3h8m-3-5h8m-5-1h8m-3 7h8m-5-3h8m-391 16h8m-6 4h8m0-5h8m8 2h8m-2 1h8m-8 8h8m-2-9h8m-7 6h8m21 1h8m-8-6h8m-2 0h8m-4-3h8m-4 3h8m-1 0h8m7 4h8m-5-4h8m105 1h8m3 0h8m6-3h8m-5 3h8m0-4h8m-8 5h8m0-2h8m-7 8h8m-7-2h8m-8-3h8m-6-3h8m-2 3h8m-4 3h8m-6-2h8" stroke="rgb(84, 135, 183)" stroke-width="8" stroke-opacity="0.55" fill="none"/>
<path transform="translate(48.4 420.6) scale(.1)" d="M320 276h8m0 2h8m15-1h8m19 1h8m2 1h8m-6 0h8m0 0h8m-4-1h8m-3-2h8m13 1h8m11 0h8m0 0h8m-2 0h8m24 1h8m-6 0h8m10 1h8m6-2h8m-259 22h8m2-2h8m-1 0h8m13-1h8m-8-11h8m-5 4h8m-8-6h8m-6 3h8m0-5h8m-6 4h8m-8-2h8m0 12h8m-5-8h8m-6 6h8m-7-2h8m-7-1h8m-7-9h8m-7 14h8m-2-11h8m-6-1h8m-8-3h8m-4 13h8m-3-7h8m-6-1h8m-8 7h8m-6-2h8m5-10h8m-8 3h8m-7 3h8m-7-6h8m-4 5h8m-8 3h8m-7-3h8m-3 5h8m-8-2h8m-2-2h8m-7 3h8m-6-9h8m-6 13h8m-6-12h8m-5 10h8m-7 3h8m-2-14h8m-5 12h8m-5 1h8m-7-6h8m-6 1h8m-7-3h8m-6-5h8m-6 3h8m-8 10h8m-7-10h8m-1-2h8m-7 10h8m2 4h8m-7-12h8m-7 4h8m-8-4h8m-5 8h8m-6-4h8m-5-6h8m-8 9h8m-8 6h8m-7-13h8m-4 11h8m-5-13h8m-8 6h8m-8-3h8m-7 12h8m2-2h8m-7 0h8m-8-5h8m-3 0h8m-8-6h8m-7-2h8m-6 9h8m-8 3h8m-4-12h8m-6 6h8m-7-3h8m-8 8h8m-7-5h8m-1 8h8m-4 1h8m-6-14h8m-8-1h8m1 6h8m-8-1h8m-7 0h8m-5 7h8m-6-1h8m-8 3h8m-6 1h8m-2 1h8m-6 1h8m14 0h8m0 1h8m3-3h8m8 3h8m13 0h8m-375 18h8m5-16h8m-8 14h8m-3-6h8m-5-1h8m-7 6h8m-8-5h8m-8-7h8m-6 4h8m-1-6h8m-1 13h8m-7 0h8m-4 1h8m-7-11h8m-8 1h8m-6-2h8m-4 9h8m-6-10h8m-8 12h8m-5-13h8m-8 8h8m-5 2h8m-5-4h8m-2 7h8m-6-9h8m215-4h8m-8 8h8m-7 4h8m-5-5h8m-4 0h8m-7-7h8m0 12h8m-6 1h8m-5-13h8m-3 10h8m-7-5h8m-7 6h8m-6-11h8m-1 8h8m-8 5h8m0-3h8m-8-4h8m-4 7h8m-6-6h8m-5 8h8m-7-12h8m-5 0h8m-5 9h8m1-7h8m-4 5h8m-5-3h8m-8-1h8m-4 2h8m-8-6h8m-8 2h8m-5-4h8m-1 8h8m-2 11h8m-7-3h8m-7 3h8m-7 0h8m2-3h8m-414 9h8m-6 10h8m-8-9h8m-6 10h8m-7-2h8m-6-9h8m-8 13h8m-7-14h8m-8 11h8m-8-1h8m-7 3h8m-7-9h8m-5-5h8m367-3h8m-2 0h8m-5 7h8m-6 10h8m-8-3h8m-5-7h8m-414 26h8m-7 1h8m-7-6h8m-8 11h8m-8-3h8m-6-1h8m-8-13h8m-6 8h8m-7-8h8m-8 2h8m-5 8h8m-7-6h8m-7-4h8m-7 3h8m-8 2h8m-8-4h8m-7 4h8m-7 1h8m-8 8h8m-7 1h8m370-16h8m-8 14h8m-6-2h8m-7 2h8m-4-7h8m-8-2h8m-4-4h8m-8 6h8m-5-2h8m-415 22h8m-6-7h8m-6 12h8m1-9h8m-6-3h8m-5 8h8m67 10h8m290-1h8m-4 1h8m-401 15h8m-8-11h8m-7 11h8m-6 1h8m-8 2h8m-6-2h8m-7-15h8m-7 1h8m-8 5h8m-5 13h8m-5-4h8m-7-4h8m58-6h8m-2 9h8m-6-11h8m-5 0h8m-5 8h8m288 4h8m-5 2h8m-3 0h8m-8-5h8m-7 4h8m-3-13h8m-6 4h8m-8-1h8m-418 23h8m-7 10h8m-4-14h8m0-2h8m-6 9h8m-7 4h8m-5-15h8m99 14h8m-5 2h8m258-1h8m-7-7h8m-6-5h8m-8-3h8m-8 14h8m-3 1h8m-5 3h8m-6-11h8m-416 20h8m0 1h8m-8 8h8m-7-6h8m-7-4h8m-4 1h8m-8 9h8m-8 1h8m-7-9h8m37 6h8m-2-1h8m1 5h8m-7-5h8m-8 3h8m-1 1h8m9 0h8m-1-2h8m6 2h8m-7-1h8m-7-6h8m-7 7h8m-2-14h8m-2 10h8m-8 0h8m-8-1h8m-2 5h8m0-2h8m-7-2h8m-1 2h8m0-1h8m-1 0h8m212-1h8m-6-4h8m-8 1h8m-7 5h8m-6-8h8m-1 10h8m-5-17h8m-6 17h8m-6-11h8m-416 18h8m-8-3h8m-7 14h8m-7-9h8m-8 3h8m-6 1h8m-8 4h8m-7-11h8m-7 12h8m-8 3h8m-7-6h8m-7-7h8m-5 8h8m-8 0h8m-5-3h8m-7-3h8m9 7h8m0 0h8m-2 3h8m2-8h8m-8 1h8m-7-2h8m-3-1h8m3 0h8m-4-3h8m-6 11h8m-7-4h8m-3 5h8m-3-3h8m-7-10h8m-8 14h8m-8-5h8m-4 4h8m-5-11h8m-8 11h8m-7-10h8m-4 11h8m-6-3h8m-7 3h8m7-4h8m-4-7h8m-6 2h8m-5 5h8m-5-10h8m-5-3h8m-7 7h8m-4-5h8m-8 1h8m-7 14h8m-4-16h8m-7 11h8m-8 2h8m-7 1h8m-3-6h8m-6-8h8m-7 12h8m-3-6h8m-7-8h8m-1 5h8m1 10h8m-1 4h8m4-2h8m41-2h8m136-13h8m-7 14h8m-8-1h8m-7-11h8m-8 1h8m-4-5h8m-4 15h8m-8 2h8m-7-17h8m-7 19h8m-6-18h8m-8 0h8m-5 10h8m-7-4h8m-418 18h8m-4-1h8m-4 5h8m-5 8h8m-5-1h8m-1-4h8m-7-3h8m-6 1h8m-6 8h8m-8-17h8m-6 17h8m-7-7h8m-6 6h8m-7-11h8m-4 12h8m-7-10h8m-3 3h8m6-2h8m-6-3h8m-8-3h8m-7 2h8m-6 8h8m-3-11h8m-1 3h8m4 3h8m-7-4h8m-3 4h8m-4 3h8m-4 0h8m-6-10h8m-5 5h8m-8-2h8m-8 7h8m-7-10h8m-5 12h8m-7-9h8m-5 1h8m-7 8h8m-4 0h8m-8 0h8m0-8h8m4-3h8m-1 8h8m-3-3h8m-3-5h8m-7 6h8m-3 3h8m-2-8h8m-6 8h8m-5-6h8m-2 0h8m-4 4h8m-7 1h8m-8-10h8m4 0h8m-4 9h8m-3-3h8m-6-3h8m-4 4h8m-7-3h8m-3 7h8m-8-7h8m-6 0h8m-2 12h8m-7-6h8m-4 6h8m-7 3h8m-5 0h8m-3-16h8m-6-2h8m-4 7h8m-5-8h8m-4 2h8m138 17h8m0-11h8m-5 7h8m-7-2h8m-7 2h8m-417 18h8m-8 0h8m-6-3h8m-5-5h8m-8 6h8m-7 6h8m-6-12h8m-4 11h8m-6 0h8m-8-7h8m-5-5h8m-8-2h8m0 2h8m-5 3h8m0-7h8m177 0h8m-7 3h8m-5-2h8m-8 6h8m-7-5h8m-7 7h8m-4-9h8m-5 0h8m-7 4h8m-2 7h8m-8-10h8m-7 1h8m142 3h8m-7 13h8m-6-14h8m-7-1h8m-8 9h8m-3-6h8m-7-3h8m-7 5h8m-4 4h8m-8 4h8m-422 19h8m-5 1h8m1-16h8m-8 5h8m2 3h8m-8-5h8m-7 3h8m367-6h8m-8 1h8m-8 2h8m-7 4h8m-8-4h8m-3-3h8m-6 15h8m-7 1h8m-7-3h8m-5 6h8m-3-2h8m-8-6h8m-437 17h8m-7 9h8m-1-10h8m-8 7h8m-7 5h8m-4-19h8m-6 5h8m-6 1h8m385-2h8m-7-4h8m-8 17h8m-7 1h8m-2-10h8m-5-5h8m-8 1h8m-7-1h8m-5 10h8m-8-13h8m-7 11h8m-6-7h8m-435 23h8m-6-1h8m-7-6h8m-8 1h8m-5 10h8m1-3h8m309 6h8m-7 3h8m-1 2h8m-7-5h8m-8-2h8m-3 7h8m0-2h8m-7-1h8m-7-2h8m-3-2h8m-6 3h8m40 3h8m-7-17h8m-3 18h8m-8-8h8m-7-1h8m-6-3h8m-5 6h8m-7 4h8m-6-9h8m-384 31h8m-8-1h8m-6-3h8m-5-2h8m-7 6h8m-1-4h8m-5 1h8m2 0h8m-8 1h8m-5 0h8m-7-1h8m-5-2h8m-1 3h8m-4 0h8m0 0h8m186 1h8m-1-2h8m-7-1h8m-5 1h8m-7 1h8m0 2h8m8-17h8m-7 11h8m-6-10h8m-6 15h8m-7-13h8m-7 2h8m-7-7h8m-1 14h8m-2-12h8m-3 1h8m-5 11h8m-8 3h8m-3 2h8m-7-6h8m-3 1h8m-7-2h8m6 2h8m-7 3h8m19-16h8m0 7h8m-385 17h8m-4 0h8m0 4h8m5 3h8m-4-10h8m-5-1h8m-5 10h8m-7-7h8m-4-3h8m-3 10h8m-8 0h8m-7-4h8m-1-3h8m-5 0h8m-2-4h8m42 15h8m-8-1h8m-4-1h8m1 1h8m-7 1h8m0 1h8m-6 0h8m-7 0h8m-6-1h8m3-3h8m-4 5h8m-2-1h8m-1-2h8m-4 3h8m-2-3h8m-3 2h8m-6-4h8m-6 7h8m-8-1h8m-7-2h8m54-6h8m-3-6h8m-5 1h8m-7-5h8m-8 6h8m-2 1h8m-6-4h8m-7-1h8m4 0h8m-7 9h8m-7 0h8m-7-11h8m-5 3h8m-7 3h8m-8 1h8m-7-2h8m0 3h8m-3-6h8m6 6h8m-1-7h8m-3 3h8m-4 3h8m-7-6h8m-5 10h8m-1-9h8m-230 18h8m0 4h8m5 0h8m-4-3h8m-4 4h8m1-2h8m4 8h8m-4-11h8m-3 4h8m-2 0h8" stroke="rgb(76, 142, 165)" stroke-width="8" stroke-opacity="0.60" fill="none"/>
<path transform="translate(48.4 420.6) scale(.1)" d="M319 296h8m-4 2h8m20 0h8m-4 1h8m0 0h8m-4-1h8m-3 1h8m5-1h8m-8-1h8m27-1h8m-6 2h8m1-1h8m1 1h8m-8-1h8m0 2h8m-5-2h8m-6 0h8m-4 1h8m-5-1h8m-1 0h8m4 2h8m1-3h8m10 3h8m-5 0h8m11-2h8m-280 19h8m0 1h8m-7-1h8m-3 2h8m35-1h8m-7-5h8m-7-8h8m-7 7h8m-7 5h8m-7-15h8m-6 9h8m-7-2h8m-6 1h8m-4 4h8m-8-3h8m-6 1h8m-7 1h8m-8-3h8m-1 7h8m-7 3h8m-8-16h8m-4 14h8m-7-7h8m-8-6h8m-2 9h8m-7-1h8m-6-7h8m-8 3h8m-8-4h8m-7 4h8m-7 2h8m-3 2h8m-8-2h8m-5-5h8m-7 4h8m-6 9h8m-5-11h8m-8-6h8m-7 8h8m-8 10h8m-3-1h8m-7 1h8m-6-8h8m-8 7h8m-4-16h8m-5 8h8m-7-9h8m-8 13h8m-6-4h8m-7-1h8m-7 4h8m-8 2h8m-6-13h8m-7 8h8m-8-1h8m-8-1h8m-7-2h8m-6 0h8m-6-5h8m-8 10h8m-7-1h8m-6-7h8m-2 16h8m-6-7h8m-6 2h8m-7 2h8m-6 1h8m-5-3h8m-4-1h8m-7 5h8m-5-15h8m-8 14h8m-5-5h8m-6 3h8m-8-2h8m-7-13h8m-8 16h8m-5-10h8m-8 8h8m-8-9h8m-2 11h8m-8-16h8m-3 14h8m-4-4h8m-7-2h8m-2-4h8m-6-1h8m-8-1h8m-6 13h8m-5-10h8m-2 5h8m-6 1h8m-7-4h8m-5-7h8m-7 2h8m-6-2h8m-7 11h8m-6 1h8m-8-9h8m-3 2h8m-8 6h8m-8-11h8m-7 4h8m-5-4h8m-3 6h8m-8-3h8m-5 7h8m-6-2h8m-8 3h8m-5-10h8m-7 14h8m-5-6h8m-6-7h8m-6 1h8m-6 16h8m-6-6h8m-6 6h8m-7-1h8m-6-13h8m-7-2h8m-3 0h8m-5 9h8m-4 4h8m1 2h8m-1-1h8m-7 1h8m-1-1h8m9 2h8m-4-2h8m-5 0h8m-6 2h8m-2-1h8m2 1h8m-2-3h8m4 3h8m-3-2h8m-5 1h8m-375 21h8m-8-10h8m-6 1h8m-6-2h8m-4-2h8m-7 9h8m-4 2h8m-7-6h8m-7-10h8m-7 9h8m-7 8h8m-7-13h8m-7-3h8m-7-2h8m-8 7h8m-7-3h8m-7 12h8m-8 3h8m-7-10h8m-6 7h8m-5-13h8m-8 0h8m-5 1h8m-6 3h8m-7-1h8m-6 10h8m-6-16h8m-7 1h8m-3 2h8m-6 0h8m-7 4h8m-7 4h8m-4 4h8m-8-14h8m-6 10h8m-7-10h8m-7 8h8m-6 7h8m-6 3h8m-4-16h8m-7 13h8m-6-12h8m-7-2h8m-8 2h8m-6 13h8m-5-13h8m-7 0h8m-7 10h8m-7-4h8m-6-8h8m-6 1h8m-7 7h8m-5 1h8m-7-10h8m-7 17h8m-7-4h8m-7 2h8m-7-9h8m-8-5h8m-8 13h8m-8 3h8m-1-6h8m-8-10h8m1 16h8m-8-13h8m-5 2h8m-7-2h8m-8-2h8m-6 6h8m-7-7h8m-6 8h8m-8 2h8m-7-10h8m-7 1h8m-8 6h8m-6-1h8m-7 5h8m-7-4h8m-3 0h8m-5 5h8m-5-2h8m-8-10h8m-1 11h8m-8-9h8m-6 12h8m-7-1h8m-8-14h8m-8 18h8m-8-1h8m-6-16h8m-7 13h8m-4 1h8m-6-16h8m-7 16h8m-7 2h8m-7-17h8m-6 14h8m-7-12h8m-6 8h8m-7-10h8m-7 8h8m-8-3h8m-7 7h8m-3-1h8m-8 0h8m-7-5h8m-6-1h8m-6-2h8m74 8h8m-7-8h8m-6 5h8m-7 3h8m-6-2h8m-7-6h8m-7 0h8m-7 6h8m-8-2h8m-6-8h8m-7 3h8m-6 12h8m-7-10h8m-5-5h8m-6 2h8m-8 0h8m-7 1h8m-3-3h8m-8 17h8m-7 2h8m-7-3h8m-8-4h8m-7 6h8m-1-5h8m-7 1h8m-8-4h8m-7 8h8m-6-15h8m-6 6h8m-7-6h8m-7 16h8m-8-4h8m-5-5h8m-7-7h8m-8 0h8m-7 13h8m-7-14h8m-6-1h8m-8 5h8m-8 6h8m-7 7h8m-7-17h8m-4 11h8m-6-12h8m-7 7h8m-7 11h8m-6-18h8m-8 4h8m-7 7h8m-7-10h8m-5 17h8m-8-2h8m-8-17h8m-7 12h8m-2-12h8m-6 9h8m-7-2h8m-8 12h8m-8-11h8m-6 7h8m-6-7h8m-7-1h8m-6-1h8m-6 6h8m-8 5h8m-8-13h8m-4-2h8m-7 10h8m-8-10h8m0 12h8m-7-13h8m-8 13h8m-4-14h8m-8 3h8m-8 12h8m-8 4h8m-5-14h8m0 0h8m-377 16h8m-7 3h8m-7-1h8m-7 9h8m-8-3h8m-4-6h8m-5 4h8m0-4h8m-7 6h8m-6 10h8m-8-12h8m-8 2h8m-4-9h8m-2 3h8m-8 14h8m-5-9h8m-8 11h8m-6-16h8m-3-2h8m-7 4h8m-8 11h8m-6-2h8m-7 1h8m-3-1h8m-6-14h8m-4 14h8m-7 3h8m-6-12h8m-6 7h8m-8-10h8m-8 13h8m-4-5h8m-6-6h8m-2-2h8m-7 16h8m-3-12h8m-2 2h8m-4 10h8m-7-3h8m-4 3h8m-7-12h8m-4 12h8m-7-15h8m-8 1h8m-8 11h8m-2-7h8m-8-2h8m-6 13h8m-7-19h8m-7 8h8m-8 8h8m-7-12h8m-8 1h8m-7 8h8m-7-8h8m-8-4h8m-8 18h8m-6-6h8m-8-6h8m-7-5h8m-6 3h8m-7 5h8m-7-8h8m-8 8h8m-1-8h8m-3-2h8m-7 7h8m-8-3h8m-7 10h8m-4-10h8m-7 1h8m-6 5h8m-8-4h8m-6-6h8m-5 14h8m-1-14h8m117 15h8m-7-8h8m-2 0h8m-5 1h8m-7 4h8m-6-9h8m-7 11h8m-7-11h8m4 0h8m-5 8h8m-5 3h8m-7-3h8m-4-8h8m-7 12h8m-6-2h8m-5-8h8m-5 13h8m-6-17h8m-8 11h8m-8 6h8m-6-16h8m-8 6h8m-8 11h8m-4-10h8m-7 4h8m-7-12h8m-5 3h8m-8-3h8m-6 7h8m-6-4h8m-7-1h8m-8 12h8m-3-7h8m-8 6h8m-7-7h8m-5-6h8m-7 8h8m-4-6h8m-6 0h8m-7 10h8m-7-8h8m-7 14h8m-8-11h8m-6-4h8m-4 12h8m-2 3h8m-2-4h8m-8 1h8m-6 1h8m-7-1h8m-8 0h8m-394 12h8m-6 6h8m-7-2h8m-2-6h8m-5 3h8m-7-9h8m-3 1h8m-8 15h8m-2-10h8m-6 3h8m-7-2h8m-6 3h8m-8 8h8m-1-15h8m-8 15h8m-7-3h8m-7-14h8m-7 4h8m-6-3h8m-7-1h8m-8 10h8m-2 8h8m-7-19h8m-7 12h8m-6 2h8m-8-11h8m-3-3h8m-7 14h8m-7-10h8m-6 1h8m-6-2h8m-5 2h8m-1 8h8m-7 0h8m-6-9h8m-8 8h8m-8-10h8m-4 11h8m-7-6h8m-6-5h8m-7 14h8m-7-5h8m-7-7h8m-8 4h8m-7 9h8m-7 2h8m-6-5h8m-7-6h8m-7 1h8m-5 10h8m-7-16h8m-6 1h8m-4 12h8m-6-7h8m-6 7h8m-7-15h8m-7-1h8m-7 19h8m-8-10h8m-8 10h8m-8-18h8m-7 4h8m-8 5h8m-8 1h8m-7-11h8m-8 3h8m-2-2h8m134 14h8m-2 2h8m-6 0h8m-1-11h8m-7-1h8m-5 5h8m-7-9h8m-7 3h8m-8 7h8m-3-6h8m-6-3h8m-5 2h8m-7 7h8m-7-9h8m-7 8h8m-7 7h8m-7-8h8m-7 0h8m-5-1h8m-7 6h8m-7-7h8m-7-7h8m-7 18h8m-8-16h8m-7 4h8m-8 9h8m-6-15h8m1 15h8m-7-4h8m-7-1h8m-5 2h8m-8-6h8m-8 2h8m-6-7h8m-6 13h8m-3-14h8m13 19h8m-7 0h8m-7 0h8m-7-12h8m-7 7h8m-7-9h8m-8 12h8m-5-1h8m-7-1h8m-3 1h8m-6-1h8m-7-4h8m-7 3h8m-8 3h8m-7-12h8m-7 8h8m-6 2h8m-7-12h8m-7 7h8m-8 3h8m-6-11h8m-7 11h8m-7 1h8m-5-7h8m-8 4h8m-8-9h8m-8 6h8m-8-5h8m-7 5h8m-6 1h8m-5-2h8m-4 1h8m-394 17h8m-8 1h8m-7-1h8m-8-4h8m-1 6h8m-7 8h8m-7 2h8m-5 1h8m-8-11h8m-6 4h8m-8 4h8m-7 1h8m-6 2h8m-7-13h8m-8 3h8m-6 8h8m-5-8h8m-3-8h8m-7 11h8m-8-8h8m-8 11h8m-8-5h8m-7-9h8m0 17h8m-8-5h8m-5-4h8m-5 0h8m-5-8h8m-8 1h8m-3 14h8m-1 3h8m-2 1h8m1-15h8m-8 12h8m-8 3h8m-6-2h8m0 2h8m-8-4h8m-8-13h8m-6 13h8m-5-6h8m-4-1h8m-8 2h8m-7 7h8m-5-11h8m-7 3h8m-4-5h8m-5 13h8m-6-9h8m-7 7h8m-7-8h8m-8 11h8m-8 1h8m-8-19h8m-3 16h8m-6 2h8m-1 1h8m104-4h8m-6 2h8m-6 2h8m-2-2h8m-5 2h8m-6-19h8m-8 19h8m-7-14h8m-2 4h8m-6 4h8m-7 5h8m-2-3h8m-8 2h8m-8-9h8m-6 1h8m-3 7h8m-5 2h8m0-2h8m-4 2h8m-8-3h8m-6-3h8m-8 6h8m-8-9h8m-8 9h8m-7-5h8m-6-10h8m-6 2h8m-8-4h8m-7 6h8m-6 10h8m-5-16h8m-5 9h8m-6-10h8m-8 6h8m-8 10h8m-6-10h8m-8 3h8m-7 2h8m-6-7h8m-7 6h8m-1-6h8m-5-1h8m-7 8h8m-7 3h8m-6-9h8m-4 1h8m-8 3h8m-8 0h8m-6 3h8m-7 3h8m-8-11h8m-7 3h8m-5-3h8m-7 13h8m-8-4h8m-4 1h8m-8 4h8m-3-5h8m-8-8h8m-7 2h8m-6 1h8m0 8h8m-8-10h8m-7 8h8m-6-12h8m-7-2h8m-8 9h8m-7 7h8m-7-9h8m-377 15h8m-8 4h8m-3-4h8m-8 6h8m-7 6h8m-8 4h8m-7-14h8m-8 3h8m-7 9h8m-7-13h8m-5 2h8m-6 6h8m-8 8h8m-6-3h8m-6-12h8m-6 7h8m-6 8h8m-8-18h8m-8 3h8m-7 15h8m-6-18h8m-6 3h8m-3-2h8m-8 14h8m-6-11h8m-7 1h8m-8 8h8m-4-1h8m-6-4h8m-8-8h8m-7 11h8m-7-7h8m-8 10h8m-6 1h8m-8 3h8m-7-9h8m-3 7h8m-7-5h8m-7 0h8m-5-7h8m-8 4h8m-6-7h8m-5 10h8m-7 5h8m-3-2h8m-8-3h8m-8 3h8m-6-3h8m-7-8h8m-4 13h8m-7-3h8m-4-13h8m-8 3h8m-2 0h8m-5 13h8m-6-4h8m-6-4h8m-8 8h8m-7-15h8m-4 7h8m-6-9h8m-5 3h8m-7-2h8m-7 7h8m-6 6h8m-7-14h8m-1 11h8m-2-7h8m-7-2h8m-7 5h8m-6-1h8m-6 3h8m-6-1h8m-7 9h8m-8-14h8m-8 15h8m-6-9h8m-8 8h8m-7-4h8m-8 1h8m-7-1h8m-5 2h8m1 0h8m0-1h8m-7 2h8m6 1h8m-8-3h8m-5 4h8m-7 1h8m54-12h8m-8 3h8m-6-6h8m-5 12h8m-4-7h8m-8 3h8m-5 7h8m-3-18h8m-5 10h8m-8 3h8m-6-9h8m-8-5h8m-5 12h8m-8-3h8m-1 1h8m-8 8h8m-7-10h8m-8-1h8m-1 2h8m-8-7h8m-8 17h8m-6-1h8m-8-8h8m-6 2h8m-5-2h8m-6-8h8m-4 17h8m-7-9h8m-4-8h8m-6 3h8m-6 8h8m-8-9h8m-6 11h8m-7-10h8m-7 5h8m-8-2h8m-4-1h8m-7 9h8m-7-12h8m-3 0h8m-8-3h8m-7 17h8m-5-16h8m-8 16h8m-6-2h8m-6 0h8m-7 2h8m-6-16h8m-6 14h8m-6-11h8m-7 12h8m-4-6h8m-6-10h8m-8 13h8m-8 5h8m-6-10h8m-8-5h8m-7 0h8m-8 12h8m-6-12h8m-8 11h8m-8 2h8m-7-10h8m-8 8h8m-3-13h8m-6 5h8m-3 10h8m-6-8h8m-8 6h8m-8-2h8m-7-11h8m-8 4h8m-7-3h8m-7-3h8m-5 16h8m-7-9h8m-8 6h8m-8-2h8m-7-10h8m-8 4h8m-7 7h8m-8-12h8m-6 1h8m-7 13h8m-8-10h8m-5 11h8m-7-11h8m-377 20h8m-8-4h8m-7 3h8m-7 12h8m-7-5h8m-8 1h8m-8 4h8m-6-13h8m-6 7h8m-3-7h8m-7 7h8m-8-1h8m-8 2h8m-7 1h8m-6-8h8m-6-3h8m-7 16h8m-7 1h8m-4-11h8m-5-4h8m-6 5h8m-3-2h8m-7 8h8m-7 3h8m-1-12h8m-7 0h8m-7 1h8m-8 3h8m-7 2h8m-2-7h8m0-3h8m-8 11h8m-8 2h8m-4-1h8m-7 0h8m-7-6h8m-8 3h8m-7-9h8m-5 6h8m-7-6h8m-8 11h8m-7-1h8m-7-4h8m-6 6h8m-4-3h8m-7 1h8m-7-6h8m-4 3h8m-7-2h8m-7-2h8m-8 7h8m-5 3h8m-7 0h8m-2 0h8m13-11h8m-8 2h8m-3 3h8m-3-3h8m-8 1h8m-7-2h8m8 11h8m-8-5h8m-7-9h8m-7 8h8m-7-5h8m-6 2h8m-7 0h8m-4 6h8m-8-9h8m-4 2h8m-8 14h8m-6-13h8m-8-1h8m-8-1h8m-4 0h8m-8 1h8m-3-1h8m-3 1h8m-2 14h8m-4-1h8m-1-1h8m-5-1h8m-6 2h8m-8 2h8m-2-2h8m-8-2h8m-5 3h8m-3 0h8m-4-4h8m-5 5h8m-3 0h8m-5-3h8m2-4h8m-7-8h8m-7 5h8m-6-3h8m-6 6h8m-7-5h8m-5 0h8m-8-3h8m-7 12h8m-6-3h8m-6-13h8m-7 8h8m-7 4h8m-6 2h8m-6-8h8m-5 7h8m-6 4h8m-5-12h8m-3-3h8m-8 13h8m-6-13h8m-6 5h8m-7-1h8m-6 4h8m-4 5h8m-6-15h8m-8 2h8m-8 14h8m-6 3h8m-5-13h8m-8 9h8m-8-14h8m-8 7h8m-4 8h8m-4-8h8m-6 6h8m-8-1h8m-4-7h8m-5 12h8m-5-9h8m-8 10h8m-7-1h8m-7-2h8m-3-8h8m-8-3h8m-6 5h8m-6 6h8m-7 0h8m-4-7h8m-6 1h8m-7 0h8m-7 2h8m-4-5h8m-8 10h8m-6-12h8m-5 12h8m-3-17h8m-8 6h8m-8 1h8m-6-6h8m-8 11h8m-6-1h8m-6 7h8m-5-17h8m-7 2h8m-6 9h8m-5-2h8m-8 1h8m-4-5h8m-7 4h8m-3-5h8m-6-2h8m-6 14h8m-378 7h8m7 3h8m-7-3h8m-8 8h8m-4 1h8m-8-8h8m-8-2h8m-4 9h8m-4-2h8m-7-9h8m-8-1h8m-8 9h8m-7 3h8m-5 1h8m-5-2h8m113-7h8m-7 6h8m-7 0h8m-5-4h8m-8 4h8m-3 3h8m-7-2h8m-7-7h8m-8 5h8m-7-1h8m-8-5h8m-8 2h8m-6 5h8m-5-2h8m-3-6h8m1-2h8m-7 3h8m-6 3h8m-7-1h8m-8 2h8m-7 3h8m0 1h8m-8-6h8m-3-1h8m-5 7h8m-8-9h8m-6 11h8m-7-5h8m-6 2h8m-8-8h8m-7-1h8m-2 3h8m-7 2h8m-3 1h8m0-6h8m-8 16h8m-7-14h8m-6 15h8m-6-10h8m-6 2h8m-6 6h8m-7-12h8m-5 6h8m-5-8h8m-7 11h8m-6-12h8m-1 3h8m-7 2h8m-7 3h8m-6 6h8m-7 2h8m-8 0h8m-7-10h8m-8-4h8m-8 12h8m-6-6h8m-6 5h8m-7-14h8m-8 0h8m-7 15h8m-8 2h8m-7-15h8m-6 7h8m-7-8h8m-5 0h8m-8-1h8m-4 5h8m-6-4h8m-7 11h8m3-6h8m-3-5h8m-7 2h8m1 10h8m0-7h8m-7-3h8m-6 1h8m-8 0h8m-7-2h8m-7 4h8m-8 6h8m-8-4h8m-7 3h8m-5 0h8m-8-2h8m-6-5h8m-2-3h8m-8 0h8m4 10h8m-7-9h8m-6 11h8m-5-6h8m-6-6h8m-5 16h8m-6-4h8m-5-10h8m-8 1h8m-7-4h8m-7 13h8m-7-5h8m-357 27h8m-3 2h8m-5 1h8m-1-4h8m3 0h8m-5 1h8m-3 4h8m-8-5h8m-4 0h8m-5 1h8m9 2h8m3-3h8m-7-1h8m-8 1h8m-6 5h8m-3-3h8m-8 1h8m-3 1h8m-3 0h8m-8-4h8m7 3h8m-5 0h8m-1-3h8m-1 5h8m-1-4h8m16 1h8m-5-1h8m-5 3h8m-8-4h8m-6 1h8m-4 2h8m45-2h8m-8 3h8m-7-3h8m-7-3h8m-6 6h8m-7-2h8m-4 3h8m-7-9h8m-8-2h8m-7-2h8m-3 1h8m-4 6h8m-7-11h8m-7 3h8m-5 3h8m-5-2h8m-7 3h8m-6-5h8m-8 9h8m-8-7h8m0-4h8m-6 10h8m-7-6h8m-6-2h8m0 3h8m-8-5h8m-8 2h8m-8-1h8m55 10h8m-8-13h8m-8 0h8m-6 2h8m-8 6h8m-7 9h8m-7-4h8m-7 4h8m-8-1h8m-5-15h8m-7 0h8m-8 14h8m-5-12h8m-7 16h8m-7-14h8m-7 7h8m-5-6h8m-8 7h8m-8-4h8m-375 28h8m-6-1h8m7-7h8m-5 0h8m-3 1h8m-8-1h8m-7-4h8m-7-5h8m-3 4h8m-7 7h8m-6-10h8m7 12h8m-8-7h8m-8-5h8m-6 9h8m-7 0h8m-6 3h8m-6-9h8m-7 1h8m-7 4h8m-6-5h8m-3 7h8m-7 0h8m-1-10h8m2 5h8m-3-2h8m-7 6h8m-5-8h8m-5 5h8m-8 5h8m-7-2h8m-6-5h8m-8 6h8m2-6h8m-1 5h8m-6-5h8m-8-4h8m-4 1h8m-5 10h8m-4-6h8m-3-1h8m-7-2h8m-4-3h8m-8 11h8m-6 0h8m-7-4h8m-4 2h8m-6-6h8m-1 3h8m-4-2h8m-7 1h8m-6-3h8m-7 1h8m-5-2h8m-4 12h8m-5-12h8m-8-1h8m-8 11h8m-7-5h8m-7 4h8m-6-6h8m-6 9h8m-6-1h8m-8-3h8m-1-6h8m-7 9h8m-1 7h8m-4-6h8m7 3h8m15-8h8m-7 0h8m-7-5h8m-5 3h8m67 13h8m1-4h8m3 3h8m-5 1h8m-8-5h8m-6 3h8m-1-5h8m-5-9h8m-8 3h8m-7 13h8m-7 0h8m-7-10h8m-5 6h8m-8 3h8m-7-13h8m-7 14h8m-7-2h8m-8-5h8m-7-9h8m-8 10h8m-8 6h8m-7-3h8m-5-13h8m-396 32h8m-6 1h8m2-2h8m-6 1h8m-3-9h8m-7-6h8m-8 6h8m-6 6h8m-5-1h8m-5-9h8m-6 3h8m-3-1h8m-7-1h8m175-3h8m-5 9h8m-3-7h8m-6 8h8m-6 0h8m-2-10h8m-6 11h8m-6-4h8m-7-7h8m-2 6h8m-6-6h8m-6 3h8m59 16h8m-7-2h8m-7-1h8m-4-2h8m-3 2h8m-6-13h8m-4-3h8m-3 16h8m-7-7h8m-6-2h8m-4-4h8m-8 8h8m-3-4h8m-8 5h8m-8-8h8m-7 1h8m-3 2h8m-8 4h8m-8 6h8m-6 2h8m-8-8h8m-5 7h8m-7-15h8m-6 3h8m-7 4h8m-3 0h8m-7 3h8m-7-8h8m-1-1h8m-4 14h8m-6-11h8m-396 20h8m-6 9h8m-6-8h8m-8-5h8m-6 5h8m-6 7h8m-4-4h8m-6-4h8m-7 0h8m-7 0h8m288-7h8m-5 17h8m-8-16h8m-7 2h8m-5 9h8m-8-3h8m-8 3h8m-5-10h8m-7 17h8m-6-12h8m-4 5h8m-5-1h8m-7 1h8m-8 3h8m-2-15h8m-7 10h8m-4 2h8m-4 3h8m-6-1h8m-8-4h8m-5 1h8m-8-1h8m0 0h8m-6-4h8m-6 1h8m-8 10h8m-6-1h8m-6-1h8m-6-11h8m-8 8h8m-7 5h8m-8-5h8m-7 1h8m-5 4h8m-7-4h8m-6 1h8m-4-14h8m-7 5h8m-8-3h8m-7 13h8m-7-9h8m-394 16h8m-8 2h8m-7 0h8m-6 12h8m-7-5h8m-8 4h8m-2-3h8m-8-10h8m-6 16h8m-7-2h8m-7-9h8m-7 0h8m-8 4h8m-7 8h8m-7-4h8m279 2h8m-2-3h8m-2-14h8m-8 8h8m-6 2h8m-6-4h8m-3 0h8m-5-1h8m-3 6h8m-8-5h8m-7-6h8m-4 7h8m-3-1h8m-4-5h8m-6 5h8m-6 1h8m-8 2h8m-7 3h8m-8-1h8m-7-10h8m-8 18h8m-2-7h8m-8-2h8m-8 1h8m-8 7h8m-6-13h8m-8 7h8m-7 0h8m-7-6h8m-8 11h8m-7-3h8m-8-11h8m-7 11h8m-8-14h8m-6 9h8m-7-9h8m-6 8h8m-6-8h8m-8 15h8m-5 3h8m-8-10h8m-4 9h8m-6-9h8m-5-1h8m-7 2h8m-8-2h8m-7-5h8m-7 14h8m-397 13h8m-8-3h8m-5-4h8m-2 3h8m-4 6h8m-3-9h8m73 14h8m-6 2h8m5 1h8m-6-6h8m-6-1h8m-3 0h8m-2 4h8m-7-1h8m61-1h8m-8-1h8m5 2h8m-4 4h8m1-6h8m-5 1h8m-7 5h8m-6-6h8m3 5h8m-7 0h8m-2-4h8m-4-2h8m-3 3h8m1 1h8m-2-2h8m14-4h8m-8-10h8m-7 4h8m-3 4h8m-8-4h8m-7 0h8m-4 6h8m-6-8h8m-6 2h8m35 4h8m-1 3h8m-6-9h8m-7 9h8m0-9h8m-7 5h8m-7-3h8m-8 4h8m-8 2h8m-7-9h8m-8 7h8m-6-6h8m-7 2h8m-2 2h8m-6 3h8m-6 1h8m-297 18h8m-8-4h8m8 1h8m-6-3h8m-8 1h8m-5 2h8m-7-2h8m-6 3h8m-5 3h8m-6 2h8m-4-2h8m-4-3h8m-8 0h8m-7 5h8m52-5h8m-7 4h8m-7-2h8m-6-5h8m-6-3h8m-8 4h8m-5-2h8m-6 4h8m-8-3h8m-5 2h8m-4 0h8m-6 6h8m1-10h8m-7 8h8m7-4h8m-4-3h8m-2 9h8m-6-4h8m-2 5h8m-7-8h8m-8-3h8m-6 10h8m-6-3h8m-8 2h8m-6-1h8m-8-3h8m-5 3h8m-7-7h8" stroke="rgb(71, 149, 146)" stroke-width="8" stroke-opacity="0.65" fill="none"/>
<path transform="translate(48.4 420.6) scale(.1)" d="M438 318h8m-8-1h8m1 0h8m10 0h8m0 2h8m-5-1h8m9 0h8m1 0h8m-3-1h8m-7 0h8m-103 20h8m-6 1h8m-1 1h8m-2-1h8m-4-4h8m-7-6h8m-7-2h8m-5 10h8m-8-3h8m-4-8h8m-8 13h8m-3-14h8m-6 7h8m-8-7h8m-4 9h8m-8 4h8m-8-11h8m-7-2h8m-6 7h8m-7-5h8m-7 11h8m-7-9h8m-5 3h8m-7-5h8m-6 8h8m-6-2h8m-6-9h8m-8 1h8m-7 12h8m-8-12h8m-6 2h8m-6 8h8m-6 4h8m-5 0h8m-7-3h8m-6 0h8m-5-2h8m-8 3h8m-8-3h8m-7 4h8m-7 0h8m-8-11h8m-6 4h8m-6 9h8m-6-11h8m-4-4h8m-7 11h8m-1 3h8m-6-11h8m-5 3h8m-2 7h8m-8 0h8m5-1h8m-154 21h8m-2 2h8m3 0h8m5 0h8m-5-19h8m-8 10h8m-7 8h8m-6-7h8m-6 4h8m-6-13h8m-7-1h8m-5 16h8m-8-6h8m-7-9h8m-3 17h8m-6-1h8m-8-14h8m-6 4h8m-7 0h8m-7-7h8m-6 16h8m-7 0h8m-6-15h8m-7 17h8m-8-14h8m-5-1h8m-4-2h8m-8 9h8m-7-6h8m-6 2h8m-7 1h8m-7-2h8m-7 2h8m-8-7h8m-8 13h8m-7 1h8m-7-15h8m-7 0h8m-8 15h8m-7-1h8m-4 4h8m-8-11h8m-6 2h8m-7 0h8m-6 10h8m-5-19h8m-8 4h8m-6 3h8m-5 7h8m-8-12h8m-8 16h8m-7-3h8m-8-13h8m-6 10h8m-8-5h8m-7 1h8m-7 9h8m-8-1h8m-5-4h8m-7-9h8m-8 4h8m-3 1h8m-8 5h8m-6-10h8m-8 7h8m-5-4h8m-7 11h8m-8-8h8m-8-3h8m-7-2h8m-8 9h8m-8 6h8m-7-6h8m-8-10h8m-7 11h8m-8-12h8m-6 8h8m-7-3h8m-7 4h8m-7 1h8m-5-11h8m-8 4h8m-6 8h8m-5-5h8m-6-1h8m-7 10h8m-6-17h8m-8 3h8m-7 0h8m-7 4h8m-7-1h8m-7 3h8m-5-7h8m-8 17h8m-7-1h8m55-2h8m-224 17h8m-8-13h8m-5 13h8m-8 6h8m-7-2h8m-8-5h8m-5 7h8m-2-17h8m-6 9h8m-8-6h8m-7 7h8m-8 4h8m-8-5h8m-7-9h8m-4 17h8m-7-16h8m-4 4h8m-4-6h8m-7 15h8m-7-15h8m-6 18h8m-5-1h8m-6-17h8m-7 15h8m-8-12h8m-7-2h8m-7 2h8m-7-2h8m-7 7h8m-8 6h8m-7 4h8m-6-12h8m-8 1h8m-7 8h8m-7 0h8m-6-8h8m-7 3h8m-8 2h8m-7 1h8m-5 5h8m-5-2h8m-6-4h8m-6-11h8m-7 4h8m-7 9h8m-8 0h8m-4-12h8m-4 6h8m-8-8h8m-8 12h8m-7-2h8m-7 3h8m-8 1h8m-8 1h8m-7-5h8m-6-5h8m-8 13h8m-4-17h8m-7 16h8m-7-3h8m-4-3h8m-4-3h8m-5 1h8m-8-9h8m-8 16h8m-7-7h8m-8-7h8m-7 7h8m-4-8h8m-7 6h8m-6 4h8m-8-9h8m-8 8h8m-7 3h8m-5-1h8m-8 4h8m-6-10h8m-6 6h8m-5-12h8m-7 8h8m-6-1h8m-8 9h8m-1-2h8m-7-14h8m-7 0h8m-7 5h8m-7 5h8m-8 0h8m-8-11h8m-6 19h8m-8-10h8m-7-1h8m-4-8h8m-6 1h8m-5 0h8m-8 13h8m-7-10h8m-7 6h8m-7 2h8m-7-7h8m2 12h8m5-1h8m38-13h8m-4 7h8m-7-3h8m-7 2h8m-5-1h8m-8-7h8m-2 4h8m-8 2h8m-8-6h8m-6-1h8m-8 5h8m-237 21h8m-7 4h8m-3 3h8m-8-4h8m-4-4h8m-8-4h8m-6 9h8m-5 1h8m-7-6h8m-4-4h8m-7 2h8m-7 11h8m-7 1h8m-8-7h8m-6 10h8m-8-17h8m-7 16h8m-7-9h8m-6 7h8m-5-9h8m-6-2h8m-5-4h8m-6 3h8m-7 10h8m-7 1h8m-7-14h8m-7 8h8m-7-8h8m-8 7h8m-5 11h8m-7-2h8m-5-9h8m-7 4h8m-7-2h8m-3-8h8m-5 14h8m-8-6h8m-5-6h8m-6 13h8m-7-10h8m-6-1h8m-6-1h8m-7 3h8m-6 7h8m-6-4h8m-8 2h8m-7 1h8m-5 6h8m-8-18h8m-8 7h8m-6-6h8m-7 13h8m-7-7h8m-5-8h8m-6 2h8m-7 1h8m-8 8h8m-7 3h8m-7-13h8m-8-1h8m-5 15h8m-7 2h8m-4-14h8m-7 13h8m-8 2h8m-6-3h8m-6 4h8m-7-8h8m0 1h8m-6 1h8m-4-12h8m-7 8h8m-7-9h8m-8 2h8m-6-2h8m-6 3h8m-7 9h8m-8 1h8m-6-5h8m-7 3h8m16-11h8m-8 14h8m-7-6h8m-6 3h8m0-5h8m-8-5h8m-8 10h8m-7-9h8m-7-1h8m-6 12h8m-8-7h8m-7 5h8m-6-7h8m-8 0h8m-7 0h8m-162 29h8m-4-12h8m-3 12h8m-5 1h8m-7-9h8m-8-3h8m-5 5h8m-8-3h8m-4-2h8m-7 2h8m-6 1h8m-8 1h8m-7 2h8m-7-7h8m0 3h8m-6 7h8m-7-3h8m-5-7h8m-6 10h8m-6 2h8m-8-10h8m-4 3h8m-8 13h8m-7-9h8m-8 2h8m-8 0h8m-6 3h8m-8-10h8m-8-4h8m-7 8h8m-8 8h8m-6 1h8m-4-1h8m-8-3h8m-7-13h8m-6-1h8m-8 11h8m-8 2h8m-5-10h8m-7 12h8m-8-13h8m-6 16h8m-7-6h8m-8 5h8m-6-3h8m-7 3h8m-7-6h8m-7-2h8m-6-3h8m-8-3h8m-7-3h8m-6 9h8m-5 6h8m-7-9h8m-6 12h8m-6-7h8m-7-11h8m-5 0h8m-7 0h8m-8 3h8m-5 0h8m-7 8h8m-8-4h8m-58 23h8m-7-5h8m-5 5h8m-8-1h8m-5-6h8m-6 6h8m-6-7h8m-7 5h8m-8-6h8m-7 9h8m-4 3h8m-7-12h8m-5 6h8m-1-7h8m-7 3h8m-5 5h8m-7-3h8m-8-2h8m-6-1h8m-7 9h8m-4-10h8m-3 6h8m-7-5h8m-6 4h8m-7-4h8m-6 11h8m59 21h8m-4 1h8m-8 2h8m3-2h8m7 4h8m6-3h8m-2-2h8m-99 25h8m-4-3h8m-2 3h8m9-1h8m-7-2h8m-1 2h8m-7-18h8m-5 1h8m-8 9h8m-8-6h8m-6 12h8m-6 3h8m-8-11h8m-5 0h8m-8 6h8m-8-4h8m3-9h8m-6 4h8m-7-5h8m-8 13h8m-8-10h8m-7 4h8m-7-7h8m-8 12h8m-8 3h8m-6-9h8m-6 9h8m-8-14h8m-8 8h8m-6-5h8m-8 9h8m-7-5h8m-8 0h8m-7-8h8m-8 19h8m-6-17h8m-7 13h8m-7-10h8m-8 3h8m-7-2h8m-5 13h8m-6-18h8m-6 12h8m-7-10h8m-4 2h8m-7-3h8m-8 4h8m-7 8h8m-6 3h8m-8-4h8m-8 1h8m-8 4h8m-338 21h8m-4-1h8m3-3h8m2 3h8m-4-2h8m1 2h8m-7-1h8m0 0h8m-1 2h8m-7-4h8m-7-2h8m1 5h8m-5-4h8m-3 0h8m-7 2h8m-3 3h8m-6-2h8m-7 2h8m-7-6h8m-2 1h8m-6 3h8m-5 1h8m-8-4h8m8 2h8m-7-2h8m-6 2h8m-3 2h8m-4-3h8m-7 3h8m-6 0h8m-8-1h8m-4 0h8m-8-4h8m-4 2h8m-5-1h8m2 5h8m5-5h8m-7 3h8m3-2h8m35 3h8m6 0h8m-3 1h8m-7-11h8m-6-7h8m-8 7h8m-7 9h8m-6-14h8m-8-3h8m-7 7h8m-6 1h8m-6-4h8m-8 12h8m-5-11h8m-6-4h8m-6 0h8m-7 7h8m-6-5h8m-7 6h8m-7 7h8m-7-7h8m-7 5h8m-7 5h8m-8-11h8m-8-4h8m-6 2h8m-7-4h8m-5 6h8m-7 2h8m-8 6h8m-6-16h8m-7 12h8m-8-6h8m-4 5h8m-5-10h8m-7 16h8m-8-6h8m-7 7h8m-8-9h8m-7-1h8m-5-2h8m-8 9h8m-6-6h8m-8 2h8m-5-8h8m-7 7h8m4-4h8m-8 5h8m-6 1h8m-6-8h8m-4 8h8m-7-6h8m-7 4h8m-7-5h8m0 6h8m-6 1h8m-7-5h8m-4 0h8m-8-2h8m-6-3h8m-7 6h8m-7-3h8m-356 33h8m0-2h8m-7 2h8m-2-2h8m-4-4h8m-7-4h8m-8-5h8m-3-1h8m-8 1h8m-8 6h8m-5-2h8m-6-3h8m-8-1h8m-3-2h8m-8 15h8m-7-14h8m-7 9h8m-7 8h8m-6-17h8m-7 8h8m-6 5h8m-8 4h8m-7-18h8m-7 16h8m-8-16h8m-8 2h8m-6 13h8m-7 3h8m-8-11h8m-7 9h8m-8-3h8m-7-6h8m-6 10h8m-8-18h8m-5 16h8m-8-7h8m-8 1h8m-7-7h8m-8 10h8m-6 0h8m-2 6h8m-7-14h8m-4 11h8m-7-10h8m-6 0h8m-8 11h8m-5-8h8m-6-5h8m-7-4h8m-8 17h8m-5 2h8m-6-10h8m-5-8h8m-6 8h8m-8-6h8m-7 14h8m-8 2h8m-6-7h8m-7-5h8m-5-5h8m-8 6h8m-7-6h8m-7 16h8m-7-14h8m-8-3h8m-8 2h8m-7 0h8m-7 7h8m-7 4h8m-7-7h8m-6 2h8m-7-1h8m-5-8h8m-4 19h8m-4-5h8m-5-7h8m-6 10h8m-6-15h8m-8 8h8m-8 9h8m-7-13h8m-8 8h8m-7 0h8m-8 2h8m-3-14h8m-8 5h8m-4 5h8m-8-2h8m-7-8h8m-6 10h8m-7 0h8m-6-6h8m-8 10h8m-4-11h8m-6-2h8m-7 0h8m-3 12h8m-7-1h8m-7-13h8m-7 3h8m-5 14h8m-7 1h8m-7-14h8m-8 2h8m-7 5h8m-8-1h8m-7 2h8m-7-13h8m-6 9h8m-6-5h8m-4 9h8m-7 5h8m-7-18h8m-8 9h8m-4 5h8m-7-4h8m-7 5h8m-5-12h8m-8 13h8m-7-7h8m-8 2h8m-6 0h8m-8 5h8m-7-1h8m-2 3h8m-8-3h8m-7 3h8m-7-2h8m-8 3h8m-7 0h8m-8-3h8m3-2h8m-7 0h8m-4-1h8m-7 6h8m-7 0h8m-3-4h8m-4 0h8m-8 2h8m-7-3h8m-3 2h8m-4-5h8m-5-9h8m-8 6h8m-8 5h8m-4 3h8m-6-11h8m-8 1h8m-8 10h8m-7-11h8m-8 1h8m-4 3h8m-8 7h8m-7 3h8m-6-17h8m-8 11h8m-8 1h8m-7 5h8m-6-17h8m-7 8h8m-6 1h8m-7-11h8m-8 11h8m-7-11h8m-8 15h8m-7 0h8m-8 4h8m-6-4h8m-8-5h8m-6-2h8m-7-2h8m-5 8h8m-7 1h8m-7 2h8m-7-9h8m-6 7h8m-8 0h8m-7-5h8m-7 3h8m-7-1h8m-7 6h8m-7-15h8m-8 9h8m-6 1h8m-6 2h8m-2-10h8m-7 3h8m-8 5h8m-7-12h8m-2 3h8m-8-4h8m-7 7h8m-6-7h8m-8 3h8m-7 0h8m-7 4h8m-8-3h8m-8 2h8m-6 1h8m-7-4h8m-6 0h8m-315 32h8m-7-4h8m-7-4h8m-7 11h8m-8-7h8m-6-4h8m-7 8h8m-6-5h8m-6 0h8m-7 3h8m-8-11h8m-5 13h8m-7-4h8m-7 5h8m18-14h8m-3-2h8m-6 11h8m-4-7h8m-6 4h8m-7-6h8m-7 9h8m-7-2h8m-8 4h8m-6-13h8m-6 15h8m-5-15h8m-7 19h8m-6-15h8m-6-1h8m-7 7h8m-7 6h8m-8-1h8m-6 2h8m-2-5h8m-7-6h8m-6 9h8m-6-6h8m-6 3h8m-8-5h8m-8 10h8m-6-15h8m-5-1h8m-8 17h8m-7-7h8m-4-11h8m-8 16h8m-1-7h8m-8 0h8m-8 1h8m-7-10h8m-7 7h8m-8-1h8m-6 5h8m-7-8h8m-4 7h8m1-3h8m-6 2h8m-6 0h8m-2 1h8m-8-3h8m-6-4h8m-8 5h8m-6 3h8m-5-4h8m-8 1h8m-5 0h8m-7 0h8m-6 4h8m-2 0h8m-7-11h8m-8 10h8m-6-11h8m2 12h8m-5-11h8m-8-1h8m-6 10h8m-7 1h8m-8-1h8m-5 2h8m-8-4h8m-7 1h8m-7-1h8m-8-6h8m-2 3h8m-7 5h8m-4-1h8m-8-3h8m-6 4h8m-7-9h8m-8 11h8m-7-11h8m-8 8h8m-6 2h8m-6 0h8m-8-10h8m-5-1h8m-5 6h8m-8-6h8m-5 5h8m-7-1h8m-7 1h8m-7-3h8m-7 8h8m-4 0h8m-3 2h8m-3-3h8m-5 4h8m-7-1h8m-6-9h8m-7 2h8m-5-4h8m-4 0h8m-6-1h8m-4 5h8m-7 6h8m-8-3h8m-5 1h8m-8-1h8m-5-2h8m-8-2h8m-5 1h8m-3 3h8m-8 10h8m-7-6h8m-8-10h8m-7 9h8m-6-1h8m-7-7h8m-8 13h8m-6-1h8m-6-10h8m-6-2h8m-6 0h8m-6-1h8m-6 3h8m-5 12h8m-7-5h8m-6 1h8m-7-1h8m-8 7h8m-6-5h8m-8 4h8m-5-14h8m-8-4h8m-7 7h8m-6-2h8m-7-4h8m-5 10h8m-301 10h8m-7 16h8m-8-10h8m-6-3h8m-7 4h8m-6 0h8m-3-8h8m-7 0h8m-7 5h8m-7-3h8m-7 14h8m-5-8h8m-7-4h8m-8 3h8m-6 11h8m-7-4h8m-4 0h8m0 5h8m-7-1h8m0-2h8m-8 1h8m-3 1h8m-6 0h8m-7-2h8m4 1h8m-5-3h8m-7-13h8m-8 13h8m-6-10h8m-8 3h8m-8 3h8m-7 9h8m-8-7h8m-7-10h8m-8 12h8m-7-3h8m-5-2h8m-6-1h8m-8-1h8m-7-6h8m-5-1h8m-6 5h8m-8 7h8m-7-3h8m-8 7h8m-4-9h8m-7-2h8m-6 7h8m-5 7h8m-8-11h8m-8 0h8m-5-8h8m-6 14h8m-1-1h8m-7 1h8m-5-1h8m-2 4h8m-8-1h8m-7-1h8m52-2h8m-5 3h8m-8 1h8m-3 0h8m-7-1h8m-4 1h8m-7 2h8m-5-1h8m-7-3h8m-5 3h8m-6-3h8m-7 0h8m-6-2h8m-6 6h8m-3-5h8m-1 5h8m-2-5h8m-7 5h8m-8-7h8m-6 1h8m-7 3h8m-7-3h8m-3 2h8m-1-1h8m-3 1h8m-6 2h8m-2 0h8m-8-1h8m-8-2h8m-7 5h8m-8-3h8m-6-15h8m-6 0h8m-6 0h8m-6 6h8m-7 12h8m-6-1h8m-5-5h8m-8-1h8m-8-6h8m-7 7h8m-6-2h8m-7-3h8m-7 3h8m-8 0h8m-8-1h8m-5-5h8m-7 3h8m-7 1h8m-6-9h8m-8 7h8m-5-5h8m-5 6h8m-5 2h8m-8-6h8m-296 27h8m-7-4h8m-4-4h8m-7-3h8m-7 3h8m-6 3h8m-5 0h8m-8 6h8m-8-6h8m-7 2h8m-6-7h8m-3 2h8m-8 2h8m-7 2h8m-7 4h8m-6-6h8m-5-2h8m-8 1h8m-7 6h8m-8 0h8m-7-3h8m-7-7h8m-7 8h8m-5-1h8m-6-3h8m-1-4h8m-8 0h8m-6 9h8m-2-9h8m-5 3h8m-6 7h8m-8-10h8m-5 7h8m-5-3h8m-7-4h8m-7 8h8m-8 0h8m-5 0h8m-5 1h8m-5 1h8m-8-4h8m-7-4h8m-7 8h8m-3-4h8m-7-4h8m-8 3h8m-7-5h8m-5 6h8m-3-4h8m-8 5h8m-2-2h8m-7-5h8m-6 4h8m-4 5h8m-7-7h8m-7 5h8m-4-7h8m-7 0h8m-7 6h8m-7-4h8m-8 7h8m-4-5h8m-8-4h8m-3 18h8m-2-5h8m-3 0h8m-6 2h8m-8 0h8m-5 0h8m-4 3h8m-5-5h8m-8 1h8m-6 3h8m-4 2h8m-6 0h8m-6-4h8m-7-1h8m-8 1h8m-4 1h8m-6-2h8m-3 4h8m-2-5h8m-5-11h8m-6 0h8m-1-2h8m-6 3h8m-7-2h8m-7 3h8m-4 3h8m-5-5h8m-8 9h8m-8-11h8m-8 12h8m-7-10h8m-3 6h8m-3-2h8m-4-3h8m-7 2h8m-6 5h8m-6-9h8m-7 6h8m-5-5h8m-6 6h8m-8-1h8m-6-6h8m-7 10h8m-8-5h8m-7 4h8m-5-8h8m-7 5h8m-3-7h8m-5 11h8m-6-6h8m-4 5h8m-8-9h8m0 11h8m-2-4h8m-7 0h8m-5 4h8m-7-3h8m0-5h8m-6 3h8m-8 1h8m-8 2h8m-163 19h8m-8-5h8m-6 4h8m-8 3h8m-3-3h8m-8 3h8m-7-5h8m-1 1h8m-6 4h8m-2-4h8m-6-2h8m-5 0h8m-6 2h8m-6-1h8m-6 1h8m-7 4h8m-3-11h8m-8 4h8m-8-1h8m-3-2h8m-3 5h8m-6 4h8m-8 0h8m-6 1h8m-6-8h8" stroke="rgb(90, 159, 115)" stroke-width="8" stroke-opacity="0.70" fill="none"/>
<path transform="translate(48.4 420.6) scale(.1)" d="M277 519h8m0-5h8m-18 17h8m-8 2h8m-7-6h8m-7 8h8m-8-13h8m-8 9h8m-6-5h8m-8 6h8m-7-3h8m-8-9h8m-6 8h8m-8 2h8m-7 3h8m-8 3h8m-8 0h8m-8 0h8m-7-1h8m-8-1h8m-7-8h8m-8 4h8m-6 9h8m-4-7h8m-7-12h8m-8 4h8m-8 4h8m-7 4h8m-7 5h8m-7 1h8m-1-5h8m-7 2h8m-7 3h8m-5 1h8m40-3h8m-2 1h8m-8-1h8m-6-1h8m-8 3h8m-4-4h8m-7 2h8m-8 3h8m-1-2h8m-6 2h8m-8-5h8m-8 4h8m7 1h8m1-6h8m-3 2h8m3 0h8m-7 2h8m-8-4h8m-4 4h8m-8-3h8m-5 5h8m-2-6h8m-5 5h8m-8-3h8m-6 0h8m-7-2h8m-5 6h8m-1-2h8m-8-3h8m-4 4h8m-4-2h8m-7-1h8m-2-2h8m-2 3h8m-4 1h8m-6 1h8m-3-1h8m-7 2h8m-3-6h8m-5 4h8m-6-2h8m-1 1h8m-5-3h8m-7 2h8m-2 1h8m-8 1h8m-6 0h8m-239 13h8m-8-6h8m-7 1h8m0 1h8m-7-4h8m-7 2h8m-6 0h8m-8 2h8m-8-3h8m-5 4h8m-7-6h8m-7 9h8m-8 2h8m-3-11h8m-3 9h8m-6-7h8m37-3h8m-5 0h8m-7 3h8m-6 9h8m-8-1h8m-8-5h8m-4-4h8m-5 7h8m-8-2h8m-7 5h8m-6-11h8m-6 3h8m-6 13h8m-4-4h8m-7-5h8m-8 7h8m-6-15h8m-7 0h8m-8 10h8m-8-1h8m-7 9h8m-8-2h8m-8-8h8m-7-7h8m-6 3h8m-8 12h8m-6-8h8m-6 7h8m-7-9h8m-8 7h8m-5 3h8m-6-10h8m-7 11h8m-7-14h8m-7 2h8m-8-2h8m-8 2h8m-5-2h8m-7 1h8m-7 14h8m-5-18h8m-8 17h8m-7-7h8m-5 1h8m-8-8h8m-7-3h8m-7 7h8m-7 10h8m-7-8h8m-5-6h8m-8 16h8m-7-14h8m-8 11h8m-8-7h8m-6-6h8m-7 14h8m-8-8h8m-7-6h8m-4 16h8m-6-15h8m-7 9h8m-7-13h8m-8 1h8m-3 11h8m-7-10h8m-5 5h8m-7-4h8m-5 0h8m-6-3h8m-8 8h8m-7-5h8m-7-1h8m-6 3h8m-6-2h8m-8 6h8m-3-8h8m-5 0h8m-8 2h8m-2 1h8m-2 0h8m-8 1h8m-7 7h8m6-10h8m-8 5h8m-7 1h8m-6 0h8m-8 0h8m-8-5h8m-7 5h8m-5-7h8m-8-1h8m-7 4h8m-8 4h8m-6 3h8m-2-10h8m-5 7h8m-7 2h8m-6 2h8m-137 16h8m-5-5h8m-8 8h8m-8-10h8m-6 8h8m-7-4h8m-7 4h8m-7-8h8m-7 3h8m-7 4h8m-5-7h8m-6 7h8m-6 3h8m-8-8h8m-7 4h8m-7-3h8m-8-1h8m-5 3h8m-4 3h8m-7-7h8m-3 2h8m-7 6h8m-6-2h8m-6-5h8m-8 2h8m-7 3h8m-3-1h8m-7-5h8m-8 3h8m-6-2h8m-4 8h8" stroke="rgb(133, 172, 84)" stroke-width="8" stroke-opacity="0.75" fill="none"/>
<path transform="translate(156.6 420.4) scale(.1)" d="M420 91h8m169 6h8m-220 20h8m61-11h8m28-2h8m-110 29h8m48 5h8m28 1h8m10-11h8m57 11h8m-1-2h8m-3-13h8m-1-3h8m25 5h8m-213 18h8m1 7h8m-4 4h8m6-9h8m-7 7h8m13-10h8m-7-1h8m8 4h8m-6-3h8m25 0h8m-3 6h8m-4-9h8m-1 12h8m-3 3h8m-2-8h8m-6-4h8m-5 9h8m26-9h8m18-2h8m-5 16h8m6-12h8m-4-1h8m21 8h8m-307 20h8m77 0h8m-8 0h8m5-4h8m-6-3h8m-5 2h8m14 9h8m-1 1h8m122 0h8m-4-5h8m-4-9h8m-1 14h8m-1 0h8m-4-4h8m-8 1h8m3-7h8m-7 3h8m7-6h8m-1-3h8m13 1h8m3 8h8m-497 21h8m60-8h8m105 4h8m-7 10h8m1-10h8m-7 8h8m-5 3h8m225-1h8m-6-16h8m-5 16h8m-7 0h8m9-13h8m10 12h8m-4 0h8m-402 8h8m39 0h8m32 4h8m0 6h8m16-8h8m267 8h8m18-5h8m-361 26h8m-8-15h8m3 4h8m-5 13h8m10-5h8m8 3h8m-7-6h8m258-5h8m4 15h8m-416 11h8m65-10h8m6 12h8m6-9h8m-153 26h8m6-9h8m19 2h8m9 8h8m14-8h8m-2 11h8m-5-4h8m22-9h8m-7 14h8m12-12h8m6 8h8m284-9h8m-2 13h8m-478 25h8m10-6h8m11-5h8m13 1h8m-1 5h8m-1-7h8m-1 0h8m-8-4h8m11 10h8m17-8h8m22-5h8m-8 3h8m294 0h8m2 2h8m19 12h8m-513 13h8m31-6h8m2 1h8m-7 7h8m5-11h8m425-1h8m-508 39h8m1-6h8m-7-5h8m11 0h8m0-7h8m-4-1h8m-7 17h8m455-7h8m0 7h8m-1-15h8m19 11h8m-528 26h8m3-6h8m-7-3h8m-6 4h8m-1-12h8m-8 4h8m-4 0h8m443-2h8m4 3h8m0 10h8m-8-9h8m-511 23h8m499-5h8m-1 9h8m-2-8h8m-528 19h8m-7 9h8m-102 22h8m31-17h8m4 5h8m20 8h8m5-10h8m-4 3h8m507 11h8m-533 17h8m7-5h8m481-3h8m-7 12h8m8-9h8m-536 21h8m-7-8h8m497 14h8m-545 14h8m17 5h8m10-4h8m2-10h8m475 14h8m-6-2h8m1-10h8m7 9h8m23-10h8m-549 31h8m-7-5h8m-6-4h8m478 5h8m-4 3h8m-7-8h8m-5 4h8m-1 11h8m-536 6h8m2-5h8m-8 15h8m5-7h8m-2-6h8m474 4h8m31 9h8m-581 19h8m17 2h8m8-13h8m1 7h8m474-3h8m-6-7h8m-4 7h8m-6-5h8m-6 8h8m-2 6h8m6-8h8m-3 0h8m-551 19h8m-6 2h8m37 7h8m441-2h8m15-5h8m5 8h8m-595 7h8m73 5h8m-3-7h8m-7-2h8m-2 11h8m-8-4h8m-2 7h8m439 2h8m-5-4h8m1-5h8m-489 19h8m-7-3h8m10-3h8m-7 6h8m-5 7h8m-2 2h8m6 3h8m-6-3h8m424-1h8m-3-10h8m-1 3h8m-4-3h8m32-4h8m-508 34h8m-4-14h8m16 16h8m43-1h8m7 3h8m4 1h8m10-2h8m4 2h8m-8-1h8m-7 1h8m13-5h8m-8-1h8m3 0h8m2-1h8m-2 4h8m-6 0h8m15 2h8m8-4h8m-1 3h8m4-3h8m110-1h8m3 0h8m2 2h8m32-3h8m3-1h8m-7-9h8m-521 31h8m65-5h8m-4-7h8m3 2h8m-8 12h8m-6-10h8m-8-5h8m-7 0h8m7 18h8m-6-13h8m-7 5h8m3 4h8m17-5h8m-2-7h8m6 0h8m-5 2h8m-3 9h8m3-11h8m-2 9h8m17-4h8m2-5h8m15 5h8m4 3h8m25-8h8m-7 13h8m0-14h8m27 17h8m50-1h8m7-17h8m-7 8h8m21 0h8m-1 9h8m-4-8h8m22 1h8m-6 2h8m-6-4h8m4-8h8m-1 8h8m33 6h8m-575 21h8m106-15h8m44 12h8m11-12h8m-6 4h8m6 9h8m32 6h8m-4-2h8m1-9h8m13 2h8m40-1h8m21 9h8m-7-3h8m6-2h8m11 4h8m12-17h8m-1 16h8m9-15h8m-4 17h8m33-3h8m22-9h8m-397 14h8m130 16h8m17-13h8m97 2h8m90 13h8m-362 12h8" stroke="rgb(108, 150, 200)" stroke-width="8" stroke-opacity="0.45" fill="none"/>
<path transform="translate(156.6 420.4) scale(.1)" d="M550 159h8m52 0h8m-124 20h8m17-2h8m-8-9h8m-4 10h8m-7-2h8m1-8h8m2 2h8m-5-7h8m-1 7h8m-8-5h8m2 12h8m-1 0h8m-7 2h8m-1-9h8m-7-5h8m-4 13h8m-8-5h8m-7 1h8m8-4h8m-3 3h8m-3-6h8m-199 30h8m0-12h8m-2 9h8m-4 4h8m-2-1h8m-5-15h8m-5 2h8m-7-4h8m-5 9h8m-6-2h8m-7-5h8m-5 9h8m-6 5h8m-7-8h8m-2 4h8m10-12h8m-3 1h8m-5 6h8m-8 3h8m-4-4h8m1 0h8m2 0h8m-6 0h8m-5 4h8m-4-3h8m-8 5h8m-7 1h8m-7 2h8m-8-9h8m-4 11h8m4-15h8m-7 12h8m-8-3h8m-6 4h8m5-12h8m-6 7h8m7 2h8m-5-2h8m-2 5h8m-8-3h8m-8-6h8m-7-4h8m-8 5h8m-5-2h8m-8 4h8m-3 0h8m-5-4h8m-5 10h8m-4-6h8m1-3h8m23 13h8m-231 7h8m0 2h8m-4 5h8m0-12h8m-8 13h8m-6-8h8m-7 6h8m-7-6h8m-4-1h8m-7-4h8m-8 12h8m-3-7h8m137 5h8m-8-9h8m9 3h8m-4 6h8m-3-6h8m-4-1h8m-5 11h8m-6-5h8m-3 4h8m-1-13h8m-3 6h8m-7 3h8m-240 19h8m-8-8h8m-2 7h8m-8 8h8m-5 2h8m-7-3h8m-7 3h8m-7-1h8m174-13h8m-7 3h8m-6 6h8m-7-13h8m-8 6h8m9-2h8m-7 11h8m-8-2h8m-6-8h8m-6 3h8m-7 5h8m-8 0h8m-7 2h8m-2-1h8m-3-10h8m-1 15h8m-7-6h8m-6-13h8m-3 12h8m-8-12h8m-6 18h8m-274 10h8m13-8h8m-3 12h8m-4-5h8m194-3h8m0 15h8m-6-14h8m-4 4h8m-8 3h8m-7 7h8m4-13h8m-5 12h8m-6-6h8m-8 5h8m-4-9h8m-283 29h8m-7-16h8m-4 4h8m-4 9h8m-4 5h8m-6-8h8m-8-6h8m-5 10h8m-2-13h8m-1 1h8m-6 0h8m-8 4h8m-4-1h8m193-2h8m-4 0h8m10 6h8m-8-10h8m0 9h8m-5-2h8m-370 29h8m13 2h8m-6-2h8m52-13h8m-7 15h8m-2-2h8m-6-13h8m-7 7h8m2 1h8m-7-3h8m235 6h8m-6 0h8m-8-1h8m-8 4h8m-4-4h8m-5-1h8m-2 5h8m-6 1h8m-419 20h8m25-3h8m-5-1h8m-2-14h8m4 9h8m1-1h8m-7 8h8m-5-1h8m-4-9h8m-5 6h8m-7 7h8m-7-2h8m-5-3h8m5 0h8m5-13h8m-6 6h8m-1-1h8m-8 8h8m0-13h8m-6-1h8m-7 10h8m-2-8h8m-8 17h8m-7-12h8m-7 4h8m6-9h8m-1 5h8m-8 0h8m-8-5h8m240 11h8m-2 3h8m-5-5h8m-3-5h8m-5 5h8m-7-1h8m-7-7h8m-7-2h8m-2 6h8m-4 9h8m-7 2h8m-440 10h8m-8 3h8m-2-11h8m-4 3h8m-3 2h8m-5 6h8m-8-9h8m-7 6h8m-8 11h8m-7-2h8m-7-13h8m-5-2h8m-6 0h8m-6 10h8m-3-3h8m2-2h8m-8 6h8m-5-1h8m-7 5h8m-6-11h8m0-1h8m-7 9h8m3 0h8m-6-7h8m-5 1h8m-2 1h8m-7 1h8m-6 4h8m-6-5h8m-7 1h8m-6 4h8m-5-8h8m-6-5h8m-8 10h8m5 0h8m3-10h8m-4 11h8m-6-2h8m-5 4h8m-4 1h8m-7-12h8m0 5h8m1-2h8m-6-5h8m-8 6h8m-7 4h8m-6 1h8m240-10h8m-7 16h8m-3-4h8m-7-11h8m-7 3h8m-3 8h8m0 0h8m-5 0h8m-436 12h8m-1 8h8m-7-2h8m10-2h8m-3-10h8m357 2h8m-5 0h8m-4 12h8m-8 0h8m-8-5h8m-8 0h8m-8-1h8m-1 6h8m-6 1h8m-6 3h8m-7-15h8m-6 0h8m-6-3h8m-6 9h8m-2-3h8m18 10h8m-465 6h8m-6 1h8m-1 4h8m-8 11h8m-3 0h8m-4-6h8m-8 1h8m-7-12h8m-6 14h8m-4-11h8m-4 3h8m0 1h8m-3 3h8m-8 2h8m-8 1h8m-7-6h8m349 10h8m-8-1h8m-5-17h8m-7 3h8m-5 5h8m-2-1h8m2 12h8m-6-5h8m-2-7h8m-5 12h8m-4-10h8m-6-1h8m1 2h8m-1 4h8m-474 9h8m-7 0h8m-2 14h8m-7 2h8m4-19h8m-1 11h8m-8-7h8m-6 5h8m-6 5h8m371 0h8m-4-7h8m6 4h8m-6-8h8m-5-3h8m-8 7h8m-6-6h8m-8 1h8m-7-1h8m-5 12h8m10-8h8m-8-3h8m-7 12h8m2-13h8m-472 25h8m-7-1h8m-8 3h8m-6-6h8m-8 2h8m7 10h8m-6-11h8m-6 9h8m-3 0h8m392 6h8m-6-18h8m-6 8h8m-6 2h8m-7-4h8m-6 2h8m-6-2h8m-6-1h8m0-5h8m-3 8h8m-5 5h8m-5-11h8m-7 9h8m-5 1h8m-473 17h8m-3 5h8m-6 0h8m418-3h8m-4-5h8m-8 12h8m-7-11h8m1 10h8m-8-4h8m-8-7h8m11 13h8m-480 1h8m-3 17h8m-7-4h8m433-5h8m-6 3h8m-8-9h8m-6 3h8m-5 11h8m-8-6h8m-6 3h8m-8 0h8m5 1h8m-5 1h8m-7-3h8m-8-6h8m-482 23h8m-8-1h8m4-6h8m-3 7h8m-8 4h8m-7 4h8m-7-4h8m-1 0h8m-7-3h8m0 4h8m2 1h8m0 1h8m-8 1h8m407 2h8m-4-18h8m-473 28h8m-4 10h8m-8-8h8m-6-11h8m-1 17h8m-7-13h8m2 11h8m-4-14h8m-7 0h8m-2 5h8m-8-6h8m-4 16h8m-6-16h8m-6 15h8m-6 1h8m-8-6h8m-7-5h8m-7 5h8m-6-8h8m391 12h8m0 5h8m-2-11h8m-8 5h8m-5-1h8m-479 22h8m-6-11h8m-2 4h8m-7 6h8m-2-4h8m-1-5h8m-3-1h8m-7 10h8m-2 3h8m-3 0h8m-7 3h8m-1-18h8m-5 5h8m-2 7h8m386 6h8m-4-14h8m-3 3h8m-7 7h8m-4-12h8m-8 16h8m-7-17h8m-455 36h8m-5-3h8m-7-1h8m-6 3h8m-6 2h8m-7-7h8m-4 7h8m-8-16h8m-4 5h8m-8 4h8m-6-9h8m-6 4h8m6 7h8m373-14h8m-2 0h8m-5 13h8m5-9h8m-2-2h8m-3 12h8m-6-5h8m-7 7h8m-6-12h8m-461 18h8m-2 2h8m-6 4h8m-6-8h8m-4 8h8m-5-8h8m0 19h8m-2-16h8m-6 15h8m-7-6h8m-6 0h8m-7-6h8m375 10h8m-6-13h8m-7 4h8m-7 11h8m-2-2h8m-7-10h8m-7 10h8m-6-13h8m-8 6h8m3 3h8m-452 8h8m-5 4h8m-4 5h8m-2 5h8m6-2h8m-8 0h8m-8-2h8m-1-8h8m-6 3h8m-4 8h8m2 2h8m-6-1h8m-3 5h8m9-6h8m135 0h8m-5 4h8m-4 1h8m-1 0h8m157 1h8m-5-6h8m0 1h8m0-8h8m-4 7h8m-4-4h8m-4 3h8m-434 16h8m-3-7h8m4 2h8m-7 2h8m-8 8h8m-8-13h8m-1 18h8m-3-4h8m-7-8h8m-8 13h8m-2-19h8m0 14h8m-5 4h8m6-11h8m-5-1h8m-7 6h8m-6 5h8m1 2h8m-7-5h8m4 1h8m3 2h8m15-5h8m-3 1h8m-5 3h8m-6-1h8m-7 4h8m27-7h8m-6 1h8m-4 0h8m-1 1h8m-8 3h8m-7-1h8m8-4h8m-1 0h8m-7 1h8m-4 2h8m-3-1h8m2-11h8m-7 16h8m3-3h8m-6-3h8m-5-1h8m16 1h8m-1 1h8m-8 3h8m-2-4h8m-2 4h8m-2 1h8m4-3h8m10 0h8m-7-1h8m-8 2h8m-2 3h8m-5-2h8m-5-4h8m2 0h8m-4 3h8m16 1h8m-8 2h8m13-1h8m-6-14h8m-3 14h8m-7-10h8m-8 11h8m-6-5h8m-1 0h8m-8 0h8m-7-11h8m-387 25h8m6 2h8m3-4h8m-6-5h8m-3-1h8m-6 5h8m-7 5h8m1 0h8m0-5h8m-1-2h8m-8-2h8m26 5h8m-2-6h8m-7 4h8m0 4h8m5 1h8m-5-5h8m19-1h8m4 4h8m-3 0h8m0-5h8m7 8h8m8-3h8m-6-1h8m-6-1h8m1-4h8m-7 10h8m-5-9h8m1 2h8m-7 8h8m-5-6h8m-7-1h8m-4 8h8m-6-10h8m-4 6h8m-4-1h8m-7 9h8m-8-17h8m-7 3h8m-6 15h8m-6-5h8m7-1h8m-7-11h8m-2 15h8m-4-12h8m-7 12h8m-8 1h8m-5-15h8m-5 1h8m-4 10h8m-7-3h8m-4-10h8m6 0h8m-6 9h8m-5 0h8m0 1h8m0-5h8m4-5h8m13 6h8m-147 22h8m13-8h8" stroke="rgb(96, 142, 192)" stroke-width="8" stroke-opacity="0.50" fill="none"/>
<path transform="translate(156.6 420.4) scale(.1)" d="M464 199h8m5-1h8m-7 0h8m45 0h8m34 1h8m1 0h8m-133 19h8m-7 1h8m-5-14h8m-7 1h8m-8 13h8m-1-13h8m-6-1h8m-8-1h8m-6-2h8m-7 6h8m-5 2h8m-6-5h8m-8 7h8m-6 4h8m-6-12h8m-3 8h8m-6-8h8m-5 4h8m1-6h8m-5 9h8m7-1h8m-5-4h8m-4 7h8m-6 0h8m-6-1h8m-5 0h8m-8-6h8m-2 7h8m-5 1h8m-7 0h8m-5 0h8m-8-12h8m-8 3h8m-7 10h8m-7-2h8m3-7h8m-6 7h8m-3 0h8m-7-13h8m-7 5h8m-8 8h8m-6-6h8m1 6h8m-6 0h8m1-2h8m-8-5h8m-5 7h8m-8 2h8m-163 16h8m-7-4h8m-4 7h8m-7-10h8m4 13h8m-3-2h8m-5-9h8m-6 12h8m-7-14h8m-4 13h8m97-5h8m-2 4h8m-8-15h8m-1 1h8m-3-1h8m-8 7h8m-4-5h8m-4 10h8m-6-8h8m-7 11h8m-6 1h8m-6-14h8m-7 0h8m-7 6h8m-6-9h8m-7 19h8m-4-2h8m-188 20h8m-3-2h8m-7-6h8m-6 10h8m-8-6h8m-6-13h8m-5 8h8m-8-1h8m-6 7h8m-5-3h8m-7 2h8m-5 3h8m-5-14h8m-7 14h8m-5-16h8m-1 16h8m114-7h8m-7 5h8m-7-10h8m-4 11h8m-2-6h8m-6 7h8m-4-2h8m-6-7h8m-6 11h8m-5-8h8m-8-7h8m3 1h8m-7 11h8m-7-14h8m-212 38h8m-1-13h8m-6 5h8m-7 7h8m-7-16h8m1 3h8m-7 3h8m-7 4h8m-6-3h8m-7 10h8m153-2h8m-8-13h8m-7 14h8m0-9h8m-5 10h8m-7-8h8m-8 8h8m-6-13h8m-7-3h8m-4 15h8m-224 13h8m-6 8h8m-5-14h8m-3 14h8m-7-4h8m-6-8h8m-8 5h8m-3 3h8m-4-12h8m-7 5h8m-8 3h8m-7-11h8m-5 16h8m-7-6h8m-3-9h8m-8 16h8m-6-15h8m-8 7h8m153 5h8m-4-8h8m-7 3h8m-6-5h8m-2 6h8m-6 2h8m-4-1h8m-3 8h8m-8-3h8m-6-15h8m3 17h8m-243 7h8m-6 11h8m-2-8h8m-7 4h8m-5-4h8m-8 10h8m-8-7h8m-2 7h8m-5-4h8m2-8h8m-7 0h8m-8 3h8m-7-1h8m-7-2h8m177 9h8m-8 0h8m-8 0h8m-7-7h8m-8-5h8m-7 2h8m-8 5h8m-4-10h8m-3 5h8m-4 8h8m-7-10h8m-328 35h8m-6-2h8m5 2h8m5 0h8m12 0h8m0 1h8m-2-2h8m-4-1h8m3 2h8m-4 0h8m-8-2h8m-6-9h8m-7-3h8m-8 1h8m3 4h8m-6 10h8m-7-3h8m-3-14h8m-8 5h8m-5-5h8m-8 3h8m-4 6h8m4 4h8m165 3h8m-2-3h8m-4-11h8m-5 7h8m-7-6h8m-4 3h8m-8-8h8m-7 10h8m-8 0h8m-7 2h8m-5 7h8m-359 19h8m-1-3h8m4-11h8m-7 4h8m-4-5h8m-6 4h8m-2 5h8m-6 4h8m-5-5h8m-8-5h8m-6 11h8m-5-9h8m-8 0h8m-2 4h8m-8-4h8m-4 11h8m-5-14h8m-5-3h8m-4 7h8m0-2h8m-4-6h8m-4 9h8m-7-6h8m-8 8h8m-6 3h8m-4-11h8m-7 15h8m-6-14h8m-4 4h8m-4 3h8m-8-7h8m-3 3h8m-3 8h8m-5-1h8m-8 1h8m-7-16h8m-2 7h8m-7 12h8m-4-10h8m-7-5h8m-4 15h8m2-8h8m-8 3h8m-6-3h8m-7 6h8m-6-1h8m-8 0h8m-7 2h8m-6-12h8m-7 1h8m-8 1h8m-7-8h8m-4 13h8m-8-1h8m-7-2h8m-7-3h8m-6 8h8m-1 2h8m-5-12h8m-5 8h8m-6 4h8m-8-3h8m-4-8h8m136 0h8m-6-4h8m-7 13h8m-1-12h8m-5 13h8m-6-4h8m-8-2h8m-7 6h8m-3-11h8m-7 0h8m-6 12h8m-6-5h8m-7-8h8m-8-1h8m-5 3h8m-375 29h8m-7 4h8m-6-1h8m9 1h8m-7-1h8m-6-8h8m-7 7h8m-4-9h8m-8-2h8m-5 11h8m-8-11h8m-4 3h8m-7 3h8m-7 4h8m-8-7h8m-7 10h8m-4-17h8m-5 10h8m-8-9h8m-7 14h8m-6-1h8m-7 0h8m-6-1h8m-5-6h8m-2-7h8m-6 15h8m-7-1h8m-8-2h8m-6-11h8m-6-3h8m-7 14h8m-7-12h8m-7 9h8m-8-6h8m-5-4h8m-5 6h8m-6-1h8m-7 8h8m-4-14h8m-5 15h8m-4-8h8m-6 9h8m-6-7h8m0 4h8m-4 3h8m-6-15h8m-7 0h8m-6 6h8m-7 7h8m-5-14h8m-6 11h8m-7 3h8m-7 5h8m-6-11h8m-8 9h8m-8-16h8m-6 8h8m1 0h8m-7-4h8m-8-2h8m-3 12h8m-7-13h8m-5 14h8m10-8h8m-7-8h8m-8 11h8m-6 1h8m-5 5h8m-6-11h8m-8 3h8m-8 2h8m-8 1h8m-6 5h8m-5-2h8m-5-7h8m-4 9h8m-6 2h8m-5-8h8m-4 1h8m-8-1h8m-6-2h8m-4 0h8m1 8h8m-1 2h8m-8 0h8m58 0h8m-7-2h8m10 2h8m-5-4h8m29 2h8m-8-1h8m-6-12h8m-8 0h8m-7-3h8m-8 16h8m-8-6h8m-4-8h8m-3 4h8m-7 11h8m-6-4h8m-6-13h8m-8 16h8m-1-2h8m-7-7h8m-5-7h8m-2 13h8m-7 4h8m-7-14h8m-7 6h8m-380 21h8m-4-4h8m-8 12h8m-5-9h8m-8 8h8m-7-1h8m-7 2h8m-1-4h8m0 4h8m-5-8h8m-4 1h8m-7 5h8m-7-1h8m-3-15h8m-7 12h8m-7-13h8m-7 10h8m-7-3h8m-4 2h8m-8-2h8m-3 8h8m-7-11h8m-7-4h8m-5 4h8m-8 10h8m-6-8h8m-6 8h8m-4 0h8m-3 2h8m-1 3h8m-5-6h8m-6-4h8m-7 2h8m-7 6h8m-6-5h8m-6-9h8m-6 8h8m-6 2h8m-8-7h8m-7-6h8m-5 9h8m0 8h8m-8-9h8m1 10h8m-7 0h8m-7-1h8m-5-8h8m-3-5h8m-8-4h8m-8 7h8m-7 7h8m-4-7h8m-5 2h8m-7-6h8m-8 0h8m-5 3h8m-5 1h8m-3 6h8m-8 4h8m-8-2h8m-7-7h8m-5 1h8m-7-6h8m-3 12h8m-7-14h8m-5 11h8m-7-4h8m-3-2h8m-7 0h8m-6 9h8m-6-6h8m-8 8h8m-6-7h8m-8-5h8m-7 1h8m-8-2h8m-6-1h8m-6 1h8m0-2h8m-7 4h8m-6-6h8m-7 2h8m-4 5h8m-6-7h8m0 11h8m-6-8h8m-5 7h8m-8-6h8m-4 0h8m60 9h8m0-5h8m-7 3h8m-6 0h8m-6-2h8m-4 0h8m-6-4h8m-6 14h8m-6-3h8m-5-10h8m-7 8h8m-6 4h8m-5-4h8m-7-8h8m-5-2h8m-5 13h8m-7-7h8m-8-9h8m-5 4h8m-7 3h8m-8 1h8m-6-3h8m3-1h8m2 13h8m-8-13h8m-4 8h8m-7-2h8m4 2h8m-6 5h8m-8-8h8m-395 29h8m0-5h8m5 2h8m-7 0h8m-7-13h8m-8 9h8m-7 2h8m-8 0h8m-7-8h8m-5 9h8m-7-2h8m-6-12h8m-4 2h8m-3-3h8m-7 6h8m-3 2h8m-2 6h8m-8-9h8m-7 9h8m-1 3h8m-8 0h8m-4-13h8m-1 4h8m-7 0h8m-5 10h8m-6-13h8m-4-5h8m-3 6h8m-5 13h8m-7-4h8m-6-13h8m-7 1h8m-7 5h8m-2 8h8m-8 3h8m-6-4h8m-8-9h8m4 8h8m-8-6h8m-5 8h8m-7-10h8m-8 1h8m-7-7h8m-6 0h8m-8 7h8m-5-3h8m-6 3h8m-5 12h8m-7-5h8m-8-4h8m-8 8h8m-8-12h8m-7 2h8m-6 2h8m-6-5h8m-8 5h8m-8 3h8m-8 6h8m-4-6h8m-6 3h8m-7 3h8m-5-12h8m-8 0h8m-7 1h8m-8-8h8m-6 13h8m-5-11h8m-6 16h8m-7-14h8m-2 8h8m-6 4h8m-8-3h8m-2 6h8m-6-3h8m-4-5h8m-5-9h8m4 1h8m-7 10h8m-8 0h8m-4-1h8m-6 7h8m-7-6h8m-6-4h8m-7 5h8m-6 0h8m-8 5h8m-8-1h8m-8-8h8m-7-1h8m-7 6h8m-3-6h8m0-3h8m-8-6h8m-7 9h8m-8 6h8m-7-6h8m-5 3h8m-8-12h8m-8 16h8m-3-7h8m-6-2h8m-4 1h8m-5 11h8m-8-10h8m56 3h8m-5 0h8m2-2h8m4 6h8m-6-10h8m-8 4h8m-2 3h8m-6 0h8m-6-3h8m-6 6h8m-5-12h8m-5-1h8m-8 12h8m-7-9h8m-5-4h8m-7 15h8m-7-7h8m-8 1h8m-5 7h8m-8-7h8m-6-7h8m-6-1h8m-8 10h8m-4 2h8m-7 3h8m-7-11h8m-8-6h8m-7 6h8m-7 3h8m-6-8h8m-8 16h8m-8-9h8m-7 6h8m-7-2h8m-3-3h8m-8-4h8m-7 4h8m-8 8h8m-8-2h8m-7-1h8m-7-8h8m-2 3h8m-8-7h8m-6-3h8m-6 17h8m-6-4h8m-8 5h8m-3-4h8m-8-12h8m-5 16h8m-4-9h8m-4 6h8m-8 4h8m-8-6h8m-3-5h8m-8-2h8m-6 13h8m-8 0h8m-5-10h8m-422 20h8m-4-4h8m-7 10h8m-6-7h8m-8 10h8m-6-18h8m-5 8h8m-7-6h8m-7 15h8m-6-16h8m-6 3h8m-5 7h8m-7-7h8m-6 11h8m-5-13h8m-7 2h8m-6-4h8m-7 19h8m-3-9h8m-6 4h8m-3-8h8m-2-2h8m-7 6h8m-5 2h8m-7-6h8m-8 9h8m-3-7h8m-4-4h8m-8 7h8m-5 2h8m-8 5h8m-4-18h8m-6 17h8m9-12h8m-8 6h8m-5 0h8m-6 1h8m2-7h8m-7 11h8m-6 2h8m-8-2h8m-7-1h8m-4 0h8m-7-4h8m-8-3h8m-4-1h8m-8 5h8m-7 5h8m-8-5h8m-6-6h8m-3 4h8m-8-6h8m-4 8h8m-7-11h8m-4 16h8m-6-7h8m-7-6h8m-5-1h8m-4 7h8m-3 3h8m-7 3h8m-6-2h8m-8 5h8m-7-16h8m-2-3h8m-7 11h8m-7 2h8m-7-12h8m-6 9h8m-6 0h8m-5 6h8m-4-16h8m-7 2h8m-7 15h8m-6-6h8m-7 2h8m-5-13h8m-7 17h8m-7-1h8m-4 0h8m-4-1h8m-7-15h8m-6 11h8m-8 0h8m-6 8h8m-8-13h8m-5 11h8m0-1h8m-7 0h8m2-12h8m-7 7h8m-6 2h8m-8-12h8m-7 11h8m-7 2h8m2 0h8m-7-2h8m-7-10h8m-8 13h8m74-2h8m4-8h8m-7 3h8m-4-4h8m-5 7h8m-6-1h8m-3-9h8m-7 9h8m-7 1h8m-3-1h8m-7 1h8m-4-8h8m-6 4h8m-7-7h8m2 2h8m-7 10h8m-6-6h8m-4 1h8m-7 6h8m-7-6h8m-7 5h8m-6 1h8m-7-5h8m-7 7h8m-4-2h8m0 0h8m-7-6h8m-5-2h8m-4 9h8m-7-6h8m2 6h8m-424 16h8m-7 0h8m-7 1h8m-4 0h8m-8-9h8m-5 5h8m-3-5h8m-8 2h8m-2 9h8m-2-11h8m-7 6h8m-6-5h8m-7 16h8m-7-4h8m-8 1h8m-8-14h8m-6 2h8m-6 14h8m-7-7h8m-7 3h8m-6 1h8m1 2h8m-5-15h8m-7 3h8m-7 7h8m-8-12h8m-5 17h8m-7-7h8m-6-2h8m-6 5h8m-5 3h8m-8-13h8m-6 4h8m-7 12h8m0-18h8m-5 15h8m-4-12h8m-6 10h8m-4 3h8m-7-8h8m-8 1h8m-7-7h8m-7 9h8m-7-8h8m-6 8h8m-2 4h8m-4 1h8m-7-2h8m-5 4h8m-7-4h8m-7-7h8m-7 3h8m-7-8h8m-8 12h8m0 1h8m-3-9h8m-7 8h8m-8 2h8m-6-8h8m-6 8h8m-6-10h8m-5-3h8m-5 5h8m-5 2h8m-4 0h8m-5-7h8m0 10h8m-5-8h8m-5-3h8m-8 16h8m-7-1h8m-8-16h8m-5 4h8m-6 2h8m-7-3h8m-8 11h8m-8-9h8m-3-4h8m-4-1h8m-7 5h8m-4 6h8m-7 3h8m-6-16h8m-8 7h8m-7-4h8m-4 12h8m-7-2h8m-7-5h8m-5 9h8m-6-1h8m-6-3h8m-6-11h8m-7 17h8m-7-15h8m-4 2h8m-5-1h8m-6-5h8m-8 17h8m-6-6h8m-8-5h8m-6-6h8m-5 7h8m-6-6h8m-6 8h8m-5-2h8m0 5h8m-6-3h8m-7-6h8m132 0h8m-8 5h8m-4-8h8m-6 2h8m-8 5h8m-7-7h8m-6 8h8m1-2h8m-5 13h8m-1-12h8m-6-4h8m-7-2h8m-7 16h8m-8-3h8m-4 4h8m-3 1h8m-3-3h8m-411 10h8m-5 2h8m-8-5h8m-4 1h8m-4 0h8m9 12h8m-6-5h8m-5 4h8m1-3h8m-4-1h8m-6-5h8m-8 13h8m-7-6h8m-1-9h8m-8 12h8m-6-12h8m4-3h8m-7 0h8m-6-1h8m-7 9h8m-3 4h8m-6-1h8m-2 6h8m-7-6h8m-7 1h8m-7-3h8m-6 6h8m-7-4h8m-6 1h8m-7-2h8m-5 4h8m-2-15h8m-3 12h8m-5 3h8m-5 1h8m-4-10h8m-6 1h8m-6 7h8m-7 0h8m-7-1h8m-8 0h8m-5-5h8m-7 4h8m-5-7h8m-8 11h8m-8-5h8m-7-6h8m-7 8h8m-6 1h8m-5-7h8m-2 2h8m-5-6h8m-7 10h8m2-8h8m-5-4h8m-7 17h8m-5-5h8m-6-13h8m-8 8h8m-2 6h8m-7-5h8m-7 10h8m-7-10h8m-5 0h8m0-8h8m-5 5h8m179 9h8m-4 1h8m-5-11h8m-6 11h8m-8-5h8m-8 8h8m-4-10h8m-7-2h8m-4 5h8m-4 6h8m-8-3h8m-7-10h8m-4 2h8m-5 7h8m-4 1h8m-7 2h8m-8-12h8m-7 6h8m-8-4h8m-402 13h8m-2 16h8m-5-6h8m-2 3h8m-6-4h8m-7 1h8m-7 9h8m-4-13h8m-8 9h8m-7-8h8m-6 4h8m-8-7h8m-8 0h8m-1-2h8m-6 17h8m-7-1h8m-8-18h8m-8 15h8m-7-10h8m-6 11h8m-4-11h8m-4-2h8m-3-1h8m-5 6h8m-4 0h8m-6 10h8m-4-10h8m-7-1h8m-5-3h8m-4 9h8m-7-5h8m-7 9h8m-8-16h8m-3 5h8m-7-6h8m-3 14h8m-7-3h8m-6-6h8m-7-2h8m-7 6h8m-3-2h8m-7 3h8m-8 9h8m-3-2h8m-3-9h8m-7 7h8m-7-9h8m-5-1h8m-4 7h8m-7 1h8m-7-8h8m-8 7h8m-3 5h8m-5-17h8m-4 12h8m-7 1h8m-3 2h8m-6-7h8m-6 4h8m-3 0h8m-3-10h8m-8 4h8m-6 4h8m-7-10h8m-5 0h8m195 16h8m-7 3h8m-7-3h8m-8-2h8m-6 3h8m-4-8h8m-7-9h8m-7 10h8m-7-2h8m1-5h8m-1 5h8m-6 0h8m-4-1h8m-7-5h8m-8 6h8m-7-6h8m-393 32h8m0-7h8m-6 8h8m-7-8h8m-7-5h8m-8 11h8m-6-9h8m-7 11h8m-7-4h8m-6-11h8m-6 10h8m-8 4h8m-7 0h8m-8-7h8m-7 3h8m-5-7h8m-8 3h8m-5 2h8m-5-6h8m-7 3h8m-5 11h8m-5-4h8m-6 7h8m-8-15h8m-7-3h8m-8 12h8m-3 1h8m-5-5h8m2 10h8m-4-9h8m-7-8h8m-7 0h8m-8 0h8m-6 10h8m-6-10h8m-7 7h8m10 1h8m-8 8h8m-3-6h8m-8 1h8m-6-10h8m-6 16h8m-7-1h8m-4-14h8m-7 10h8m-7-5h8m-2-2h8m-6 3h8m-7-6h8m-5-1h8m-2 8h8m215 4h8m-1-1h8m-7-6h8m-5 6h8m-4-11h8m-8 8h8m-7 4h8m-7-14h8m-7 12h8m-8 2h8m-6 1h8m-3-12h8m1-3h8m-2 4h8m-8-5h8m-397 25h8m-7 9h8m-6-3h8m-2 6h8m-6-14h8m-7 3h8m-8-5h8m-6 8h8m4 0h8m-8-4h8m-1 8h8m4 5h8m-6-16h8m-7 15h8m-7-3h8m-6-2h8m-7-3h8m-6-5h8m-5 14h8m-4-7h8m-4 8h8m-6-7h8m-5-6h8m-3 9h8m-5-1h8m-8 0h8m-3-6h8m-5 9h8m-7-8h8m-7 2h8m-7 8h8m-4-8h8m-7-5h8m-7 2h8m-8-7h8m-6 6h8m-5-6h8m-8 6h8m-6 0h8m0 4h8m215 4h8m-3-14h8m-7 11h8m-8 4h8m-3 0h8m-6-16h8m-7 15h8m-7-15h8m0 17h8m-7-14h8m-8-1h8m-7 6h8m-3-1h8m-6 9h8m-380 10h8m-7 4h8m-7-9h8m-6 15h8m-2-3h8m-7 6h8m-4-7h8m-5 1h8m-7-1h8m-6-11h8m-2 1h8m-3 15h8m-8-3h8m-7-3h8m-7 3h8m-8-5h8m-7 2h8m-6-8h8m-7 4h8m-6-3h8m-8 3h8m-7-3h8m-8 4h8m-7-1h8m-8-5h8m-6 8h8m-6-5h8m-5 5h8m-5 6h8m-6-14h8m-7 12h8m-6 2h8m-6-6h8m-7 2h8m-7-3h8m-6-3h8m-7 13h8m-6-7h8m-4-5h8m-5 12h8m-8-2h8m-7-1h8m2 3h8m-2-10h8m-7-8h8m-8 14h8m-7 3h8m-5-7h8m-7-6h8m-7 13h8m-8-16h8m-7 0h8m28 13h8m-3 1h8m1 2h8m-7-6h8m-4 2h8m-7 2h8m-1-1h8m-7 1h8m-6 2h8m-7-4h8m-8 4h8m-8-2h8m-7-1h8m0 0h8m-8 3h8m12-3h8m3 1h8m107-2h8m-5 1h8m10 2h8m-8-3h8m-7-1h8m-2 2h8m-4-13h8m0 10h8m-3 2h8m-6 5h8m-5-12h8m-8 9h8m-8-12h8m-7 8h8m-5-10h8m-7 3h8m-381 27h8m-3-11h8m-7 5h8m-1-4h8m-6 6h8m-8 0h8m-7 1h8m-6-2h8m-7 3h8m-6 1h8m-5 0h8m-5 1h8m-6-7h8m-2 4h8m-2 1h8m-7 8h8m-3-15h8m-5 2h8m-3 3h8m1 0h8m-8 9h8m-4-11h8m-5-5h8m-7 5h8m-7-1h8m-7 4h8m-7 1h8m-5 5h8m-5-10h8m-6-2h8m-8 4h8m-8 4h8m-7-7h8m-7 10h8m-7 1h8m1-5h8m0 3h8m-4 3h8m-3-3h8m-5 1h8m-7 1h8m-6-4h8m-6-5h8m-7-3h8m-7 3h8m-8 10h8m-8-10h8m-6 2h8m-8 4h8m-6-5h8m-6 0h8m-5 2h8m-7 1h8m-8 8h8m-7-14h8m-7 3h8m-6 4h8m-1-11h8m0 15h8m-3-15h8m-5 0h8m-3 18h8m-1-18h8m-6 5h8m-6-4h8m-4 8h8m-5 2h8m-6-7h8m-2-2h8m-7 2h8m-7 6h8m1-5h8m-6 10h8m-4 1h8m-4-8h8m-6 3h8m-8-3h8m-5 1h8m7 7h8m-4 0h8m-6-3h8m-4 4h8m-8 1h8m0 1h8m-5-5h8m3 5h8m-5-3h8m17 0h8m-6 2h8m-5 0h8m10 0h8m-8 1h8m-6-12h8m-8 9h8m-3-12h8m-7 14h8m-3-13h8m-7 2h8m-7-1h8m-2 3h8m-4-9h8m-8 19h8m-4-9h8m-6-10h8m-8 7h8m-5-3h8m-7 8h8m-3-1h8m-7 0h8m-5-1h8m-7-4h8m-6-3h8m-4 4h8m-7-7h8m-5 8h8m-5-5h8m-339 18h8m2 7h8m-6-7h8m-7 7h8m-7 0h8m-4-6h8m2 7h8m-7 1h8m-5-7h8m-7 6h8m-3-8h8m-4 1h8m-3-2h8m-5 8h8m-8 2h8m-7-6h8m-8 5h8m-7 2h8m-3-10h8m-6 10h8m-2-2h8m-4 0h8m7 0h8m-4-3h8m-8-4h8m-6 3h8m-6-4h8m-6 1h8m-5-2h8m-7 6h8m-6-5h8m3 2h8m-7-3h8m2 5h8m-5 0h8m-3 5h8m-8-7h8m21 6h8m-1-4h8m-8 6h8m-2-1h8m-6 0h8m0 0h8m-6-2h8m-5-6h8m-6 9h8m-4-9h8m-6 7h8m-6-3h8m-8-3h8m-7-1h8m-6 3h8m-8 3h8m5 2h8m-4-1h8m-1-8h8m-7 0h8m3 6h8m-8 4h8m-7-4h8m-8-1h8m-4-4h8m-4 2h8m-8-3h8m-5 2h8m0-1h8m-5 3h8m-7-3h8m-5 1h8m-5 4h8m-6-5h8m-4-1h8m-6 2h8m-7 3h8m-7 0h8m-1-4h8m-4 8h8m0-3h8m-7-3h8m-8-3h8m-6 3h8m-3 7h8m-6-5h8m1-2h8" stroke="rgb(84, 135, 183)" stroke-width="8" stroke-opacity="0.55" fill="none"/>
<path transform="translate(156.6 420.4) scale(.1)" d="M501 217h8m6 1h8m6-1h8m20 2h8m-86 17h8m-6-16h8m-7 16h8m1-6h8m-8 1h8m-3-2h8m-6-2h8m-8 4h8m-8-11h8m-4 13h8m-8-8h8m-8 6h8m-6-4h8m-7 2h8m-8 6h8m-5-4h8m-7-11h8m-3 6h8m-6 9h8m-7-14h8m-7 11h8m-8-10h8m-5 4h8m-3-6h8m-6 12h8m-8-2h8m-6 1h8m-8 3h8m-7-3h8m-7 0h8m-8-6h8m-5 0h8m0 1h8m-6-6h8m-8 3h8m2-3h8m-8 14h8m-7 0h8m-7-7h8m-7-6h8m-7 12h8m-2-9h8m-7 10h8m-4-9h8m-6-1h8m-6-2h8m5 16h8m-134 20h8m109-16h8m-7 7h8m-4 5h8m-7-5h8m-8 1h8m-8-4h8m-6 2h8m-5 7h8m-5 0h8m-7 0h8m-6-1h8m-145 13h8m-8-1h8m-7 5h8m-3-1h8m-8 9h8m-5-13h8m-7 2h8m-3 8h8m-7-2h8m-8 4h8m-7-15h8m114 14h8m-7-9h8m-8 9h8m-7-9h8m-3 8h8m-8 3h8m-8-2h8m-7-16h8m-7 5h8m-4 5h8m-5-8h8m-161 26h8m-7-4h8m-7 11h8m-4-6h8m-8 9h8m-6-4h8m-4-11h8m-6 8h8m-8-6h8m114-4h8m-7 5h8m-7 10h8m-6 0h8m-2-4h8m-7 1h8m-7-5h8m2 9h8m8 0h8m-183 18h8m-6-11h8m-8 3h8m-5 11h8m-5-10h8m-6-1h8m-3-8h8m-8 1h8m-7 6h8m117 9h8m-8-3h8m-7-1h8m-7 2h8m-8-13h8m-6 1h8m-7 0h8m-5 14h8m-7-2h8m-8-9h8m-6 3h8m-8 7h8m-6-9h8m-8 12h8m-1-6h8m-8-9h8m-4-1h8m-8 9h8m-5-6h8m-3 0h8m-7 8h8m-8-10h8m-8-3h8m-184 31h8m-4-1h8m-5 0h8m-1-3h8m-7-5h8m-7 10h8m-5-4h8m-6 7h8m-4 3h8m-6 0h8m104-16h8m-7 10h8m-7-9h8m-8 7h8m-8 6h8m-8-7h8m-3-4h8m-6 10h8m-2-5h8m-8 6h8m-8-1h8m-7-14h8m-8 12h8m-8-12h8m-7 3h8m-2 9h8m-4 2h8m-7-4h8m-4-8h8m-5-1h8m-6 12h8m-8-10h8m-162 21h8m-6 12h8m-5-17h8m-8 10h8m-8-5h8m-5 2h8m-8 12h8m-4-6h8m-6-13h8m-8 2h8m-8 2h8m-6 8h8m-7 0h8m-7 6h8m-7-2h8m31 1h8m11-1h8m0 3h8m-5-3h8m2-1h8m11-12h8m-8 5h8m-7 8h8m-6-1h8m-7-10h8m-4 14h8m-6-18h8m-6 4h8m-8 4h8m-8 1h8m-4 0h8m-8-3h8m-6 7h8m-8-10h8m-7 3h8m-146 25h8m-5-4h8m-5 6h8m-7-1h8m-5-2h8m-5 3h8m-8 0h8m-8-11h8m-3-3h8m-8 14h8m-6 3h8m-6-3h8m-7-9h8m-8 4h8m-8 7h8m-7-16h8m-7 15h8m-7 4h8m-6-19h8m-7 14h8m-8-3h8m-2-2h8m-8 0h8m-5 10h8m0-3h8m5 3h8m-7-14h8m-8 3h8m-5 9h8m-7-17h8m-8 8h8m-6 2h8m-5-10h8m-8 17h8m-7-9h8m-8 7h8m-8-2h8m-3-9h8m-2-3h8m-1-1h8m-4 9h8m-4-9h8m-7 13h8m-7-10h8m-7-2h8m-4 10h8m-7-1h8m-8 2h8m-7 2h8m-7-9h8m-7 3h8m-7-6h8m-8 6h8m-5-3h8m-7 3h8m-1 1h8m-7-4h8m-5-2h8m-4 4h8m-7-4h8m-1 7h8m-122 20h8m-3-4h8m-4-3h8m-7 14h8m-8-9h8m-4 10h8m-8-18h8m-4 10h8m-4-3h8m-7-2h8m-7-2h8m-8 8h8m-7-9h8m-6 9h8m-8 3h8m-6-8h8m-7-6h8m-6 2h8m-7 13h8m-6-12h8m-8 16h8m-4-18h8m-6 16h8m-8-16h8m-8 5h8m-6-2h8m-6-3h8m-8 18h8m-7-6h8m-8-1h8m-8 4h8m-6 1h8m-7 1h8m-58 3h8m-6 9h8m-7-7h8m-8 11h8m-7-9h8m-2 5h8m2 7h8m-5-5h8m-6 2h8m-7-1h8m-6-3h8m-6 4h8m-6-12h8m-7 3h8m-2-2h8m-7 3h8m-7-5h8m-7 16h8m-7-11h8m-5 6h8m-8-1h8m-5-6h8m-6-2h8m-7 0h8m-8-3h8m-7 9h8m-7 1h8m-7-4h8m-7 3h8m-5 10h8m-5-3h8m3 3h8m-4-2h8m-86 22h8m-7-14h8m-8 3h8m-5 1h8m-6 5h8m-6-4h8m-7-1h8m-7 2h8m-4 1h8m-7-7h8m-7 10h8m-6-7h8m-8-7h8m-8 12h8m-7 0h8m-6-11h8m-8 8h8m-7 3h8m-8-5h8m-7 7h8m-8 4h8m-5-4h8m-7-9h8m-4-2h8m-5 14h8m-7 1h8m-5-5h8m-7-12h8m-8 8h8m-8 5h8m-7-6h8m-7 6h8m-8-12h8m-7 12h8m-7-6h8m-7-2h8m-7-3h8m-8 15h8m-1-6h8m-8-4h8m-7 0h8m-7 9h8m-7-4h8m-6-8h8m-7 7h8m-7-8h8m-7-3h8m-7 1h8m-8 16h8m-6-16h8m-8 15h8m-8-14h8m-7 10h8m-1-13h8m-7 10h8m-7-10h8m-5 16h8m-8-11h8m-7-4h8m-5 16h8m-5-3h8m-7 0h8m-5 4h8m8-2h8m3 2h8m11-2h8m-154 21h8m-7-4h8m5 0h8m-5-14h8m-8 3h8m-7 11h8m-5-6h8m-5 0h8m-6 8h8m-5-5h8m-7 3h8m-8-6h8m-8 7h8m-3-3h8m-3-4h8m-6 5h8m-8 0h8m-5 0h8m-6-13h8m-6 14h8m-7-4h8m-5-5h8m-5 0h8m-2 9h8m-7-1h8m-6-11h8m-5 7h8m-6-5h8m-6-4h8m-8 2h8m-7 3h8m-5 1h8m-7-5h8m-6 2h8m-5 7h8m-8 0h8m-6-2h8m-7-5h8m-8 2h8m-8-3h8m-5 12h8m-6-3h8m-5-8h8m-4 14h8m-6-16h8m-6 11h8m-8 1h8m-7 2h8m1-10h8m-2 14h8m-8-2h8m-7 0h8m-7-2h8m-8-2h8m-4-9h8m-8 6h8m-6-9h8m-6 18h8m-8-13h8m-5-1h8m1 1h8m-5 1h8m-6-2h8m-7 0h8m-6 8h8m-7-3h8m-7 9h8m-6 0h8m-8-19h8m-8 4h8m3 14h8m-6-3h8m-8 3h8m-1 1h8m-189 15h8m-4 5h8m-7-14h8m-6 12h8m-6 1h8m-2 0h8m-8-9h8m-7-7h8m-6 9h8m-5-8h8m-8 7h8m-8-7h8m0 2h8m-2 5h8m-7-6h8m-4 2h8m-7-1h8m-6-1h8m55-2h8m-8 0h8m-5-1h8m4 10h8m-1-5h8m-8-3h8m-8 9h8m0-9h8m-5 4h8m-7-2h8m-7 0h8m-6 9h8m-5-3h8m-7 3h8m-5-7h8m-6 8h8m-6-11h8m-8 2h8m-7-3h8m-6-2h8m-3 16h8m-7-2h8m-7-9h8m-5-2h8m-5 4h8m-8 11h8m-7-4h8m-7 1h8m-3-5h8m-8-1h8m-8 3h8m-8-4h8m-7 4h8m-8 3h8m-203 19h8m-7 1h8m-7 2h8m-5 1h8m-6 0h8m-8-6h8m-8 6h8m-6-11h8m-8-7h8m-7 6h8m-2-4h8m-7 11h8m-8-9h8m-8 2h8m-7 7h8m-7 2h8m-8-6h8m-7 2h8m-3-5h8m-7 3h8m-7-8h8m-7 6h8m-6-6h8m-7 9h8m122 2h8m-6-7h8m-7 6h8m-5-5h8m-6 3h8m-2-4h8m-7-4h8m-7 1h8m-6 4h8m-8-2h8m-7 1h8m-8 5h8m-7 8h8m-6-10h8m-7 9h8m-4-14h8m-4 12h8m-8-2h8m-7-6h8m-6 3h8m-8-6h8m-240 33h8m-8 1h8m-7-4h8m-5 1h8m-5 1h8m-3 2h8m-8-5h8m-7-1h8m-3-9h8m-6 14h8m-3-15h8m-7 7h8m-4-3h8m-7 7h8m-7-2h8m-8 1h8m-6-3h8m-7-8h8m-8 2h8m-8 2h8m-5 2h8m-8 10h8m-8-5h8m-7-4h8m-7-8h8m-1 9h8m-5-2h8m-8 6h8m-7 2h8m-6 1h8m-4-6h8m10 4h8m114 1h8m-2-3h8m-8 4h8m-8-2h8m-5 4h8m-6-5h8m-6 2h8m2-7h8m-8 3h8m-4-10h8m-5 5h8m-8 1h8m-7-8h8m-8 9h8m-5 3h8m-250 24h8m-8-3h8m-4 4h8m-1-8h8m-8-7h8m-5 3h8m-7 12h8m-6-10h8m-7 6h8m-7-5h8m-6 8h8m-1-10h8m-6 5h8m-7-4h8m-7 7h8m-8-8h8m-4 11h8m-7-2h8m-6 4h8m-6-14h8m-7-2h8m-6 9h8m-6-5h8m-7-5h8m-2 10h8m-6-12h8m-7 12h8m-6-6h8m-8-2h8m-8 1h8m-7 2h8m-7 8h8m-3 4h8m-7-2h8m-8-13h8m-6 14h8m-3-10h8m-7 7h8m-8-13h8m-7 12h8m-7-2h8m-8-5h8m-7-5h8m-8 8h8m-7 8h8m-7-11h8m-4 6h8m-6-8h8m-4 8h8m0 5h8m-8 1h8m-6-2h8m0-1h8m-6-2h8m-8 0h8m-1 0h8m-5-1h8m-4 6h8m2-3h8m-5-2h8m-8-1h8m0 3h8m-7-1h8m-6 0h8m-5 1h8m-4 2h8m-6-2h8m-6 3h8m-7-2h8m5-1h8m-2 2h8m-2 1h8m-3 0h8m5-2h8m-6-1h8m-3-6h8m-8-1h8m-7-7h8m-7-2h8m-6 9h8m-8 8h8m-8-6h8m-6-11h8m-7 17h8m-8-14h8m-1 14h8m-8-16h8m-8 10h8m-7 3h8m-242 10h8m-5 13h8m-8-14h8m-5 9h8m-8-9h8m-8 9h8m-2 3h8m-7 1h8m-8-1h8m-4 2h8m-7-16h8m-7 7h8m-7-4h8m-7 2h8m-3 6h8m3-12h8m-6 0h8m-7 3h8m0 2h8m-6-1h8m7 0h8m-6 6h8m-6-3h8m0 4h8m-7 1h8m-7-3h8m-4-3h8m-6 4h8m-5-4h8m-7 3h8m-8 1h8m-2 0h8m-2 0h8m-8 2h8m-6-10h8m-7 7h8m-7 3h8m-8-4h8m-4-8h8m-7 6h8m-7 4h8m-7-9h8m-7 0h8m-6 3h8m-6 2h8m-7 9h8m-7-9h8m-8 11h8m-5-9h8m-5 6h8m-7-7h8m-5 12h8m-7-7h8m-5 3h8m-6 4h8m-6-11h8m-7 2h8m-4 4h8m-5 5h8m-7-9h8m-7 2h8m-8-2h8m-8-5h8m-8-5h8m-6 10h8m-4-2h8m-5 3h8m-7-5h8m-8 13h8m-6-5h8m-8-12h8m-8 13h8m-7 1h8m-7-13h8m-7-2h8m-7 14h8m-7 0h8m-4 0h8m-6-3h8m-5-6h8m-7-2h8m-7-2h8m-8 1h8m-6 3h8m-7 6h8m-8-3h8m-7 5h8m-6-4h8m-1-1h8m-6 3h8m-7-11h8m-5 7h8m-7 5h8m-6-6h8m-7-7h8m-5 9h8m-7 0h8m-7 3h8m-8-10h8m-5-2h8m-6 17h8m-7-10h8m-7 5h8m-7-9h8m-8 1h8m-7 0h8m-7-4h8m-6 8h8m-8 7h8m-6-14h8m-4 8h8m-7 1h8m-6-1h8m-7-7h8m-4 4h8m-6 1h8m-6 1h8m-6-5h8m-240 21h8m-6 3h8m-8-7h8m-6 7h8m-5-5h8m-7 7h8m-4-6h8m-8 6h8m99-3h8m-7 3h8m-7 1h8m-7-6h8m-7-1h8m-3 6h8m0 2h8m-7-3h8m-4-7h8m-2 10h8m-5-5h8m-8-1h8m3-2h8m-5 4h8m0 2h8m-6-7h8m-7 1h8m-4 4h8m-1 3h8m-8-7h8m-6 8h8m-6-5h8m-2-3h8m-4-3h8m-3 0h8m-5 6h8m-4-2h8m-6-2h8" stroke="rgb(76, 142, 165)" stroke-width="8" stroke-opacity="0.60" fill="none"/>
<path transform="translate(156.6 420.4) scale(.1)" d="M482 237h8m68 1h8m-7 0h8m-5 0h8m-91 19h8m-7-11h8m-6 12h8m-8-6h8m-5 2h8m-8-3h8m-7-2h8m-7 5h8m-6 5h8m-6-4h8m-8-13h8m-7 1h8m-8-2h8m-8 9h8m-6 2h8m-7 1h8m-8-5h8m-7 9h8m52-5h8m-5-3h8m-8-7h8m-5 8h8m-8-8h8m-7 10h8m-6-10h8m-8-2h8m-7 5h8m-3 0h8m-5 8h8m-105 17h8m-8 9h8m-7-9h8m-8 1h8m-4-6h8m-7 1h8m-3 9h8m-6-14h8m-8 6h8m-6-6h8m-7 6h8m-5-7h8m72 13h8m-8-7h8m-6 1h8m-8-4h8m-8-1h8m-6 16h8m-8-8h8m-8-6h8m-6 9h8m-4 6h8m-7-3h8m-8 3h8m-7-15h8m-8-3h8m-6-1h8m-7 4h8m-8 1h8m-8 13h8m-6-16h8m-124 35h8m-8-13h8m-7 10h8m-7-9h8m-8-3h8m-8 17h8m-7-6h8m-7-3h8m-4-7h8m-8-2h8m-5 8h8m-6 6h8m-8-7h8m-8-7h8m-8 16h8m-6-1h8m-6 0h8m-7 3h8m73 0h8m-6-19h8m-7 1h8m-7 2h8m-7 8h8m-6 1h8m-7 7h8m-8-2h8m-6-1h8m-6-4h8m-7 4h8m-7-7h8m-8-7h8m-7 14h8m-5-7h8m-7 10h8m-125 1h8m-7 2h8m-7 14h8m-8-4h8m-6 3h8m-7 3h8m-6-1h8m-6-2h8m-8 3h8m-7-12h8m-8-6h8m-6 4h8m-8 13h8m-7-9h8m-4-5h8m-7 10h8m72 6h8m-8-9h8m-5-5h8m-6 9h8m-8 4h8m-6 1h8m-6-11h8m-5 7h8m-8 4h8m-7-15h8m-110 24h8m-7 6h8m-8-9h8m-7 7h8m-8 1h8m-4-11h8m-6 9h8m11 6h8m16-1h8m-7 3h8m-2-2h8m8-1h8m-3 0h8m-3 1h8m0-5h8m-6 7h8m-7-2h8m-6-5h8m-7-5h8m-8-6h8m-8 10h8m-7-3h8m-6 8h8m-8-16h8m-7 5h8m-7-3h8m-8-2h8m-8 14h8m-5-13h8m-104 25h8m-1-6h8m-6 9h8m-6-9h8m-8 9h8m-5 5h8m-4-5h8m-2 9h8m-8-2h8m-5 3h8m-6-2h8m-8-1h8m4-11h8m-3 4h8m-5-9h8m-7 5h8m-8 6h8m-5-11h8m-6 13h8m-7-9h8m-7 3h8m-6 2h8m-7-5h8m-7 7h8m-5 2h8m-8-10h8m-3 12h8m-3-4h8m-5 4h8m-4-6h8m-7-9h8m-7 3h8m-3 5h8m-6-7h8m-6 9h8m-6 1h8m-8-4h8m-7-6h8m-8 13h8m-8-5h8m-84 17h8m-7 1h8m-6 6h8m-8-6h8m-7-5h8m-6 9h8m-5-5h8m-7 0h8m-8-2h8m-6 3h8m-5 7h8m-7-6h8m-6-8h8m-8 6h8m-7-5h8m-8 11h8m-19 85h8m-1 0h8m-4-1h8m-6 0h8m-7 1h8m-6 2h8m-6-2h8m-1-1h8m-6 0h8m2 0h8m-1 0h8m-8 1h8m-6 1h8m-76 16h8m-7-1h8m-5 5h8m-7 1h8m-7-5h8m-3 5h8m-5-19h8m-6 6h8m-8-3h8m-6 0h8m-6 4h8m-3 4h8m-8 8h8m-6-2h8m-7-14h8m-8-2h8m-8 3h8m-7 11h8m-7-6h8m-7-6h8m-6 4h8m0 5h8m-6-5h8m-5 12h8m-7-9h8m-8-8h8m-7 7h8m-8 9h8m-7-17h8m-8 13h8m-7-3h8m-7-11h8m-8 11h8m-2 7h8m-5-7h8m-8 8h8m-5-11h8m-7-8h8m-6 4h8m-5 13h8m-7-15h8m-6 11h8m-6 3h8m-6 2h8m-4-3h8m-6 1h8m-2 0h8m-5 2h8m-5-1h8m-8 0h8m3-3h8m-5 5h8m-139 15h8m4 5h8m-5-3h8m-7-2h8m-6-4h8m-7 3h8m-5-2h8m-8-10h8m-8 13h8m-6-4h8m-8 5h8m-8 1h8m-7-10h8m-8 0h8m-7 4h8m-8 6h8m-7-14h8m-6 11h8m-5 3h8m-7-2h8m-7-1h8m-7-1h8m-8 1h8m-6 6h8m-6-5h8m-7 2h8m-7-6h8m-7-7h8m-5 15h8m-8-13h8m-3 9h8m-8-11h8m-7 6h8m-8 10h8m-7-17h8m-5 13h8m-8-2h8m-5-9h8m-7 4h8m-8-8h8m-6 7h8m-7 1h8m-8 11h8m-8-3h8m-8-7h8m-8-7h8m-6 14h8m-8-10h8m-8-1h8m-6 3h8m-8-3h8m-3 14h8m-7-9h8m-8-8h8m-8-2h8m-8 13h8m-7-5h8m-7 0h8m-2-2h8m-6-1h8m-8 5h8m-5-7h8m-8 10h8m-6-9h8m-7 1h8m-8 2h8m-5-4h8m-7-2h8m-8 9h8m-4-7h8m-8 2h8m-8 4h8m-4 4h8m-8-8h8m-6 2h8m-6-1h8m-6-3h8m-5 4h8m-4 3h8m-6-10h8m-4 16h8m-8-6h8m-7-5h8m-7 10h8m-6 2h8m-8-8h8m-8-7h8m-7 10h8m-7-6h8m-7 11h8m-8-6h8m-7 1h8m-6-9h8m-7 13h8m-6-15h8m-7 10h8m-5-6h8m2 9h8m-1 5h8m-8 0h8m-163 12h8m-8-3h8m-8 4h8m-6-6h8m-8-1h8m-4 2h8m-7-1h8m-8-2h8m-7 0h8m-5-2h8m-7 6h8m-8-5h8m-5 6h8m-5-3h8m-8 2h8m-6-3h8m-8 0h8m-6 0h8m-6-3h8m-7 1h8m-5 6h8m-7 3h8m-6 6h8m-6-9h8m-7-8h8m-6 7h8m-7 1h8m-8-9h8m-7 16h8m-8-7h8m-8 9h8m-6-15h8m-8 6h8m-7 3h8m-8 0h8m-7 1h8m-7-3h8m-8 0h8m-7-9h8m-7 6h8m-6-3h8m-8 11h8m-7 1h8m-5-10h8m-8 0h8m-6-2h8m-8 9h8m1 4h8m-7-11h8m-5 12h8m-6-12h8m-7-6h8m-5 7h8m-6-4h8m-6 0h8m-7 5h8m11 6h8m-3 5h8m10-13h8m-8 13h8m-8-18h8m-8 15h8m-7-4h8m-8-7h8m-6 1h8m-7 11h8m-7 1h8m-8 0h8m-7-4h8m-8 3h8m-6-3h8m-8 1h8m-7-15h8m-7 1h8m-7 9h8m-8 5h8m-4-5h8m-7-8h8m-8 1h8m-8 8h8m-6-9h8m-8 17h8m-5-15h8m-5 1h8m-8-5h8m-4 1h8m-4 6h8m-2-4h8m-146 29h8m-6-6h8m-6-5h8m-7 0h8m-5 1h8m-6 0h8m-5 4h8m-5-2h8m-4-1h8m-7 8h8m1-3h8m-8-8h8m-6 2h8m-5 7h8m-4-6h8m-7 1h8m-7-3h8m-6 4h8m-7-4h8m-8 1h8m-5 10h8m-6-6h8m-8-5h8m-7 6h8m-7 5h8m-7-4h8m-7 1h8m0-2h8m-8-4h8m-8-3h8m-6 11h8m-7-2h8m-7-3h8m-5 0h8m-6-1h8m-6-3h8m-8 8h8m-5 1h8m-7-6h8m-7-1h8m-4 2h8m-6 4h8m-7-10h8m-4 7h8m-8-1h8m-6-2h8m-6 2h8m-8 0h8m-7 5h8m-7-6h8m-7-4h8m-5 3h8m-5 1h8m-8 7h8m-7-5h8m-5 2h8m-7-2h8m-6-4h8m-3 5h8m-3-7h8m-8 4h8m-7 6h8" stroke="rgb(71, 149, 146)" stroke-width="8" stroke-opacity="0.65" fill="none"/>
<path transform="translate(156.6 420.4) scale(.1)" d="M510 237h8m-2 2h8m-1 0h8m0-1h8m-4 0h8m-2 0h8m3 1h8m-5 0h8m-66 2h8m-7 14h8m-7 0h8m-7-11h8m-7-3h8m-8 15h8m-7-6h8m-6-6h8m-8 6h8m-8 0h8m-8 6h8m-5-14h8m-6-1h8m-6 2h8m-7 2h8m-8-1h8m-8 4h8m-7 6h8m-7-5h8m-7 3h8m-6 1h8m-7-8h8m-6-1h8m-8-2h8m-8 10h8m-8-3h8m-8 0h8m-7-9h8m-7 15h8m-3-12h8m-8-3h8m-6 8h8m-7 0h8m-8-8h8m-8 5h8m-8-5h8m-6 3h8m-8 13h8m-5-7h8m-7-6h8m-7 4h8m-7 6h8m-7-4h8m-7 7h8m-6-6h8m-4-3h8m-8 6h8m-7-13h8m-7 14h8m-7 1h8m-7 1h8m-8-6h8m-8 6h8m-6-6h8m-8 2h8m-7-2h8m-7-1h8m-7-6h8m-5 14h8m-10 12h8m-8-8h8m-8 14h8m-7-14h8m-6 5h8m-7 0h8m-7-1h8m-3 6h8m-6 4h8m-6-12h8m-8-3h8m-8 16h8m-8-1h8m-6-7h8m-8 1h8m-8-7h8m-5-2h8m-7 4h8m-85 53h8m-8 2h8m-2 0h8m-4-2h8m-8 0h8m-7 0h8m44 1h8m-8 0h8m-7-1h8m-5 2h8m-4-2h8m-80 12h8m-8-7h8m-5 6h8m-7 4h8m-7-10h8m-7 13h8m-6-15h8m-6 8h8m-8-4h8m-8 6h8m-6-9h8m-8 12h8m-3 2h8m8 4h8m-3-1h8m13-12h8m-5-6h8m-6 5h8m-7 2h8m-5 4h8m-8 0h8m-7-1h8m-8-3h8m-7-5h8m-6-1h8m-6 11h8m-7-2h8m-8-8h8m-7 0h8m-8-2h8m-7 1h8m-67 20h8m-5 8h8m-8-1h8m-7-5h8m-7 8h8m-7-2h8m-7-4h8m-7-1h8m-8-4h8m-8 12h8m-6-10h8m-5 0h8m-8 11h8m-7-3h8m-7-4h8m-7-2h8m-6 5h8m-7-7h8m14 155h8m-8 0h8m0-3h8m-4 4h8m-7-3h8m-5-1h8m-8 0h8m-7 0h8m-7 1h8m-3 2h8m-7-3h8m-7-1h8m-6 6h8m-6-2h8m-4 2h8m-8 0h8m-3 0h8m-47 10h8m-8 2h8m-5-9h8m-7 10h8m-8-10h8m-7 3h8m-6 3h8m-8-6h8m-6 3h8m-7 3h8m-5-8h8m-6 10h8m-8-9h8m-7 4h8m-8-3h8m-8 8h8m-3 3h8m-6-8h8m-8-1h8m-7 0h8m-7-4h8m-7 1h8m-8 11h8m-8-6h8m-5-3h8m-8 0h8m-8 5h8m-7-6h8m-5-2h8m-7 3h8m-6-2h8m-7 4h8m-7 8h8" stroke="rgb(90, 159, 115)" stroke-width="8" stroke-opacity="0.70" fill="none"/>
<path transform="translate(156.6 420.4) scale(.1)" d="M498 259h8m9-2h8m17 1h8m-1 0h8m-5 1h8m-61 20h8m-6-5h8m-8-5h8m-8-4h8m-7 8h8m-8 6h8m-8-11h8m-7-2h8m-8 2h8m-6 4h8m-7-2h8m-7-7h8m-8 14h8m-7-4h8m-7-3h8m-7 1h8m-6 3h8m-8-9h8m-8 14h8m-7-1h8m-8-10h8m-7-5h8m-8 14h8m-7-4h8m-8-9h8m-6-4h8m14 3h8m-8 12h8m-8-11h8m-8-1h8m-8-1h8m-7 13h8m-8-12h8m-7 5h8m-8-5h8m-6 5h8m-6-1h8m-7-4h8m-8 0h8m-8 8h8m-6 2h8m-8-13h8m-6 13h8m-8-5h8m-6 4h8m-2 3h8m-6 3h8m-7 1h8m-8 0h8m-7-2h8m-8 2h8m-7 0h8m-6-2h8m-6 2h8m-1-1h8m-83 18h8m-8-13h8m-7 14h8m-7 0h8m-7-17h8m-8 7h8m-7 10h8m-8-16h8m-8 11h8m-6-2h8m-7-10h8m-8 9h8m-8 7h8m-5-7h8m-8-9h8m-7 5h8m-7 8h8m-8-2h8m-7 3h8m-8-2h8m-3-6h8m-7-1h8m32 1h8m-7 9h8m-7 3h8m-8 0h8m-8-5h8m-8-4h8m-7 4h8m-8-7h8m-7 4h8m-7 9h8m-8-18h8m-7 1h8m-8 9h8m-7 4h8m-8-2h8m-7 2h8m-7-6h8m-6 0h8m-7 6h8m-7-7h8m-8 2h8m-8 9h8m-7-19h8m-4 19h8m-7-12h8m-87 22h8m-7 5h8m-5-14h8m-8 14h8m-7-8h8m-7 9h8m-7-9h8m-6-3h8m-6-1h8m-8 9h8m-8-2h8m-7 2h8m-7-7h8m-7 9h8m-8 1h8m-6 1h8m-8-6h8m-7 2h8m-8 4h8m-7-5h8m-7-2h8m-7 5h8m-8-6h8m-5 11h8m-3-1h8m-4 0h8m-4-1h8m-3 1h8m-6 2h8m0-2h8m1-12h8m-7 2h8m-8-4h8m-8 6h8m-7 4h8m-8-5h8m-6 1h8m-5 4h8m-7-2h8m-7 4h8m-5-8h8m-6-5h8m-7 7h8m-8 5h8m-7-13h8m-8 5h8m-7-6h8m-64 25h8m-6 9h8m-8-2h8m-7-10h8m-7-1h8m-8 6h8m-6-6h8m-5 13h8m-8-14h8m-8 12h8m-7-11h8m-8 6h8m-8 5h8m-8-9h8m-7 5h8m-7 0h8m-8 3h8m-8-8h8m-7 2h8m-4-4h8m-7 7h8m-7-3h8m-8 9h8m-7-1h8m-7 0h8m-8-10h8m-8-2h8m-7 0h8m-8 12h8m-7-1h8m-8 3h8m-8-5h8m-7 0h8m-6-9h8m-8 0h8m-6 2h8m-7 11h8m-7-6h8m-2 1h8m-7 4h8m-7-3h8" stroke="rgb(133, 172, 84)" stroke-width="8" stroke-opacity="0.75" fill="none"/>
<path transform="translate(156.6 420.4) scale(.1)" d="M518 257h8m1 1h8m-19 20h8m-7-3h8m-7-4h8m-8-7h8m-7 7h8m-7-3h8m-8-8h8m-7 10h8m-7-2h8m-8 9h8m-7 0h8m-6 1h8m-8-9h8m-7-3h8m-7 9h8m-8-8h8m-8 0h8m-8 6h8m-7-6h8m-5-2h8m-8 14h8m-8 0h8m-8-4h8m-7-7h8m-8 7h8m-7-3h8m-7-5h8m-4 10h8m-8 2h8m-7-2h8m-8 1h8m-2-1h8m-35 5h8m-7 10h8m-8 1h8m-6-13h8m-7 8h8m-8-3h8m-8 6h8m-8-1h8m-7 5h8m-8 2h8m-8-3h8m-8-13h8m-6-1h8m-7 8h8m-8 9h8m-8-14h8m-8 3h8m-8-1h8m-7 13h8m-8-11h8m-7 5h8m-8 3h8m-8-11h8m-8 9h8m-8-2h8m-6-8h8m-8-2h8m-8 13h8m-6-10h8m-8 8h8m-8 0h8m-8 0h8m-7-2h8m-8 5h8m-7 4h8m-8-15h8m-7 13h8m-8-15h8m-5 11h8m-8-13h8m-7 17h8m-8 1h8m-8-13h8m-7-3h8m-8-2h8m-8 9h8m-8-5h8m-8 8h8m-6-3h8m-8-2h8m-7 2h8m-8-1h8m-7 11h8m-6-16h8m-8 12h8m-6-10h8m-6 9h8m-7-5h8m-8-1h8m-7 9h8m-6-8h8m-8-1h8m-8-1h8m-7 2h8m-8 5h8m-8-3h8m-46 23h8m-7-12h8m-3 2h8m-7 8h8m-8 1h8m-8 1h8m-4-12h8m-8 10h8m-8-12h8m-8 9h8m-4-4h8m-8 2h8m-5 2h8m-7 6h8m-7-14h8m-6 2h8m-8 9h8m-7-10h8m-7 11h8m-7-11h8m-2 3h8m-7 0h8m-7 3h8m-7-8h8m-6 5h8m-8 3h8m-7-8h8m-8 8h8m-7-2h8m-8 2h8m-8-7h8m-7 0h8" stroke="rgb(199, 173, 53)" stroke-width="8" stroke-opacity="0.80" fill="none"/>
<line x1="46.60" y1="324.60" x2="48.40" y2="324.60" stroke="#231f20" stroke-width="0.7"/>
<text x="46.40" y="327.00" font-size="7.0" text-anchor="end" fill="#231f20">10<tspan font-size="4.48" dy="-2.94">5</tspan></text>
<line x1="46.60" y1="343.60" x2="48.40" y2="343.60" stroke="#231f20" stroke-width="0.7"/>
<text x="46.40" y="346.00" font-size="7.0" text-anchor="end" fill="#231f20">10<tspan font-size="4.48" dy="-2.94">4</tspan></text>
<line x1="46.60" y1="364.70" x2="48.40" y2="364.70" stroke="#231f20" stroke-width="0.7"/>
<text x="46.40" y="367.10" font-size="7.0" text-anchor="end" fill="#231f20">10<tspan font-size="4.48" dy="-2.94">3</tspan></text>
<line x1="46.60" y1="377.90" x2="48.40" y2="377.90" stroke="#231f20" stroke-width="0.7"/>
<text x="43.00" y="380.30" font-size="7.0" text-anchor="end">0</text>
<line x1="46.60" y1="390.30" x2="48.40" y2="390.30" stroke="#231f20" stroke-width="0.7"/>
<text x="46.40" y="392.70" font-size="7.0" text-anchor="end" fill="#231f20">−10<tspan font-size="4.48" dy="-2.94">3</tspan></text>
<rect x="47.20" y="376.00" width="1.60" height="3.50" fill="#111"/>
<line x1="52.70" y1="395.00" x2="52.70" y2="396.80" stroke="#231f20" stroke-width="0.7"/>
<text x="53.70" y="405.60" font-size="7.0" text-anchor="middle" fill="#231f20">−10<tspan font-size="4.5" dy="-2.9">3</tspan></text>
<line x1="66.20" y1="395.00" x2="66.20" y2="396.80" stroke="#231f20" stroke-width="0.7"/>
<text x="66.20" y="405.60" font-size="7.0" text-anchor="middle">0</text>
<line x1="78.20" y1="395.00" x2="78.20" y2="396.80" stroke="#231f20" stroke-width="0.7"/>
<text x="79.20" y="405.60" font-size="7.0" text-anchor="middle" fill="#231f20">10<tspan font-size="4.5" dy="-2.9">3</tspan></text>
<line x1="99.40" y1="395.00" x2="99.40" y2="396.80" stroke="#231f20" stroke-width="0.7"/>
<text x="100.40" y="405.60" font-size="7.0" text-anchor="middle" fill="#231f20">10<tspan font-size="4.5" dy="-2.9">4</tspan></text>
<line x1="117.80" y1="395.00" x2="117.80" y2="396.80" stroke="#231f20" stroke-width="0.7"/>
<text x="118.80" y="405.60" font-size="7.0" text-anchor="middle" fill="#231f20">10<tspan font-size="4.5" dy="-2.9">5</tspan></text>
<rect x="64.20" y="394.60" width="3.80" height="1.80" fill="#111"/>
<rect x="48.40" y="317.40" width="77.80" height="77.60" fill="none" stroke="#111" stroke-width="1.3"/>
<line x1="154.80" y1="324.50" x2="156.60" y2="324.50" stroke="#231f20" stroke-width="0.7"/>
<text x="154.60" y="326.90" font-size="7.0" text-anchor="end" fill="#231f20">10<tspan font-size="4.48" dy="-2.94">5</tspan></text>
<line x1="154.80" y1="343.50" x2="156.60" y2="343.50" stroke="#231f20" stroke-width="0.7"/>
<text x="154.60" y="345.90" font-size="7.0" text-anchor="end" fill="#231f20">10<tspan font-size="4.48" dy="-2.94">4</tspan></text>
<line x1="154.80" y1="364.60" x2="156.60" y2="364.60" stroke="#231f20" stroke-width="0.7"/>
<text x="154.60" y="367.00" font-size="7.0" text-anchor="end" fill="#231f20">10<tspan font-size="4.48" dy="-2.94">3</tspan></text>
<line x1="154.80" y1="377.80" x2="156.60" y2="377.80" stroke="#231f20" stroke-width="0.7"/>
<text x="151.20" y="380.20" font-size="7.0" text-anchor="end">0</text>
<line x1="154.80" y1="390.20" x2="156.60" y2="390.20" stroke="#231f20" stroke-width="0.7"/>
<text x="154.60" y="392.60" font-size="7.0" text-anchor="end" fill="#231f20">−10<tspan font-size="4.48" dy="-2.94">3</tspan></text>
<rect x="155.40" y="375.90" width="1.60" height="3.50" fill="#111"/>
<line x1="160.90" y1="395.00" x2="160.90" y2="396.80" stroke="#231f20" stroke-width="0.7"/>
<text x="161.90" y="405.60" font-size="7.0" text-anchor="middle" fill="#231f20">−10<tspan font-size="4.5" dy="-2.9">3</tspan></text>
<line x1="174.40" y1="395.00" x2="174.40" y2="396.80" stroke="#231f20" stroke-width="0.7"/>
<text x="174.40" y="405.60" font-size="7.0" text-anchor="middle">0</text>
<line x1="186.40" y1="395.00" x2="186.40" y2="396.80" stroke="#231f20" stroke-width="0.7"/>
<text x="187.40" y="405.60" font-size="7.0" text-anchor="middle" fill="#231f20">10<tspan font-size="4.5" dy="-2.9">3</tspan></text>
<line x1="207.60" y1="395.00" x2="207.60" y2="396.80" stroke="#231f20" stroke-width="0.7"/>
<text x="208.60" y="405.60" font-size="7.0" text-anchor="middle" fill="#231f20">10<tspan font-size="4.5" dy="-2.9">4</tspan></text>
<line x1="226.00" y1="395.00" x2="226.00" y2="396.80" stroke="#231f20" stroke-width="0.7"/>
<text x="227.00" y="405.60" font-size="7.0" text-anchor="middle" fill="#231f20">10<tspan font-size="4.5" dy="-2.9">5</tspan></text>
<rect x="172.40" y="394.60" width="3.80" height="1.80" fill="#111"/>
<rect x="156.60" y="317.30" width="77.90" height="77.70" fill="none" stroke="#111" stroke-width="1.3"/>
<line x1="46.60" y1="427.80" x2="48.40" y2="427.80" stroke="#231f20" stroke-width="0.7"/>
<text x="46.40" y="430.20" font-size="7.0" text-anchor="end" fill="#231f20">10<tspan font-size="4.48" dy="-2.94">5</tspan></text>
<line x1="46.60" y1="446.80" x2="48.40" y2="446.80" stroke="#231f20" stroke-width="0.7"/>
<text x="46.40" y="449.20" font-size="7.0" text-anchor="end" fill="#231f20">10<tspan font-size="4.48" dy="-2.94">4</tspan></text>
<line x1="46.60" y1="467.90" x2="48.40" y2="467.90" stroke="#231f20" stroke-width="0.7"/>
<text x="46.40" y="470.30" font-size="7.0" text-anchor="end" fill="#231f20">10<tspan font-size="4.48" dy="-2.94">3</tspan></text>
<line x1="46.60" y1="481.10" x2="48.40" y2="481.10" stroke="#231f20" stroke-width="0.7"/>
<text x="43.00" y="483.50" font-size="7.0" text-anchor="end">0</text>
<line x1="46.60" y1="493.50" x2="48.40" y2="493.50" stroke="#231f20" stroke-width="0.7"/>
<text x="46.40" y="495.90" font-size="7.0" text-anchor="end" fill="#231f20">−10<tspan font-size="4.48" dy="-2.94">3</tspan></text>
<rect x="47.20" y="479.20" width="1.60" height="3.50" fill="#111"/>
<line x1="52.70" y1="499.50" x2="52.70" y2="501.30" stroke="#231f20" stroke-width="0.7"/>
<text x="53.70" y="510.10" font-size="7.0" text-anchor="middle" fill="#231f20">−10<tspan font-size="4.5" dy="-2.9">3</tspan></text>
<line x1="66.20" y1="499.50" x2="66.20" y2="501.30" stroke="#231f20" stroke-width="0.7"/>
<text x="66.20" y="510.10" font-size="7.0" text-anchor="middle">0</text>
<line x1="78.20" y1="499.50" x2="78.20" y2="501.30" stroke="#231f20" stroke-width="0.7"/>
<text x="79.20" y="510.10" font-size="7.0" text-anchor="middle" fill="#231f20">10<tspan font-size="4.5" dy="-2.9">3</tspan></text>
<line x1="99.40" y1="499.50" x2="99.40" y2="501.30" stroke="#231f20" stroke-width="0.7"/>
<text x="100.40" y="510.10" font-size="7.0" text-anchor="middle" fill="#231f20">10<tspan font-size="4.5" dy="-2.9">4</tspan></text>
<line x1="117.80" y1="499.50" x2="117.80" y2="501.30" stroke="#231f20" stroke-width="0.7"/>
<text x="118.80" y="510.10" font-size="7.0" text-anchor="middle" fill="#231f20">10<tspan font-size="4.5" dy="-2.9">5</tspan></text>
<rect x="64.20" y="499.10" width="3.80" height="1.80" fill="#111"/>
<rect x="48.40" y="420.60" width="78.40" height="78.90" fill="none" stroke="#111" stroke-width="1.3"/>
<line x1="154.80" y1="427.60" x2="156.60" y2="427.60" stroke="#231f20" stroke-width="0.7"/>
<text x="154.60" y="430.00" font-size="7.0" text-anchor="end" fill="#231f20">10<tspan font-size="4.48" dy="-2.94">5</tspan></text>
<line x1="154.80" y1="446.60" x2="156.60" y2="446.60" stroke="#231f20" stroke-width="0.7"/>
<text x="154.60" y="449.00" font-size="7.0" text-anchor="end" fill="#231f20">10<tspan font-size="4.48" dy="-2.94">4</tspan></text>
<line x1="154.80" y1="467.70" x2="156.60" y2="467.70" stroke="#231f20" stroke-width="0.7"/>
<text x="154.60" y="470.10" font-size="7.0" text-anchor="end" fill="#231f20">10<tspan font-size="4.48" dy="-2.94">3</tspan></text>
<line x1="154.80" y1="480.90" x2="156.60" y2="480.90" stroke="#231f20" stroke-width="0.7"/>
<text x="151.20" y="483.30" font-size="7.0" text-anchor="end">0</text>
<line x1="154.80" y1="493.30" x2="156.60" y2="493.30" stroke="#231f20" stroke-width="0.7"/>
<text x="154.60" y="495.70" font-size="7.0" text-anchor="end" fill="#231f20">−10<tspan font-size="4.48" dy="-2.94">3</tspan></text>
<rect x="155.40" y="479.00" width="1.60" height="3.50" fill="#111"/>
<line x1="160.90" y1="499.30" x2="160.90" y2="501.10" stroke="#231f20" stroke-width="0.7"/>
<text x="161.90" y="509.90" font-size="7.0" text-anchor="middle" fill="#231f20">−10<tspan font-size="4.5" dy="-2.9">3</tspan></text>
<line x1="174.40" y1="499.30" x2="174.40" y2="501.10" stroke="#231f20" stroke-width="0.7"/>
<text x="174.40" y="509.90" font-size="7.0" text-anchor="middle">0</text>
<line x1="186.40" y1="499.30" x2="186.40" y2="501.10" stroke="#231f20" stroke-width="0.7"/>
<text x="187.40" y="509.90" font-size="7.0" text-anchor="middle" fill="#231f20">10<tspan font-size="4.5" dy="-2.9">3</tspan></text>
<line x1="207.60" y1="499.30" x2="207.60" y2="501.10" stroke="#231f20" stroke-width="0.7"/>
<text x="208.60" y="509.90" font-size="7.0" text-anchor="middle" fill="#231f20">10<tspan font-size="4.5" dy="-2.9">4</tspan></text>
<line x1="226.00" y1="499.30" x2="226.00" y2="501.10" stroke="#231f20" stroke-width="0.7"/>
<text x="227.00" y="509.90" font-size="7.0" text-anchor="middle" fill="#231f20">10<tspan font-size="4.5" dy="-2.9">5</tspan></text>
<rect x="172.40" y="498.90" width="3.80" height="1.80" fill="#111"/>
<rect x="156.60" y="420.40" width="79.40" height="78.90" fill="none" stroke="#111" stroke-width="1.3"/>
<rect x="97.5" y="323.6" width="25.30" height="24.60" fill="none" stroke="#333" stroke-width="0.9"/>
<rect x="206.4" y="323.6" width="24.80" height="25.30" fill="none" stroke="#333" stroke-width="0.9"/>
<rect x="98.5" y="427.1" width="25.00" height="24.70" fill="none" stroke="#333" stroke-width="0.9"/>
<rect x="206.5" y="427.6" width="25.00" height="24.70" fill="none" stroke="#333" stroke-width="0.9"/>
<text x="51.8" y="325.10" font-size="4.4" fill="#3a3a3a" textLength="17.7" lengthAdjust="spacingAndGlyphs">sgAAVS1</text>
<text x="51.8" y="329.90" font-size="4.4" fill="#3a3a3a" textLength="30" lengthAdjust="spacingAndGlyphs">CD34<tspan font-size="2.8" dy="-1.7">+</tspan><tspan dy="1.7">, CD117</tspan><tspan font-size="2.8" dy="-1.7">+</tspan></text>
<text x="159.8" y="324.20" font-size="4.4" fill="#3a3a3a" textLength="21.2" lengthAdjust="spacingAndGlyphs">sgAAVS1 +</text>
<text x="159.8" y="328.90" font-size="4.4" fill="#3a3a3a" textLength="29.3" lengthAdjust="spacingAndGlyphs">sgCEBPA cisRE</text>
<text x="159.8" y="333.80" font-size="4.4" fill="#3a3a3a" textLength="30.4" lengthAdjust="spacingAndGlyphs">CD34<tspan font-size="2.8" dy="-1.7">+</tspan><tspan dy="1.7">, CD117</tspan><tspan font-size="2.8" dy="-1.7">+</tspan></text>
<text x="52.2" y="427.50" font-size="4.4" fill="#3a3a3a" textLength="21.6" lengthAdjust="spacingAndGlyphs">sgMECOM</text>
<text x="52.2" y="433.00" font-size="4.4" fill="#3a3a3a" textLength="29.6" lengthAdjust="spacingAndGlyphs">CD34<tspan font-size="2.8" dy="-1.7">+</tspan><tspan dy="1.7">, CD117</tspan><tspan font-size="2.8" dy="-1.7">+</tspan></text>
<text x="162.2" y="426.80" font-size="4.4" fill="#3a3a3a" textLength="25.3" lengthAdjust="spacingAndGlyphs">sgMECOM +</text>
<text x="162.2" y="431.80" font-size="4.4" fill="#3a3a3a" textLength="29.2" lengthAdjust="spacingAndGlyphs">sgCEBPA cisRE</text>
<text x="162.2" y="437.00" font-size="4.4" fill="#3a3a3a" textLength="30.7" lengthAdjust="spacingAndGlyphs">CD34<tspan font-size="2.8" dy="-1.7">+</tspan><tspan dy="1.7">, CD117</tspan><tspan font-size="2.8" dy="-1.7">+</tspan></text>
<text x="141.90" y="311.90" font-size="8.2" text-anchor="middle" textLength="65.50" lengthAdjust="spacingAndGlyphs" stroke="#231f20" stroke-width="0.16">Patient 1 - Day 6</text>
<line x1="19.00" y1="317.00" x2="19.00" y2="380.00" stroke="#333" stroke-width="1.2"/>
<line x1="19.00" y1="436.00" x2="19.00" y2="499.50" stroke="#333" stroke-width="1.2"/>
<text x="22.20" y="408.20" font-size="8.8" text-anchor="middle" textLength="20.70" lengthAdjust="spacingAndGlyphs" fill="#2a2a2a" stroke="#2a2a2a" stroke-width="0.16" transform="rotate(-90 22.20 408.20)">CD117</text>
<line x1="47.50" y1="522.60" x2="114.90" y2="522.60" stroke="#333" stroke-width="1.2"/>
<line x1="169.30" y1="522.60" x2="236.10" y2="522.60" stroke="#333" stroke-width="1.2"/>
<text x="141.80" y="525.00" font-size="8.8" text-anchor="middle" textLength="16.60" lengthAdjust="spacingAndGlyphs" fill="#2a2a2a" stroke="#2a2a2a" stroke-width="0.16">CD34</text>
<path d="M274.1 349.6L274.10 349.60L274.65 348.43L275.20 347.44L275.75 346.51L276.30 345.71L276.85 344.33L277.40 342.75L277.95 341.27L278.50 340.59L279.05 339.67L279.60 338.39L280.15 337.04L280.70 336.49L281.25 337.77L281.80 337.44L282.35 336.87L282.90 337.91L283.45 338.38L284.00 339.72L284.55 340.88L285.10 341.80L285.65 343.06L286.20 343.47L286.75 343.95L287.30 344.76L287.85 345.09L288.40 344.42L288.95 345.09L289.50 345.00L290.05 345.30L290.60 344.99L291.15 345.44L291.70 345.47L292.25 345.39L292.80 345.11L293.35 345.27L293.90 345.01L294.45 344.88L295.00 345.35L295.55 344.87L296.10 345.57L296.65 345.31L297.20 344.26L297.75 344.95L298.30 344.34L298.85 344.64L299.40 344.40L299.95 343.27L300.50 343.70L301.05 343.39L301.60 343.65L302.15 342.32L302.70 342.63L303.25 341.26L303.80 341.05L304.35 340.27L304.90 340.75L305.45 339.78L306.00 340.04L306.55 338.66L307.10 338.17L307.65 337.59L308.20 336.36L308.75 336.02L309.30 336.15L309.85 334.87L310.40 334.63L310.95 334.04L311.50 333.64L312.05 332.50L312.60 332.51L313.15 332.65L313.70 332.56L314.25 332.04L314.80 332.67L315.35 331.52L315.90 331.41L316.45 331.10L317.00 330.71L317.55 328.72L318.10 327.19L318.65 325.86L319.20 325.77L319.75 324.71L320.30 324.27L320.85 324.82L321.40 323.71L321.95 324.44L322.50 325.06L323.05 325.25L323.60 324.88L324.15 325.08L324.70 324.14L325.25 323.71L325.80 323.72L326.35 326.38L326.90 329.95L327.45 334.40L328.00 337.12L328.55 339.97L329.10 342.48L329.65 344.30L330.20 346.23L330.75 347.61L331.30 349.09L331.5 349.6Z" fill="#ab8dc5" stroke="#6f4d93" stroke-width="0.65" stroke-linejoin="round"/>
<path d="M274.1 381.6L274.10 381.60L274.65 381.31L275.20 380.92L275.75 380.81L276.30 380.42L276.85 379.98L277.40 379.90L277.95 379.46L278.50 379.04L279.05 378.71L279.60 378.30L280.15 378.25L280.70 378.28L281.25 377.66L281.80 377.64L282.35 377.88L282.90 376.94L283.45 377.58L284.00 377.59L284.55 377.56L285.10 377.76L285.65 378.22L286.20 378.52L286.75 378.48L287.30 378.80L287.85 379.12L288.40 379.22L288.95 379.39L289.50 379.37L290.05 379.42L290.60 379.68L291.15 379.53L291.70 379.49L292.25 379.59L292.80 379.27L293.35 379.31L293.90 379.45L294.45 379.37L295.00 379.48L295.55 379.15L296.10 378.81L296.65 379.41L297.20 379.16L297.75 378.55L298.30 378.92L298.85 378.45L299.40 377.83L299.95 378.01L300.50 377.81L301.05 378.24L301.60 377.38L302.15 377.27L302.70 376.69L303.25 376.07L303.80 375.26L304.35 375.20L304.90 375.03L305.45 374.26L306.00 373.00L306.55 372.34L307.10 372.37L307.65 371.56L308.20 371.16L308.75 370.24L309.30 371.44L309.85 370.53L310.40 369.19L310.95 369.53L311.50 369.22L312.05 367.04L312.60 367.36L313.15 366.92L313.70 366.88L314.25 365.78L314.80 364.93L315.35 364.19L315.90 364.41L316.45 363.97L317.00 362.18L317.55 361.19L318.10 361.89L318.65 359.33L319.20 358.67L319.75 358.09L320.30 357.59L320.85 357.15L321.40 356.37L321.95 355.38L322.50 355.72L323.05 355.58L323.60 356.29L324.15 355.42L324.70 354.80L325.25 355.20L325.80 356.65L326.35 357.33L326.90 359.23L327.45 362.92L328.00 366.73L328.55 371.01L329.10 373.04L329.65 376.52L330.20 379.00L330.75 381.36L330.8 381.6Z" fill="#8fd1f0" stroke="#3aa9dc" stroke-width="0.65" stroke-linejoin="round"/>
<path d="M276.6 414.0L276.60 414.00L277.15 410.93L277.70 407.70L278.25 403.99L278.80 400.68L279.35 397.68L279.90 392.95L280.45 389.37L281.00 386.89L281.55 386.19L282.10 385.65L282.65 387.48L283.20 386.91L283.75 390.70L284.30 394.29L284.85 396.84L285.40 399.50L285.95 399.23L286.50 401.54L287.05 403.23L287.60 403.12L288.15 404.21L288.70 405.73L289.25 405.67L289.80 405.81L290.35 406.45L290.90 406.56L291.45 407.31L292.00 407.35L292.55 407.13L293.10 407.08L293.65 407.47L294.20 408.21L294.75 407.89L295.30 408.14L295.85 407.90L296.40 407.47L296.95 407.80L297.50 408.46L298.05 408.28L298.60 407.92L299.15 407.68L299.70 408.48L300.25 408.35L300.80 408.42L301.35 408.51L301.90 408.83L302.45 408.91L303.00 409.24L303.55 409.29L304.10 409.51L304.65 409.34L305.20 408.95L305.75 409.09L306.30 409.32L306.85 409.07L307.40 409.41L307.95 409.66L308.50 409.00L309.05 408.76L309.60 409.93L310.15 409.69L310.70 410.06L311.25 409.60L311.80 410.66L312.35 410.52L312.90 410.44L313.45 410.55L314.00 410.84L314.55 410.94L315.10 411.09L315.65 411.10L316.20 411.73L316.75 411.65L317.30 411.84L317.85 412.02L318.40 411.86L318.95 412.42L319.50 412.49L320.05 412.67L320.60 412.88L321.15 412.96L321.70 413.20L322.25 413.23L322.80 413.34L323.35 413.47L323.90 413.62L324.45 413.75L325.00 413.84L325.55 413.96L325.7 414.0Z" fill="#93d8a4" stroke="#4fb26e" stroke-width="0.65" stroke-linejoin="round"/>
<path d="M275.8 446.0L275.80 446.00L276.35 444.25L276.90 443.05L277.45 441.13L278.00 439.07L278.55 437.31L279.10 436.03L279.65 434.69L280.20 432.72L280.75 431.93L281.30 431.34L281.85 429.41L282.40 428.65L282.95 428.36L283.50 428.91L284.05 430.05L284.60 430.94L285.15 432.12L285.70 434.41L286.25 433.81L286.80 434.84L287.35 436.78L287.90 436.56L288.45 436.45L289.00 436.54L289.55 437.15L290.10 436.50L290.65 436.19L291.20 435.50L291.75 435.80L292.30 435.15L292.85 434.80L293.40 434.44L293.95 434.35L294.50 433.82L295.05 433.95L295.60 432.56L296.15 432.68L296.70 433.18L297.25 431.99L297.80 432.15L298.35 431.76L298.90 431.48L299.45 430.86L300.00 429.38L300.55 429.33L301.10 428.73L301.65 427.65L302.20 427.44L302.75 426.12L303.30 424.98L303.85 424.86L304.40 423.99L304.95 423.04L305.50 422.20L306.05 421.41L306.60 420.50L307.15 419.94L307.70 419.64L308.25 419.20L308.80 419.41L309.35 419.31L309.90 419.29L310.45 419.07L311.00 419.32L311.55 420.15L312.10 420.21L312.65 420.95L313.20 420.51L313.75 421.49L314.30 424.42L314.85 425.91L315.40 427.70L315.95 428.71L316.50 430.10L317.05 431.66L317.60 432.21L318.15 434.29L318.70 434.66L319.25 436.27L319.80 437.34L320.35 438.58L320.90 440.02L321.45 440.56L322.00 441.76L322.55 442.82L323.10 444.09L323.65 445.37L324.0 446.0Z" fill="#fcbb6b" stroke="#f39a35" stroke-width="0.65" stroke-linejoin="round"/>
<line x1="261.00" y1="349.60" x2="342.20" y2="349.60" stroke="#6f4d93" stroke-width="0.9"/>
<line x1="261.00" y1="381.60" x2="342.20" y2="381.60" stroke="#3aa9dc" stroke-width="0.9"/>
<line x1="261.00" y1="414.00" x2="342.20" y2="414.00" stroke="#4fb26e" stroke-width="0.9"/>
<path d="M377.9 348.8L377.90 348.80L378.45 346.18L379.00 343.40L379.55 340.35L380.10 337.28L380.65 333.31L381.20 330.22L381.75 327.05L382.30 323.50L382.85 322.05L383.40 321.20L383.95 322.82L384.50 325.24L385.05 330.20L385.60 332.55L386.15 335.03L386.70 339.04L387.25 340.27L387.80 340.59L388.35 341.12L388.90 341.24L389.45 341.54L390.00 342.13L390.55 342.39L391.10 342.57L391.65 342.41L392.20 342.21L392.75 342.45L393.30 343.15L393.85 343.41L394.40 342.72L394.95 342.78L395.50 343.61L396.05 343.47L396.60 343.54L397.15 342.79L397.70 343.26L398.25 343.30L398.80 343.67L399.35 343.04L399.90 344.27L400.45 344.01L401.00 344.16L401.55 343.70L402.10 344.21L402.65 344.79L403.20 343.95L403.75 344.67L404.30 344.91L404.85 344.60L405.40 345.17L405.95 344.95L406.50 345.48L407.05 345.35L407.60 345.34L408.15 345.88L408.70 345.64L409.25 345.83L409.80 345.29L410.35 345.51L410.90 345.94L411.45 346.05L412.00 345.93L412.55 346.19L413.10 345.91L413.65 346.26L414.20 346.10L414.75 346.47L415.30 346.42L415.85 346.48L416.40 346.67L416.95 347.03L417.50 346.68L418.05 346.82L418.60 347.14L419.15 347.02L419.70 347.37L420.25 347.26L420.80 347.32L421.35 347.42L421.90 347.63L422.45 347.59L423.00 347.65L423.55 347.69L424.10 347.62L424.65 347.76L425.20 348.00L425.75 348.03L426.30 348.09L426.85 348.17L427.40 348.19L427.95 348.31L428.50 348.34L429.05 348.45L429.60 348.50L430.15 348.58L430.70 348.66L431.25 348.73L431.80 348.80L431.8 348.8Z" fill="#ab8dc5" stroke="#6f4d93" stroke-width="0.65" stroke-linejoin="round"/>
<path d="M377.9 381.4L377.90 381.40L378.45 378.59L379.00 376.20L379.55 371.99L380.10 368.13L380.65 365.32L381.20 362.14L381.75 359.48L382.30 356.09L382.85 354.78L383.40 353.06L383.95 354.64L384.50 356.05L385.05 359.40L385.60 363.26L386.15 367.04L386.70 368.23L387.25 367.79L387.80 370.16L388.35 370.80L388.90 370.92L389.45 371.43L390.00 371.82L390.55 371.46L391.10 372.41L391.65 372.40L392.20 372.22L392.75 372.86L393.30 373.57L393.85 372.37L394.40 372.41L394.95 372.54L395.50 374.32L396.05 373.46L396.60 373.68L397.15 373.50L397.70 373.57L398.25 373.22L398.80 374.35L399.35 374.52L399.90 373.64L400.45 374.18L401.00 374.44L401.55 374.89L402.10 375.16L402.65 375.83L403.20 376.19L403.75 376.32L404.30 376.68L404.85 375.99L405.40 376.50L405.95 377.35L406.50 377.24L407.05 377.23L407.60 376.70L408.15 376.82L408.70 377.68L409.25 377.64L409.80 377.54L410.35 377.59L410.90 377.32L411.45 377.98L412.00 378.24L412.55 378.48L413.10 378.18L413.65 378.22L414.20 378.12L414.75 378.73L415.30 378.93L415.85 378.53L416.40 378.82L416.95 378.87L417.50 378.83L418.05 378.54L418.60 378.98L419.15 379.21L419.70 378.92L420.25 379.08L420.80 378.76L421.35 379.55L421.90 379.50L422.45 379.51L423.00 379.55L423.55 379.58L424.10 379.73L424.65 379.80L425.20 379.95L425.75 380.12L426.30 380.27L426.85 380.52L427.40 380.45L427.95 380.70L428.50 380.76L429.05 380.85L429.60 380.92L430.15 381.11L430.70 381.18L431.25 381.29L431.80 381.40L431.8 381.4Z" fill="#8fd1f0" stroke="#3aa9dc" stroke-width="0.65" stroke-linejoin="round"/>
<path d="M379.7 414.2L379.70 414.20L380.25 409.81L380.80 405.41L381.35 401.52L381.90 396.45L382.45 390.43L383.00 386.91L383.55 384.80L384.10 385.61L384.65 387.40L385.20 393.40L385.75 397.80L386.30 401.16L386.85 404.20L387.40 405.44L387.95 408.26L388.50 407.60L389.05 408.61L389.60 408.90L390.15 409.37L390.70 409.74L391.25 410.43L391.80 410.94L392.35 410.91L392.90 411.44L393.45 411.71L394.00 411.23L394.55 411.84L395.10 411.85L395.65 411.99L396.20 412.47L396.75 412.38L397.30 412.38L397.85 412.48L398.40 412.32L398.95 412.79L399.50 412.69L400.05 412.85L400.60 412.91L401.15 413.05L401.70 413.21L402.25 413.18L402.80 413.26L403.35 413.21L403.90 413.32L404.45 413.39L405.00 413.30L405.55 413.55L406.10 413.44L406.65 413.46L407.20 413.65L407.75 413.71L408.30 413.64L408.85 413.70L409.40 413.87L409.95 413.82L410.50 413.82L411.05 413.91L411.60 414.01L412.15 414.03L412.70 414.08L413.25 414.14L413.80 414.18L414.0 414.2Z" fill="#93d8a4" stroke="#4fb26e" stroke-width="0.65" stroke-linejoin="round"/>
<path d="M379.7 446.2L379.70 446.20L380.25 441.15L380.80 437.20L381.35 431.00L381.90 426.31L382.45 422.24L383.00 418.93L383.55 417.80L384.10 418.84L384.65 422.25L385.20 425.91L385.75 428.57L386.30 432.29L386.85 434.94L387.40 435.70L387.95 435.92L388.50 436.87L389.05 437.13L389.60 438.36L390.15 440.09L390.70 440.00L391.25 440.33L391.80 440.98L392.35 441.41L392.90 441.68L393.45 441.86L394.00 442.00L394.55 442.67L395.10 443.13L395.65 442.74L396.20 442.91L396.75 443.46L397.30 443.04L397.85 443.38L398.40 443.59L398.95 443.84L399.50 443.83L400.05 443.81L400.60 444.08L401.15 443.92L401.70 443.92L402.25 443.96L402.80 444.44L403.35 444.18L403.90 444.54L404.45 444.64L405.00 444.73L405.55 444.69L406.10 444.73L406.65 444.87L407.20 444.89L407.75 444.90L408.30 445.20L408.85 445.10L409.40 445.37L409.95 445.35L410.50 445.32L411.05 445.42L411.60 445.51L412.15 445.41L412.70 445.48L413.25 445.52L413.80 445.62L414.35 445.67L414.90 445.69L415.45 445.71L416.00 445.77L416.55 445.87L417.10 445.91L417.65 445.93L418.20 445.95L418.75 446.03L419.30 446.07L419.85 446.12L420.40 446.17L420.8 446.2Z" fill="#fcbb6b" stroke="#f39a35" stroke-width="0.65" stroke-linejoin="round"/>
<line x1="358.40" y1="348.80" x2="446.60" y2="348.80" stroke="#6f4d93" stroke-width="0.9"/>
<line x1="358.40" y1="381.40" x2="446.60" y2="381.40" stroke="#3aa9dc" stroke-width="0.9"/>
<line x1="358.40" y1="414.20" x2="446.60" y2="414.20" stroke="#4fb26e" stroke-width="0.9"/>
<rect x="261.0" y="317.2" width="81.20" height="128.80" fill="none" stroke="#111" stroke-width="1.3"/>
<rect x="358.4" y="316.7" width="88.20" height="129.50" fill="none" stroke="#111" stroke-width="1.3"/>
<line x1="301.71" y1="446.00" x2="301.71" y2="447.80" stroke="#111" stroke-width="0.75"/>
<line x1="305.46" y1="446.00" x2="305.46" y2="447.80" stroke="#111" stroke-width="0.75"/>
<line x1="308.12" y1="446.00" x2="308.12" y2="447.80" stroke="#111" stroke-width="0.75"/>
<line x1="310.19" y1="446.00" x2="310.19" y2="447.80" stroke="#111" stroke-width="0.75"/>
<line x1="311.87" y1="446.00" x2="311.87" y2="447.80" stroke="#111" stroke-width="0.75"/>
<line x1="313.30" y1="446.00" x2="313.30" y2="447.80" stroke="#111" stroke-width="0.75"/>
<line x1="314.54" y1="446.00" x2="314.54" y2="447.80" stroke="#111" stroke-width="0.75"/>
<line x1="315.63" y1="446.00" x2="315.63" y2="447.80" stroke="#111" stroke-width="0.75"/>
<line x1="321.72" y1="446.00" x2="321.72" y2="447.80" stroke="#111" stroke-width="0.75"/>
<line x1="324.71" y1="446.00" x2="324.71" y2="447.80" stroke="#111" stroke-width="0.75"/>
<line x1="326.84" y1="446.00" x2="326.84" y2="447.80" stroke="#111" stroke-width="0.75"/>
<line x1="328.48" y1="446.00" x2="328.48" y2="447.80" stroke="#111" stroke-width="0.75"/>
<line x1="329.83" y1="446.00" x2="329.83" y2="447.80" stroke="#111" stroke-width="0.75"/>
<line x1="330.97" y1="446.00" x2="330.97" y2="447.80" stroke="#111" stroke-width="0.75"/>
<line x1="331.95" y1="446.00" x2="331.95" y2="447.80" stroke="#111" stroke-width="0.75"/>
<line x1="332.82" y1="446.00" x2="332.82" y2="447.80" stroke="#111" stroke-width="0.75"/>
<line x1="272.90" y1="446.00" x2="272.90" y2="448.40" stroke="#111" stroke-width="0.8"/>
<line x1="295.30" y1="446.00" x2="295.30" y2="448.40" stroke="#111" stroke-width="0.8"/>
<line x1="316.60" y1="446.00" x2="316.60" y2="448.40" stroke="#111" stroke-width="0.8"/>
<line x1="333.60" y1="446.00" x2="333.60" y2="448.40" stroke="#111" stroke-width="0.8"/>
<line x1="266.50" y1="446.00" x2="266.50" y2="447.90" stroke="#111" stroke-width="0.75"/>
<line x1="269.50" y1="446.00" x2="269.50" y2="447.90" stroke="#111" stroke-width="0.75"/>
<line x1="276.50" y1="446.00" x2="276.50" y2="447.90" stroke="#111" stroke-width="0.75"/>
<line x1="279.50" y1="446.00" x2="279.50" y2="447.90" stroke="#111" stroke-width="0.75"/>
<line x1="283.50" y1="446.00" x2="283.50" y2="447.90" stroke="#111" stroke-width="0.75"/>
<line x1="287.50" y1="446.00" x2="287.50" y2="447.90" stroke="#111" stroke-width="0.75"/>
<line x1="291.50" y1="446.00" x2="291.50" y2="447.90" stroke="#111" stroke-width="0.75"/>
<text x="272.90" y="458.20" font-size="6.6" text-anchor="middle">0</text>
<text x="296.10" y="458.2" font-size="6.6" text-anchor="middle" fill="#231f20">10<tspan font-size="4.4" dy="-2.8">3</tspan></text>
<text x="316.00" y="458.2" font-size="6.6" text-anchor="middle" fill="#231f20">10<tspan font-size="4.4" dy="-2.8">4</tspan></text>
<text x="334.40" y="458.2" font-size="6.6" text-anchor="middle" fill="#231f20">10<tspan font-size="4.4" dy="-2.8">5</tspan></text>
<line x1="399.88" y1="446.20" x2="399.88" y2="448.00" stroke="#111" stroke-width="0.75"/>
<line x1="404.15" y1="446.20" x2="404.15" y2="448.00" stroke="#111" stroke-width="0.75"/>
<line x1="407.17" y1="446.20" x2="407.17" y2="448.00" stroke="#111" stroke-width="0.75"/>
<line x1="409.52" y1="446.20" x2="409.52" y2="448.00" stroke="#111" stroke-width="0.75"/>
<line x1="411.43" y1="446.20" x2="411.43" y2="448.00" stroke="#111" stroke-width="0.75"/>
<line x1="413.05" y1="446.20" x2="413.05" y2="448.00" stroke="#111" stroke-width="0.75"/>
<line x1="414.45" y1="446.20" x2="414.45" y2="448.00" stroke="#111" stroke-width="0.75"/>
<line x1="415.69" y1="446.20" x2="415.69" y2="448.00" stroke="#111" stroke-width="0.75"/>
<line x1="423.36" y1="446.20" x2="423.36" y2="448.00" stroke="#111" stroke-width="0.75"/>
<line x1="427.20" y1="446.20" x2="427.20" y2="448.00" stroke="#111" stroke-width="0.75"/>
<line x1="429.92" y1="446.20" x2="429.92" y2="448.00" stroke="#111" stroke-width="0.75"/>
<line x1="432.04" y1="446.20" x2="432.04" y2="448.00" stroke="#111" stroke-width="0.75"/>
<line x1="433.76" y1="446.20" x2="433.76" y2="448.00" stroke="#111" stroke-width="0.75"/>
<line x1="435.22" y1="446.20" x2="435.22" y2="448.00" stroke="#111" stroke-width="0.75"/>
<line x1="436.49" y1="446.20" x2="436.49" y2="448.00" stroke="#111" stroke-width="0.75"/>
<line x1="437.60" y1="446.20" x2="437.60" y2="448.00" stroke="#111" stroke-width="0.75"/>
<line x1="364.20" y1="446.20" x2="364.20" y2="448.60" stroke="#111" stroke-width="0.8"/>
<line x1="378.00" y1="446.20" x2="378.00" y2="448.60" stroke="#111" stroke-width="0.8"/>
<line x1="392.60" y1="446.20" x2="392.60" y2="448.60" stroke="#111" stroke-width="0.8"/>
<line x1="416.80" y1="446.20" x2="416.80" y2="448.60" stroke="#111" stroke-width="0.8"/>
<line x1="438.60" y1="446.20" x2="438.60" y2="448.60" stroke="#111" stroke-width="0.8"/>
<line x1="369.00" y1="446.20" x2="369.00" y2="448.10" stroke="#111" stroke-width="0.75"/>
<line x1="373.00" y1="446.20" x2="373.00" y2="448.10" stroke="#111" stroke-width="0.75"/>
<line x1="382.50" y1="446.20" x2="382.50" y2="448.10" stroke="#111" stroke-width="0.75"/>
<line x1="386.50" y1="446.20" x2="386.50" y2="448.10" stroke="#111" stroke-width="0.75"/>
<text x="378.20" y="457.60" font-size="6.6" text-anchor="middle">0</text>
<rect x="376.20" y="445.60" width="4.20" height="1.90" fill="#111"/>
<rect x="270.90" y="445.40" width="4.00" height="1.90" fill="#111"/>
<text x="365.00" y="457.6" font-size="6.6" text-anchor="middle" fill="#231f20">−10<tspan font-size="4.4" dy="-2.8">3</tspan></text>
<text x="393.40" y="457.6" font-size="6.6" text-anchor="middle" fill="#231f20">10<tspan font-size="4.4" dy="-2.8">3</tspan></text>
<text x="417.60" y="457.6" font-size="6.6" text-anchor="middle" fill="#231f20">10<tspan font-size="4.4" dy="-2.8">4</tspan></text>
<text x="439.40" y="457.6" font-size="6.6" text-anchor="middle" fill="#231f20">10<tspan font-size="4.4" dy="-2.8">5</tspan></text>
<line x1="261.20" y1="470.40" x2="337.70" y2="470.40" stroke="#333" stroke-width="1.2"/>
<line x1="365.80" y1="470.40" x2="445.60" y2="470.40" stroke="#333" stroke-width="1.2"/>
<text x="352.60" y="473.10" font-size="8.8" text-anchor="middle" textLength="16.90" lengthAdjust="spacingAndGlyphs" fill="#2a2a2a" stroke="#2a2a2a" stroke-width="0.16">CD34</text>
<text x="301.60" y="311.50" font-size="8.2" text-anchor="middle" textLength="64.80" lengthAdjust="spacingAndGlyphs" stroke="#231f20" stroke-width="0.16">Patient 2 - Day 8</text>
<text x="402.80" y="311.20" font-size="8.2" text-anchor="middle" textLength="64.60" lengthAdjust="spacingAndGlyphs" stroke="#231f20" stroke-width="0.16">Patient 3 - Day 8</text>
<text x="263.90" y="325.20" font-size="6.6" textLength="26.20" lengthAdjust="spacingAndGlyphs" stroke="#231f20" stroke-width="0.16">sgAAVS1</text>
<text x="263.90" y="357.60" font-size="6.6" textLength="33.00" lengthAdjust="spacingAndGlyphs" stroke="#231f20" stroke-width="0.16">sgAAVS1 +</text>
<text x="263.90" y="365.10" font-size="6.6" textLength="46.00" lengthAdjust="spacingAndGlyphs" stroke="#231f20" stroke-width="0.16">sgCEBPA cisRE</text>
<text x="337.30" y="389.90" font-size="6.6" text-anchor="end" textLength="31.80" lengthAdjust="spacingAndGlyphs" stroke="#231f20" stroke-width="0.16">sgMECOM</text>
<text x="264.40" y="421.10" font-size="6.6" textLength="36.50" lengthAdjust="spacingAndGlyphs" stroke="#231f20" stroke-width="0.16">sgMECOM +</text>
<text x="264.40" y="428.40" font-size="6.6" textLength="39.00" lengthAdjust="spacingAndGlyphs" stroke="#231f20" stroke-width="0.16">CEBPA cisRE</text>
<text x="440.30" y="324.80" font-size="6.6" text-anchor="end" textLength="26.20" lengthAdjust="spacingAndGlyphs" stroke="#231f20" stroke-width="0.16">sgAAVS1</text>
<text x="440.30" y="356.40" font-size="6.6" text-anchor="end" textLength="33.00" lengthAdjust="spacingAndGlyphs" stroke="#231f20" stroke-width="0.16">sgAAVS1 +</text>
<text x="440.30" y="364.10" font-size="6.6" text-anchor="end" textLength="46.00" lengthAdjust="spacingAndGlyphs" stroke="#231f20" stroke-width="0.16">sgCEBPA cisRE</text>
<text x="440.30" y="389.30" font-size="6.6" text-anchor="end" textLength="31.80" lengthAdjust="spacingAndGlyphs" stroke="#231f20" stroke-width="0.16">sgMECOM</text>
<text x="440.30" y="420.40" font-size="6.6" text-anchor="end" textLength="36.50" lengthAdjust="spacingAndGlyphs" stroke="#231f20" stroke-width="0.16">sgMECOM +</text>
<text x="440.30" y="428.10" font-size="6.6" text-anchor="end" textLength="39.00" lengthAdjust="spacingAndGlyphs" stroke="#231f20" stroke-width="0.16">CEBPA cisRE</text>
<rect x="260.90" y="485.90" width="10.00" height="4.70" fill="#4b2570"/>
<text x="274.00" y="491.20" font-size="7.0" textLength="27.90" lengthAdjust="spacingAndGlyphs" fill="#333" stroke="#333" stroke-width="0.16">sgAAVS1</text>
<rect x="260.90" y="494.40" width="10.00" height="4.70" fill="#2ba6de"/>
<text x="274.00" y="499.70" font-size="7.0" textLength="79.90" lengthAdjust="spacingAndGlyphs" fill="#333" stroke="#333" stroke-width="0.16">sgAAVS1 + sgCEBPA cisRE</text>
<rect x="365.90" y="485.90" width="10.00" height="4.70" fill="#3db54b"/>
<text x="379.00" y="491.20" font-size="7.0" textLength="31.70" lengthAdjust="spacingAndGlyphs" fill="#333" stroke="#333" stroke-width="0.16">sgMECOM</text>
<rect x="365.90" y="494.40" width="10.00" height="4.70" fill="#f7941d"/>
<text x="379.00" y="499.70" font-size="7.0" textLength="85.00" lengthAdjust="spacingAndGlyphs" fill="#333" stroke="#333" stroke-width="0.16">sgMECOM + sgCEBPA cisRE</text>
<rect x="48.30" y="587.49" width="9.10" height="52.91" fill="#a88bbb"/>
<line x1="52.85" y1="587.49" x2="52.85" y2="585.28" stroke="#3f1b5c" stroke-width="0.7"/>
<line x1="50.85" y1="585.28" x2="54.85" y2="585.28" stroke="#3f1b5c" stroke-width="0.7"/>
<circle cx="49.25" cy="584.17" r="1.30" fill="#3f1b5c"/>
<circle cx="52.85" cy="590.96" r="1.30" fill="#3f1b5c"/>
<circle cx="56.45" cy="585.83" r="1.30" fill="#3f1b5c"/>
<rect x="63.60" y="600.24" width="9.00" height="40.16" fill="#8acdef"/>
<circle cx="64.50" cy="600.24" r="1.30" fill="#27a3dc"/>
<circle cx="68.10" cy="599.96" r="1.30" fill="#27a3dc"/>
<circle cx="71.70" cy="600.24" r="1.30" fill="#27a3dc"/>
<rect x="78.60" y="635.69" width="9.10" height="4.71" fill="#95d8a0"/>
<circle cx="79.55" cy="635.97" r="1.30" fill="#3db54b"/>
<circle cx="83.15" cy="635.97" r="1.30" fill="#3db54b"/>
<circle cx="86.75" cy="635.97" r="1.30" fill="#3db54b"/>
<rect x="93.80" y="605.77" width="9.10" height="34.62" fill="#fcc07c"/>
<circle cx="94.75" cy="605.36" r="1.30" fill="#f7941d"/>
<circle cx="98.35" cy="607.71" r="1.30" fill="#f7941d"/>
<circle cx="101.95" cy="605.36" r="1.30" fill="#f7941d"/>
<line x1="42.90" y1="568.35" x2="42.90" y2="641.00" stroke="#231f20" stroke-width="1.3"/>
<line x1="40.40" y1="640.40" x2="108.80" y2="640.40" stroke="#231f20" stroke-width="1.3"/>
<line x1="40.40" y1="640.40" x2="42.90" y2="640.40" stroke="#231f20" stroke-width="0.9"/>
<text x="37.60" y="642.70" font-size="6.4" text-anchor="end" fill="#3a3a3a" stroke="#3a3a3a" stroke-width="0.16">0</text>
<line x1="40.40" y1="626.55" x2="42.90" y2="626.55" stroke="#231f20" stroke-width="0.9"/>
<text x="37.60" y="628.85" font-size="6.4" text-anchor="end" fill="#3a3a3a" stroke="#3a3a3a" stroke-width="0.16">10</text>
<line x1="40.40" y1="612.70" x2="42.90" y2="612.70" stroke="#231f20" stroke-width="0.9"/>
<text x="37.60" y="615.00" font-size="6.4" text-anchor="end" fill="#3a3a3a" stroke="#3a3a3a" stroke-width="0.16">20</text>
<line x1="40.40" y1="598.85" x2="42.90" y2="598.85" stroke="#231f20" stroke-width="0.9"/>
<text x="37.60" y="601.15" font-size="6.4" text-anchor="end" fill="#3a3a3a" stroke="#3a3a3a" stroke-width="0.16">30</text>
<line x1="40.40" y1="585.00" x2="42.90" y2="585.00" stroke="#231f20" stroke-width="0.9"/>
<text x="37.60" y="587.30" font-size="6.4" text-anchor="end" fill="#3a3a3a" stroke="#3a3a3a" stroke-width="0.16">40</text>
<line x1="40.40" y1="571.15" x2="42.90" y2="571.15" stroke="#231f20" stroke-width="0.9"/>
<text x="37.60" y="573.45" font-size="6.4" text-anchor="end" fill="#3a3a3a" stroke="#3a3a3a" stroke-width="0.16">50</text>
<polyline points="83.00,632.00 83.00,584.40 98.40,584.40 98.40,600.70" fill="none" stroke="#3d3d3d" stroke-width="0.95"/>
<circle cx="90.70" cy="581.10" r="0.95" fill="#222"/>
<text x="75.60" y="563.20" font-size="8.2" text-anchor="middle" textLength="33.80" lengthAdjust="spacingAndGlyphs" stroke="#231f20" stroke-width="0.16">Patient 1</text>
<text x="24.50" y="604.80" font-size="8.2" text-anchor="middle" textLength="56.00" lengthAdjust="spacingAndGlyphs" fill="#2a2a2a" stroke="#2a2a2a" stroke-width="0.16" transform="rotate(-90 24.50 604.80)">% CD34<tspan font-size="4.8" dy="-2.8">+</tspan><tspan dy="2.8">, CD117</tspan><tspan font-size="4.8" dy="-2.8">+</tspan></text>
<rect x="175.00" y="601.21" width="9.30" height="39.19" fill="#a88bbb"/>
<line x1="179.65" y1="601.21" x2="179.65" y2="599.60" stroke="#3f1b5c" stroke-width="0.7"/>
<line x1="177.65" y1="599.60" x2="181.65" y2="599.60" stroke="#3f1b5c" stroke-width="0.7"/>
<circle cx="176.25" cy="597.99" r="1.30" fill="#3f1b5c"/>
<circle cx="179.65" cy="603.29" r="1.30" fill="#3f1b5c"/>
<circle cx="183.05" cy="600.75" r="1.30" fill="#3f1b5c"/>
<rect x="190.00" y="583.01" width="9.30" height="57.39" fill="#8acdef"/>
<line x1="194.65" y1="583.01" x2="194.65" y2="580.47" stroke="#27a3dc" stroke-width="0.7"/>
<line x1="192.65" y1="580.47" x2="196.65" y2="580.47" stroke="#27a3dc" stroke-width="0.7"/>
<circle cx="191.25" cy="583.24" r="1.30" fill="#27a3dc"/>
<circle cx="194.65" cy="578.86" r="1.30" fill="#27a3dc"/>
<circle cx="198.05" cy="582.54" r="1.30" fill="#27a3dc"/>
<rect x="205.00" y="633.25" width="9.30" height="7.15" fill="#95d8a0"/>
<circle cx="206.25" cy="633.02" r="1.30" fill="#3db54b"/>
<circle cx="209.65" cy="633.49" r="1.30" fill="#3db54b"/>
<circle cx="213.05" cy="633.02" r="1.30" fill="#3db54b"/>
<rect x="220.00" y="620.12" width="9.30" height="20.28" fill="#fcc07c"/>
<circle cx="221.25" cy="619.89" r="1.30" fill="#f7941d"/>
<circle cx="224.65" cy="620.35" r="1.30" fill="#f7941d"/>
<circle cx="228.05" cy="619.89" r="1.30" fill="#f7941d"/>
<line x1="169.30" y1="568.45" x2="169.30" y2="641.00" stroke="#231f20" stroke-width="1.3"/>
<line x1="166.80" y1="640.40" x2="235.00" y2="640.40" stroke="#231f20" stroke-width="1.3"/>
<line x1="166.80" y1="640.40" x2="169.30" y2="640.40" stroke="#231f20" stroke-width="0.9"/>
<text x="164.50" y="642.70" font-size="6.4" text-anchor="end" fill="#3a3a3a" stroke="#3a3a3a" stroke-width="0.16">0</text>
<line x1="166.80" y1="617.35" x2="169.30" y2="617.35" stroke="#231f20" stroke-width="0.9"/>
<text x="164.50" y="619.65" font-size="6.4" text-anchor="end" fill="#3a3a3a" stroke="#3a3a3a" stroke-width="0.16">10000</text>
<line x1="166.80" y1="594.30" x2="169.30" y2="594.30" stroke="#231f20" stroke-width="0.9"/>
<text x="164.50" y="596.60" font-size="6.4" text-anchor="end" fill="#3a3a3a" stroke="#3a3a3a" stroke-width="0.16">20000</text>
<line x1="166.80" y1="571.25" x2="169.30" y2="571.25" stroke="#231f20" stroke-width="0.9"/>
<text x="164.50" y="573.55" font-size="6.4" text-anchor="end" fill="#3a3a3a" stroke="#3a3a3a" stroke-width="0.16">30000</text>
<polyline points="209.30,631.00 209.30,584.00 225.00,584.00 225.00,619.00" fill="none" stroke="#3d3d3d" stroke-width="0.95"/>
<circle cx="217.15" cy="580.70" r="0.95" fill="#222"/>
<text x="201.90" y="563.20" font-size="8.2" text-anchor="middle" textLength="33.80" lengthAdjust="spacingAndGlyphs" stroke="#231f20" stroke-width="0.16">Patient 1</text>
<text x="142.50" y="604.40" font-size="8.4" text-anchor="middle" textLength="30.10" lengthAdjust="spacingAndGlyphs" fill="#2a2a2a" stroke="#2a2a2a" stroke-width="0.16" transform="rotate(-90 142.50 604.40)">CD34 MFI</text>
<rect x="292.70" y="589.53" width="9.20" height="50.87" fill="#a88bbb"/>
<circle cx="293.20" cy="589.53" r="1.30" fill="#3f1b5c"/>
<circle cx="297.30" cy="588.41" r="1.30" fill="#3f1b5c"/>
<circle cx="301.40" cy="589.32" r="1.30" fill="#3f1b5c"/>
<rect x="308.50" y="580.98" width="9.40" height="59.42" fill="#8acdef"/>
<circle cx="309.10" cy="580.98" r="1.30" fill="#27a3dc"/>
<circle cx="313.20" cy="580.98" r="1.30" fill="#27a3dc"/>
<circle cx="317.30" cy="580.98" r="1.30" fill="#27a3dc"/>
<rect x="325.00" y="627.19" width="9.40" height="13.21" fill="#95d8a0"/>
<circle cx="325.60" cy="627.61" r="1.30" fill="#3db54b"/>
<circle cx="329.70" cy="625.18" r="1.30" fill="#3db54b"/>
<circle cx="333.80" cy="626.99" r="1.30" fill="#3db54b"/>
<rect x="341.20" y="602.31" width="9.40" height="38.09" fill="#fcc07c"/>
<circle cx="341.80" cy="603.01" r="1.30" fill="#f7941d"/>
<circle cx="345.90" cy="598.00" r="1.30" fill="#f7941d"/>
<circle cx="350.00" cy="601.20" r="1.30" fill="#f7941d"/>
<line x1="286.40" y1="568.10" x2="286.40" y2="641.00" stroke="#231f20" stroke-width="1.3"/>
<line x1="283.90" y1="640.40" x2="356.50" y2="640.40" stroke="#231f20" stroke-width="1.3"/>
<line x1="283.90" y1="640.40" x2="286.40" y2="640.40" stroke="#231f20" stroke-width="0.9"/>
<text x="281.00" y="642.70" font-size="6.4" text-anchor="end" fill="#3a3a3a" stroke="#3a3a3a" stroke-width="0.16">0</text>
<line x1="283.90" y1="626.50" x2="286.40" y2="626.50" stroke="#231f20" stroke-width="0.9"/>
<text x="281.00" y="628.80" font-size="6.4" text-anchor="end" fill="#3a3a3a" stroke="#3a3a3a" stroke-width="0.16">20</text>
<line x1="283.90" y1="612.60" x2="286.40" y2="612.60" stroke="#231f20" stroke-width="0.9"/>
<text x="281.00" y="614.90" font-size="6.4" text-anchor="end" fill="#3a3a3a" stroke="#3a3a3a" stroke-width="0.16">40</text>
<line x1="283.90" y1="598.70" x2="286.40" y2="598.70" stroke="#231f20" stroke-width="0.9"/>
<text x="281.00" y="601.00" font-size="6.4" text-anchor="end" fill="#3a3a3a" stroke="#3a3a3a" stroke-width="0.16">60</text>
<line x1="283.90" y1="584.80" x2="286.40" y2="584.80" stroke="#231f20" stroke-width="0.9"/>
<text x="281.00" y="587.10" font-size="6.4" text-anchor="end" fill="#3a3a3a" stroke="#3a3a3a" stroke-width="0.16">80</text>
<line x1="283.90" y1="570.90" x2="286.40" y2="570.90" stroke="#231f20" stroke-width="0.9"/>
<text x="281.00" y="573.20" font-size="6.4" text-anchor="end" fill="#3a3a3a" stroke="#3a3a3a" stroke-width="0.16">100</text>
<polyline points="329.50,622.20 329.50,580.40 346.10,580.40 346.10,596.20" fill="none" stroke="#3d3d3d" stroke-width="0.95"/>
<circle cx="337.80" cy="577.10" r="0.95" fill="#222"/>
<text x="321.40" y="561.90" font-size="8.5" text-anchor="middle" textLength="35.00" lengthAdjust="spacingAndGlyphs" stroke="#231f20" stroke-width="0.16">Patient 2</text>
<text x="265.00" y="604.50" font-size="8.4" text-anchor="middle" textLength="27.30" lengthAdjust="spacingAndGlyphs" fill="#2a2a2a" stroke="#2a2a2a" stroke-width="0.16" transform="rotate(-90 265.00 604.50)">% CD34<tspan font-size="4.8" dy="-2.8">+</tspan></text>
<rect x="415.80" y="585.94" width="9.40" height="54.46" fill="#a88bbb"/>
<line x1="420.50" y1="585.94" x2="420.50" y2="578.63" stroke="#3f1b5c" stroke-width="0.7"/>
<line x1="418.50" y1="578.63" x2="422.50" y2="578.63" stroke="#3f1b5c" stroke-width="0.7"/>
<circle cx="416.50" cy="579.67" r="1.30" fill="#3f1b5c"/>
<circle cx="420.50" cy="592.90" r="1.30" fill="#3f1b5c"/>
<circle cx="424.50" cy="581.76" r="1.30" fill="#3f1b5c"/>
<rect x="432.20" y="582.81" width="9.40" height="57.59" fill="#8acdef"/>
<line x1="436.90" y1="582.81" x2="436.90" y2="579.67" stroke="#27a3dc" stroke-width="0.7"/>
<line x1="434.90" y1="579.67" x2="438.90" y2="579.67" stroke="#27a3dc" stroke-width="0.7"/>
<circle cx="432.90" cy="579.67" r="1.30" fill="#27a3dc"/>
<circle cx="436.90" cy="586.81" r="1.30" fill="#27a3dc"/>
<circle cx="440.90" cy="579.67" r="1.30" fill="#27a3dc"/>
<rect x="448.10" y="623.87" width="9.30" height="16.53" fill="#95d8a0"/>
<line x1="452.75" y1="623.87" x2="452.75" y2="622.48" stroke="#3db54b" stroke-width="0.7"/>
<line x1="450.75" y1="622.48" x2="454.75" y2="622.48" stroke="#3db54b" stroke-width="0.7"/>
<circle cx="448.75" cy="621.78" r="1.30" fill="#3db54b"/>
<circle cx="452.75" cy="627.18" r="1.30" fill="#3db54b"/>
<circle cx="456.75" cy="624.57" r="1.30" fill="#3db54b"/>
<rect x="464.20" y="605.77" width="9.50" height="34.63" fill="#fcc07c"/>
<line x1="468.95" y1="605.77" x2="468.95" y2="604.38" stroke="#f7941d" stroke-width="0.7"/>
<line x1="466.95" y1="604.38" x2="470.95" y2="604.38" stroke="#f7941d" stroke-width="0.7"/>
<circle cx="464.95" cy="605.77" r="1.30" fill="#f7941d"/>
<circle cx="468.95" cy="604.56" r="1.30" fill="#f7941d"/>
<circle cx="472.95" cy="604.90" r="1.30" fill="#f7941d"/>
<line x1="410.10" y1="568.00" x2="410.10" y2="641.00" stroke="#231f20" stroke-width="1.3"/>
<line x1="407.60" y1="640.40" x2="480.30" y2="640.40" stroke="#231f20" stroke-width="1.3"/>
<line x1="407.60" y1="640.40" x2="410.10" y2="640.40" stroke="#231f20" stroke-width="0.9"/>
<text x="404.70" y="642.70" font-size="6.4" text-anchor="end" fill="#3a3a3a" stroke="#3a3a3a" stroke-width="0.16">0</text>
<line x1="407.60" y1="623.00" x2="410.10" y2="623.00" stroke="#231f20" stroke-width="0.9"/>
<text x="404.70" y="625.30" font-size="6.4" text-anchor="end" fill="#3a3a3a" stroke="#3a3a3a" stroke-width="0.16">10</text>
<line x1="407.60" y1="605.60" x2="410.10" y2="605.60" stroke="#231f20" stroke-width="0.9"/>
<text x="404.70" y="607.90" font-size="6.4" text-anchor="end" fill="#3a3a3a" stroke="#3a3a3a" stroke-width="0.16">20</text>
<line x1="407.60" y1="588.20" x2="410.10" y2="588.20" stroke="#231f20" stroke-width="0.9"/>
<text x="404.70" y="590.50" font-size="6.4" text-anchor="end" fill="#3a3a3a" stroke="#3a3a3a" stroke-width="0.16">30</text>
<line x1="407.60" y1="570.80" x2="410.10" y2="570.80" stroke="#231f20" stroke-width="0.9"/>
<text x="404.70" y="573.10" font-size="6.4" text-anchor="end" fill="#3a3a3a" stroke="#3a3a3a" stroke-width="0.16">40</text>
<polyline points="452.80,617.40 452.80,581.80 469.20,581.80 469.20,599.60" fill="none" stroke="#3d3d3d" stroke-width="0.95"/>
<circle cx="461.00" cy="578.50" r="0.95" fill="#222"/>
<text x="445.10" y="561.90" font-size="8.5" text-anchor="middle" textLength="34.20" lengthAdjust="spacingAndGlyphs" stroke="#231f20" stroke-width="0.16">Patient 3</text>
<text x="391.90" y="604.50" font-size="8.4" text-anchor="middle" textLength="27.30" lengthAdjust="spacingAndGlyphs" fill="#2a2a2a" stroke="#2a2a2a" stroke-width="0.16" transform="rotate(-90 391.90 604.50)">% CD34<tspan font-size="4.8" dy="-2.8">+</tspan></text>
<defs>
<radialGradient id="halo" cx="50%" cy="50%" r="50%"><stop offset="0" stop-color="#d9caf0"/><stop offset="0.7" stop-color="#e6dcf4"/><stop offset="1" stop-color="#f3eefa"/></radialGradient>
<radialGradient id="rbc" cx="50%" cy="50%" r="50%"><stop offset="0" stop-color="#f6d3d4"/><stop offset="0.55" stop-color="#efb6b9"/><stop offset="1" stop-color="#e3979e"/></radialGradient>
<linearGradient id="wedge" x1="0" x2="1" y1="0" y2="0"><stop offset="0" stop-color="#eef0f8"/><stop offset="0.35" stop-color="#cbc6e4"/><stop offset="0.7" stop-color="#a890cd"/><stop offset="1" stop-color="#8a62b5"/></linearGradient>
<linearGradient id="cuv" x1="0" x2="0" y1="0" y2="1"><stop offset="0" stop-color="#e8e8ea"/><stop offset="0.45" stop-color="#ebe6e6"/><stop offset="0.6" stop-color="#efcfcd"/><stop offset="1" stop-color="#e6b4b2"/></linearGradient>
</defs>
<text x="57.20" y="30.00" font-size="8.6" text-anchor="middle" stroke="#231f20" stroke-width="0.16">Primary MECOM<tspan font-size="5" dy="-3.2">+</tspan></text>
<text x="59.10" y="40.60" font-size="8.6" text-anchor="middle" textLength="52.00" lengthAdjust="spacingAndGlyphs" stroke="#231f20" stroke-width="0.16">AML samples</text>
<path d="M10.2 79 Q10.5 76.5 15 75.8 L19 73.5 L25 73.5 L29 75.3 Q38 76 41.5 78.5 Q43.5 80.5 44.3 84 L48.5 103 L51.5 108.5 L50.5 112.5 L45.5 112.3 L42 108 L38.5 95 L38 91.5 L38 112.3 L10.2 112.3 Z" fill="#efedee" stroke="#d6d8dc" stroke-width="0.45"/>
<path d="M15 75.8 Q19 77.2 22 77 Q25.5 76.8 29 75.3" fill="none" stroke="#d0d3d8" stroke-width="0.4"/>
<path d="M16.6 66 L16.8 72.5 Q21.8 75.5 27 72.5 L27.2 66 Z" fill="#eceef1" stroke="#cdd2d9" stroke-width="0.4"/>
<path d="M15.0 60 Q14.6 52 21.7 52 Q28.8 52 28.4 60 Q28.2 68.4 21.7 68.8 Q15.2 68.4 15.0 60 Z" fill="#eef0f4" stroke="#bfc6d0" stroke-width="0.45"/>
<path d="M11.6 63.5 Q10.6 46.2 21.3 46.1 Q31.9 46.2 31.1 63 L28.7 63.6 Q29.3 55.3 21.7 53.8 Q14.5 54.3 14.9 63.8 Z" fill="#bac8dc" stroke="#a4b4cc" stroke-width="0.45"/>
<path d="M17.2 56.8 h2.2 M23.6 56.8 h2.2 M20.6 65.2 h2.4" stroke="#cfd3da" stroke-width="0.5"/>
<path d="M42.2 106.2 L43.6 104.6 L45 106.8 L46.4 104.6 L47.8 106.8 L49.2 104.6 L50.6 106.2 L50.8 109.2 L49.4 110.6 L48 108.6 L46.6 110.6 L45.2 108.6 L43.8 110.6 L42.6 109.2 Z" fill="#5fbcb2"/>
<path d="M42.4 107.6 L43.8 106 L45.2 108 L46.6 106 L48 108 L49.4 106 L50.6 107.6" fill="none" stroke="#1f8c80" stroke-width="0.9"/>
<path d="M51.5 112 Q54 113.5 56 111 Q57.5 109.5 59 111.5" fill="none" stroke="#b8bcc2" stroke-width="0.6"/>
<line x1="57.00" y1="110.00" x2="61.50" y2="114.50" stroke="#3aa99c" stroke-width="1.0"/>
<line x1="61.6" y1="114.6" x2="65.0" y2="119.0" stroke="#d5773f" stroke-width="2.9" stroke-linecap="round"/>
<line x1="65.6" y1="119.8" x2="71.6" y2="127.6" stroke="#9b2d39" stroke-width="3.2" stroke-linecap="round"/>
<line x1="67.60" y1="118.00" x2="72.00" y2="91.00" stroke="#9a9a9a" stroke-width="0.5"/>
<line x1="69.80" y1="119.00" x2="101.00" y2="99.00" stroke="#9a9a9a" stroke-width="0.5"/>
<circle cx="89.80" cy="84.50" r="18.40" fill="#fff" stroke="#a0a0a0" stroke-width="0.7"/>
<circle cx="88.60" cy="85.60" r="7.60" fill="url(#halo)"/>
<circle cx="88.50" cy="85.80" r="3.60" fill="#6a35a2"/>
<ellipse cx="85.0" cy="73.6" rx="6.2" ry="4.6" fill="url(#rbc)"/>
<ellipse cx="96.9" cy="75.6" rx="3.4" ry="4.3" fill="url(#rbc)"/>
<ellipse cx="77.7" cy="79.6" rx="3.3" ry="3.0" fill="url(#rbc)"/>
<ellipse cx="101.5" cy="88.8" rx="4.5" ry="6.8" fill="url(#rbc)"/>
<ellipse cx="77.7" cy="90.0" rx="3.0" ry="3.0" fill="url(#rbc)"/>
<ellipse cx="81.9" cy="96.9" rx="3.1" ry="2.9" fill="url(#rbc)"/>
<ellipse cx="90.8" cy="97.3" rx="3.1" ry="2.9" fill="url(#rbc)"/>
<text x="62.40" y="150.20" font-size="8.6" text-anchor="middle" textLength="101.70" lengthAdjust="spacingAndGlyphs" stroke="#231f20" stroke-width="0.16">Cas9 RNP nucleofection +</text>
<text x="62.30" y="160.60" font-size="8.6" text-anchor="middle" textLength="55.40" lengthAdjust="spacingAndGlyphs" stroke="#231f20" stroke-width="0.16">ex vivo culture</text>
<path d="M7.9 186 L7.9 195 A21.9 10.5 0 0 0 51.7 195 L51.7 186 Z" fill="#ea625e"/>
<ellipse cx="29.8" cy="185.4" rx="21.9" ry="10.4" fill="#dde7ef" stroke="#cbd7e1" stroke-width="0.5"/>
<ellipse cx="29.8" cy="187.0" rx="21.0" ry="9.6" fill="#ec6a64"/>
<ellipse cx="29.8" cy="187.4" rx="19.4" ry="8.6" fill="#f0847e"/>
<circle cx="24.00" cy="184.00" r="2.70" fill="#c8aee2" fill-opacity="0.85"/>
<circle cx="31.00" cy="183.20" r="2.70" fill="#c8aee2" fill-opacity="0.85"/>
<circle cx="38.00" cy="183.50" r="2.70" fill="#c8aee2" fill-opacity="0.85"/>
<circle cx="40.50" cy="186.50" r="2.70" fill="#c8aee2" fill-opacity="0.85"/>
<circle cx="19.00" cy="188.00" r="2.70" fill="#c8aee2" fill-opacity="0.85"/>
<circle cx="16.00" cy="190.50" r="2.70" fill="#c8aee2" fill-opacity="0.85"/>
<circle cx="27.50" cy="188.50" r="2.70" fill="#c8aee2" fill-opacity="0.85"/>
<circle cx="35.00" cy="188.50" r="2.70" fill="#c8aee2" fill-opacity="0.85"/>
<circle cx="22.00" cy="194.00" r="2.70" fill="#c8aee2" fill-opacity="0.85"/>
<circle cx="30.50" cy="193.00" r="2.70" fill="#c8aee2" fill-opacity="0.85"/>
<circle cx="28.50" cy="196.00" r="2.70" fill="#c8aee2" fill-opacity="0.85"/>
<circle cx="33.50" cy="196.00" r="2.70" fill="#c8aee2" fill-opacity="0.85"/>
<circle cx="43.50" cy="192.50" r="2.70" fill="#c8aee2" fill-opacity="0.85"/>
<circle cx="16.50" cy="187.00" r="2.70" fill="#c8aee2" fill-opacity="0.85"/>
<circle cx="24.00" cy="184.00" r="1.60" fill="#5f3497"/>
<circle cx="31.00" cy="183.20" r="1.60" fill="#5f3497"/>
<circle cx="38.00" cy="183.50" r="1.60" fill="#5f3497"/>
<circle cx="40.50" cy="186.50" r="1.60" fill="#5f3497"/>
<circle cx="19.00" cy="188.00" r="1.60" fill="#5f3497"/>
<circle cx="16.00" cy="190.50" r="1.60" fill="#5f3497"/>
<circle cx="27.50" cy="188.50" r="1.60" fill="#5f3497"/>
<circle cx="35.00" cy="188.50" r="1.60" fill="#5f3497"/>
<circle cx="22.00" cy="194.00" r="1.60" fill="#5f3497"/>
<circle cx="30.50" cy="193.00" r="1.60" fill="#5f3497"/>
<circle cx="28.50" cy="196.00" r="1.60" fill="#5f3497"/>
<circle cx="33.50" cy="196.00" r="1.60" fill="#5f3497"/>
<circle cx="43.50" cy="192.50" r="1.60" fill="#5f3497"/>
<circle cx="16.50" cy="187.00" r="1.60" fill="#5f3497"/>
<path d="M62 170.5 L72.5 170 L75 171 L75 205.5 L64 206.5 L62 205.5 Z" fill="url(#cuv)" stroke="#b9bbbe" stroke-width="0.5"/>
<path d="M62 170.5 L64 171.5 L64 206.5" fill="none" stroke="#c4c6c9" stroke-width="0.5"/>
<path d="M64 171.5 L75 171" fill="none" stroke="#c4c6c9" stroke-width="0.5"/>
<path d="M75 186 L81.5 181 L90.5 201 L75 205 Z" fill="#dfe8f1"/>
<circle cx="98.70" cy="184.20" r="18.40" fill="#fff" stroke="#a6a6a6" stroke-width="0.7"/>
<circle cx="95.40" cy="173.80" r="6.20" fill="#e2d6f2"/>
<circle cx="95.40" cy="173.80" r="4.40" fill="#7a3fae"/>
<circle cx="94.60" cy="173.20" r="2.00" fill="#6a2f9c"/>
<circle cx="111.50" cy="186.40" r="6.20" fill="#e2d6f2"/>
<circle cx="111.50" cy="186.40" r="4.40" fill="#7a3fae"/>
<circle cx="110.70" cy="185.80" r="2.00" fill="#6a2f9c"/>
<circle cx="89.70" cy="191.00" r="6.20" fill="#e2d6f2"/>
<circle cx="89.70" cy="191.00" r="4.40" fill="#7a3fae"/>
<circle cx="88.90" cy="190.40" r="2.00" fill="#6a2f9c"/>
<line x1="105.50" y1="172.00" x2="108.50" y2="171.00" stroke="#8e8794" stroke-width="1.0"/>
<line x1="104.50" y1="177.50" x2="107.00" y2="179.50" stroke="#8e8794" stroke-width="1.0"/>
<line x1="94.00" y1="183.50" x2="96.50" y2="185.50" stroke="#8e8794" stroke-width="1.0"/>
<line x1="99.50" y1="192.00" x2="102.50" y2="191.00" stroke="#8e8794" stroke-width="1.0"/>
<line x1="99.50" y1="199.50" x2="102.50" y2="198.00" stroke="#8e8794" stroke-width="1.0"/>
<line x1="86.00" y1="176.50" x2="87.50" y2="179.00" stroke="#8e8794" stroke-width="1.0"/>
<line x1="101.00" y1="189.00" x2="102.50" y2="193.00" stroke="#8e8794" stroke-width="1.0"/>
<polygon points="33.3,229.7 24.6,242.0 39.5,241.7" fill="#dcd0ee" stroke="#dcd0ee" stroke-width="4"/>
<circle cx="33.30" cy="229.70" r="7.40" fill="#dcd0ee"/>
<circle cx="24.60" cy="242.00" r="7.80" fill="#dcd0ee"/>
<circle cx="39.50" cy="241.70" r="7.30" fill="#dcd0ee"/>
<circle cx="33.30" cy="229.70" r="5.10" fill="#7d48ab"/>
<circle cx="32.80" cy="229.30" r="3.16" fill="#743f9f"/>
<circle cx="24.60" cy="242.00" r="5.60" fill="#7d48ab"/>
<circle cx="24.10" cy="241.60" r="3.47" fill="#743f9f"/>
<circle cx="39.50" cy="241.70" r="5.00" fill="#7d48ab"/>
<circle cx="39.00" cy="241.30" r="3.10" fill="#743f9f"/>
<line x1="56.50" y1="235.00" x2="70.50" y2="235.00" stroke="#333" stroke-width="0.9"/>
<path d="M74 235 L69.2 232.6 L70.2 235 L69.2 237.4 Z" fill="#333"/>
<circle cx="91.80" cy="230.50" r="7.40" fill="#9676c2" stroke="#7858a6" stroke-width="0.9"/>
<circle cx="91.60" cy="230.30" r="4.40" fill="#8e6dbc"/>
<circle cx="105.20" cy="234.00" r="7.30" fill="#9272c0" stroke="#7656a4" stroke-width="0.9"/>
<circle cx="105.00" cy="233.80" r="4.40" fill="#8a68b8"/>
<circle cx="95.60" cy="243.30" r="7.30" fill="#d6cdea" stroke="#c2b5dd" stroke-width="0.6"/>
<path d="M93 242 Q95.5 239.5 98 241.5 Q96.5 244.5 98.5 246.5" fill="none" stroke="#b9a7d8" stroke-width="1.4"/>
<path d="M20.6 264.7 L112.5 256.2 L112.5 264.7 Z" fill="url(#wedge)"/>
<text x="62.30" y="274.60" font-size="7.3" text-anchor="middle" textLength="66.60" lengthAdjust="spacingAndGlyphs" stroke="#231f20" stroke-width="0.16">Myeloid differentiation</text>
</svg>
</body></html>
